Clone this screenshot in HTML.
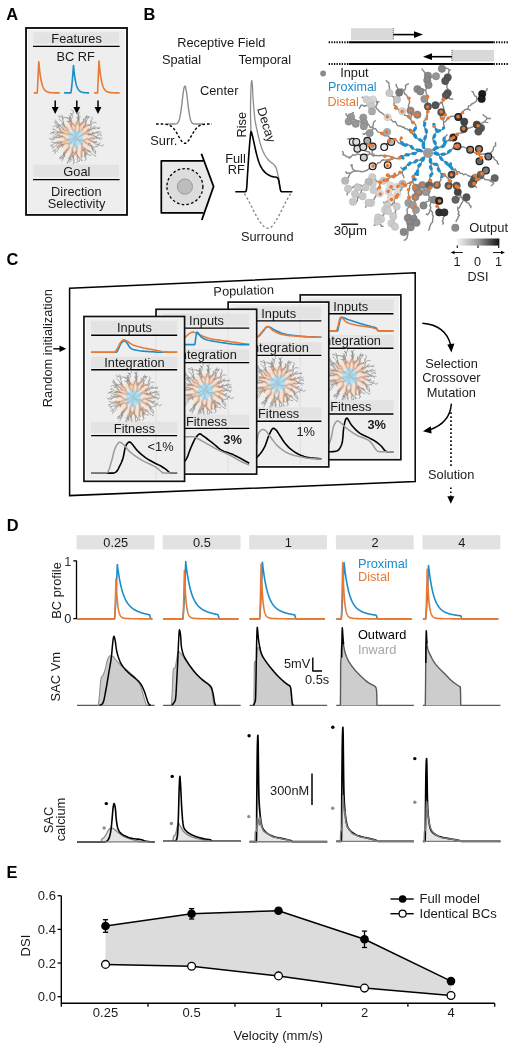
<!DOCTYPE html>
<html><head><meta charset="utf-8"><title>Figure</title>
<style>
html,body{margin:0;padding:0;background:#fff;width:516px;height:1050px;overflow:hidden;}
svg{display:block;will-change:transform;}
text{font-family:"Liberation Sans",sans-serif;}
</style></head><body>
<svg width="516" height="1050" viewBox="0 0 516 1050">
<defs><linearGradient id="dsig" x1="0" x2="1" y1="0" y2="0"><stop offset="0" stop-color="#f4f4f4"/><stop offset="0.5" stop-color="#9a9a9a"/><stop offset="1" stop-color="#111"/></linearGradient><g id="sac"><circle cx="0" cy="0" r="16.5" fill="#f5dccb" fill-opacity="0.55"/><circle cx="0" cy="0" r="7.4" fill="#b0dff1"/><path d="M6.95,2.2L8.05,2.24M8.05,2.24L9.1,1.93M9.1,1.93L9.96,1.24M9.96,1.24L10.93,0.72M10.93,0.72L12.03,0.61M12.03,0.61L13.1,0.87M13.1,0.87L14.19,0.71M14.19,0.71L15.22,0.33M15.22,0.33L16.11,-0.32M16.11,-0.32L17.18,-0.09M17.18,-0.09L18.23,0.25M12.03,0.61L12.94,1.23M12.94,1.23L13.9,1.77M13.9,1.77L14.84,2.33M14.84,2.33L15.89,2.67M15.89,2.67L16.93,3.02M16.93,3.02L17.83,3.65M16.93,3.02L17.8,3.69M6.95,2.19L7.98,2.56M7.98,2.56L8.58,3.49M8.58,3.49L9.4,4.23M9.4,4.23L10.47,4.45M10.47,4.45L11.45,4.96M11.45,4.96L12.12,5.83M12.12,5.83L13,6.48M13,6.48L14,6.95M14,6.95L15.02,7.36M15.02,7.36L16.03,7.79M10.47,4.45L11.39,5.05M11.39,5.05L12.35,5.59M12.35,5.59L13.41,5.89M13.41,5.89L14.5,6.01M14.5,6.01L15.28,6.8M15.28,6.8L15.72,7.8M15.72,7.8L16.17,8.81M5.86,4.37L6.33,5.37M6.33,5.37L6.33,6.47M6.33,6.47L6.36,7.57M6.36,7.57L6.77,8.59M6.77,8.59L7.03,9.66M7.03,9.66L7.67,10.55M7.67,10.55L8.35,11.42M8.35,11.42L9.44,11.6M9.44,11.6L10.54,11.54M10.54,11.54L11.51,12.05M11.51,12.05L12.42,12.67M6.77,8.59L7.67,9.22M7.67,9.22L8.39,10.05M8.39,10.05L8.93,11.01M8.93,11.01L9.14,12.09M9.14,12.09L9.48,13.14M9.48,13.14L10.22,13.95M10.22,13.95L11.04,14.69M6.09,5.45L5.99,6.55M5.99,6.55L6.3,7.6M6.3,7.6L6.4,8.7M6.4,8.7L6.55,9.79M6.55,9.79L7.04,10.77M7.04,10.77L7.76,11.61M7.76,11.61L8.57,12.35M8.57,12.35L9.26,13.21M9.26,13.21L9.52,14.28M9.52,14.28L9.59,15.38M9.52,14.28L9.38,15.37M6.4,8.7L6.48,9.79M6.48,9.79L6.64,10.88M6.64,10.88L6.22,11.9M6.22,11.9L6.14,13M6.14,13L6.07,14.09M6.07,14.09L5.99,15.19M5.99,15.19L5.88,16.29M5.88,16.29L5.88,17.39M0.29,7.64L1.18,8.29M1.18,8.29L1.41,9.36M1.41,9.36L1.2,10.44M1.2,10.44L1.1,11.54M1.1,11.54L0.88,12.62M0.88,12.62L0.72,13.71M0.72,13.71L0.84,14.8M0.84,14.8L1.06,15.88M1.06,15.88L1.46,16.9M1.46,16.9L2.3,17.61M1.46,16.9L1.87,17.92M0.88,12.62L0.39,13.6M0.39,13.6L-0.36,14.41M-0.36,14.41L-1.12,15.2M-1.12,15.2L-1.7,16.14M-1.7,16.14L-2.25,17.09M-2.25,17.09L-2.62,18.13M-2.25,17.09L-2.35,18.19M-1.69,7.9L-2.48,8.66M-2.48,8.66L-3.08,9.58M-3.08,9.58L-3.16,10.68M-3.16,10.68L-3.44,11.74M-3.44,11.74L-3.31,12.83M-3.31,12.83L-3.1,13.91M-3.1,13.91L-3.21,15.01M-3.21,15.01L-3.57,16.05M-3.57,16.05L-3.61,17.14M-3.16,10.68L-3.11,11.78M-3.11,11.78L-3.25,12.87M-3.25,12.87L-3.41,13.96M-3.41,13.96L-3.51,15.05M-3.51,15.05L-4.33,15.78M-4.33,15.78L-4.7,16.82M-4.7,16.82L-5.42,17.65M-5.7,4.5L-6.5,5.26M-6.5,5.26L-6.66,6.35M-6.66,6.35L-6.58,7.45M-6.58,7.45L-6.64,8.55M-6.64,8.55L-6.53,9.64M-6.53,9.64L-7,10.64M-7,10.64L-7.8,11.4M-7.8,11.4L-8.77,11.9M-8.77,11.9L-9.79,12.32M-9.79,12.32L-10.14,13.37M-10.14,13.37L-10.55,14.38M-6.64,8.55L-7.08,9.56M-7.08,9.56L-7.87,10.32M-7.87,10.32L-8.45,11.25M-8.45,11.25L-8.98,12.22M-8.98,12.22L-9.27,13.28M-9.27,13.28L-10,14.1M-10,14.1L-10.9,14.73M-9.27,13.28L-9.97,14.13M-9.97,14.13L-10.5,15.09M-5.45,4.84L-6.5,5.16M-6.5,5.16L-7.6,5.21M-7.6,5.21L-8.68,5.01M-8.68,5.01L-9.78,5M-9.78,5L-10.69,5.61M-10.69,5.61L-11.72,6M-11.72,6L-12.61,6.65M-12.61,6.65L-13.62,7.09M-13.62,7.09L-14.69,7.34M-14.69,7.34L-15.51,8.07M-10.69,5.61L-11.78,5.79M-11.78,5.79L-12.68,6.43M-12.68,6.43L-13.77,6.52M-13.77,6.52L-14.84,6.78M-14.84,6.78L-15.93,6.93M-15.93,6.93L-16.89,7.48M-6.96,2L-8.05,1.88M-8.05,1.88L-9.15,1.89M-9.15,1.89L-10.12,2.4M-10.12,2.4L-11.01,3.05M-11.01,3.05L-11.97,3.58M-11.97,3.58L-13.06,3.77M-13.06,3.77L-14.16,3.78M-14.16,3.78L-15.26,3.83M-15.26,3.83L-16.23,4.33M-16.23,4.33L-17.18,4.9M-11.97,3.58L-12.93,4.12M-12.93,4.12L-13.91,4.62M-13.91,4.62L-15.01,4.52M-15.01,4.52L-15.98,4.01M-15.98,4.01L-17.01,3.63M-17.01,3.63L-18.09,3.83M-7.03,1.45L-8.11,1.27M-8.11,1.27L-9.21,1.2M-9.21,1.2L-10.16,0.64M-10.16,0.64L-10.92,-0.15M-10.92,-0.15L-11.46,-1.11M-11.46,-1.11L-12.47,-1.55M-12.47,-1.55L-13.4,-2.14M-13.4,-2.14L-14.48,-1.93M-14.48,-1.93L-15.49,-1.5M-15.49,-1.5L-16.58,-1.33M-16.58,-1.33L-17.55,-0.81M-12.47,-1.55L-13.51,-1.9M-13.51,-1.9L-14.61,-1.89M-14.61,-1.89L-15.55,-2.47M-15.55,-2.47L-16.43,-3.12M-16.43,-3.12L-17.53,-3.15M-6.89,-3.92L-7.97,-4.16M-7.97,-4.16L-9.07,-4.2M-9.07,-4.2L-10.11,-4.55M-10.11,-4.55L-11.06,-5.09M-11.06,-5.09L-12.07,-5.54M-12.07,-5.54L-13.17,-5.56M-13.17,-5.56L-14.16,-6.04M-14.16,-6.04L-15.23,-6.3M-15.23,-6.3L-16.3,-6.04M-16.3,-6.04L-17.34,-5.68M-15.23,-6.3L-16.33,-6.27M-11.06,-5.09L-12.13,-5.37M-12.13,-5.37L-13.2,-5.61M-13.2,-5.61L-14.11,-6.23M-14.11,-6.23L-14.64,-7.2M-14.64,-7.2L-15.22,-8.13M-15.22,-8.13L-15.73,-9.11M-5.73,-4.42L-6.46,-5.24M-6.46,-5.24L-6.98,-6.21M-6.98,-6.21L-7.63,-7.1M-7.63,-7.1L-8.64,-7.53M-8.64,-7.53L-9.68,-7.9M-9.68,-7.9L-10.77,-8.05M-10.77,-8.05L-11.82,-8.38M-11.82,-8.38L-12.5,-9.24M-12.5,-9.24L-12.9,-10.27M-12.9,-10.27L-13.7,-11.02M-7.63,-7.1L-7.75,-8.19M-7.75,-8.19L-8.09,-9.24M-8.09,-9.24L-8.79,-10.08M-8.79,-10.08L-9.77,-10.59M-9.77,-10.59L-10.75,-11.08M-10.75,-11.08L-11.21,-12.08M-11.21,-12.08L-11.96,-12.89M-11.21,-12.08L-11.61,-13.11M-1.86,-7.88L-2.76,-8.52M-2.76,-8.52L-3.28,-9.49M-3.28,-9.49L-3.7,-10.5M-3.7,-10.5L-3.99,-11.56M-3.99,-11.56L-4.12,-12.66M-4.12,-12.66L-4.16,-13.76M-4.16,-13.76L-4.25,-14.85M-4.25,-14.85L-4.23,-15.95M-4.23,-15.95L-4.68,-16.95M-3.7,-10.5L-4.15,-11.51M-4.15,-11.51L-4.63,-12.5M-4.63,-12.5L-4.77,-13.59M-4.77,-13.59L-5.34,-14.52M-5.34,-14.52L-5.92,-15.46M-5.92,-15.46L-6.12,-16.54M-0.46,-7.14L-0.5,-8.24M-0.5,-8.24L-0.39,-9.34M-0.39,-9.34L-0.01,-10.37M-0.01,-10.37L-0.09,-11.47M-0.09,-11.47L-0.8,-12.3M-0.8,-12.3L-1.51,-13.14M-1.51,-13.14L-2.33,-13.88M-2.33,-13.88L-3.02,-14.74M-3.02,-14.74L-3.7,-15.6M-3.7,-15.6L-4.5,-16.36M-4.5,-16.36L-4.58,-17.45M-0.09,-11.47L-0.14,-12.56M-0.14,-12.56L0.29,-13.57M0.29,-13.57L1.06,-14.36M1.06,-14.36L1.09,-15.46M1.09,-15.46L1.57,-16.45M1.57,-16.45L2.22,-17.34M2.22,-17.34L2.98,-18.14M3,-6.56L3.43,-7.57M3.43,-7.57L3.59,-8.66M3.59,-8.66L3.86,-9.73M3.86,-9.73L3.97,-10.82M3.97,-10.82L4.05,-11.92M4.05,-11.92L3.73,-12.97M3.73,-12.97L3.34,-14M3.34,-14L3.45,-15.1M3.45,-15.1L3.3,-16.19M3.3,-16.19L2.85,-17.19M4.05,-11.92L4.67,-12.83M4.67,-12.83L5.39,-13.66M5.39,-13.66L5.98,-14.59M5.98,-14.59L6.74,-15.38M6.74,-15.38L7.38,-16.28M6.74,-15.38L7.74,-15.85M4.09,-7.01L5.08,-7.48M5.08,-7.48L6.07,-7.97M6.07,-7.97L6.63,-8.92M6.63,-8.92L7.52,-9.56M7.52,-9.56L7.95,-10.57M7.95,-10.57L8.39,-11.58M8.39,-11.58L9.01,-12.49M9.01,-12.49L9.55,-13.44M9.55,-13.44L10.1,-14.4M6.63,-8.92L7.15,-9.88M7.15,-9.88L7.74,-10.81M7.74,-10.81L8.22,-11.8M8.22,-11.8L9.06,-12.51M9.06,-12.51L10.15,-12.65M10.15,-12.65L11.25,-12.63M11.25,-12.63L12.3,-12.97M6.98,-4.11L7.79,-4.85M7.79,-4.85L8.77,-5.35M8.77,-5.35L9.8,-5.73M9.8,-5.73L10.49,-6.59M10.49,-6.59L11.43,-7.16M11.43,-7.16L12.26,-7.89M12.26,-7.89L13.25,-8.35M13.25,-8.35L14.2,-8.91M14.2,-8.91L14.75,-9.87M10.49,-6.59L11.57,-6.8M11.57,-6.8L12.57,-7.25M12.57,-7.25L13.64,-7.5M13.64,-7.5L14.55,-8.13M14.55,-8.13L15.51,-8.67M6.36,-3.2L7.33,-3.72M7.33,-3.72L8.21,-4.38M8.21,-4.38L9.22,-4.82M9.22,-4.82L10.32,-4.81M10.32,-4.81L11.38,-4.53M11.38,-4.53L12.36,-4.03M12.36,-4.03L13.34,-3.53M13.34,-3.53L14.44,-3.52M14.44,-3.52L15.54,-3.59M15.54,-3.59L16.38,-4.3M16.38,-4.3L17.42,-4.65M10.32,-4.81L11.42,-4.86M11.42,-4.86L12.51,-4.77M12.51,-4.77L13.38,-4.1M13.38,-4.1L14.48,-3.99M14.48,-3.99L15.57,-4.07M15.57,-4.07L16.65,-3.85M16.65,-3.85L17.56,-3.23M17.56,-3.23L18.32,-2.43" fill="none" stroke="#f3c4a6" stroke-width="2.5" stroke-linecap="round"/><path d="M0.76,0.24L1.73,0.75M1.73,0.75L2.68,1.31M2.68,1.31L3.7,1.72M3.7,1.72L4.8,1.75M4.8,1.75L5.86,2.05M5.86,2.05L6.95,2.2M4.8,1.75L5.9,1.88M5.9,1.88L6.95,2.19M0.43,0.67L1.37,1.25M1.37,1.25L2.32,1.8M2.32,1.8L3.24,2.4M3.24,2.4L4.03,3.17M4.03,3.17L4.9,3.84M4.9,3.84L5.86,4.37M5.86,4.37L6.09,5.45M-0.1,0.79L0.24,1.84M0.24,1.84L0,2.92M0,2.92L-0.69,3.77M-0.69,3.77L-1.02,4.82M-1.02,4.82L-1.04,5.92M-1.04,5.92L-0.5,6.88M-0.5,6.88L0.29,7.64M-1.04,5.92L-1.03,7.02M-1.03,7.02L-1.69,7.9M-0.59,0.54L-1.24,1.43M-1.24,1.43L-1.93,2.29M-1.93,2.29L-2.94,2.72M-2.94,2.72L-3.8,3.41M-3.8,3.41L-4.73,3.99M-4.73,3.99L-5.7,4.5M-3.8,3.41L-4.72,4.01M-4.72,4.01L-5.45,4.84M-0.8,0.04L-1.9,0M-1.9,0L-2.87,0.51M-2.87,0.51L-3.97,0.64M-3.97,0.64L-5,1.01M-5,1.01L-5.94,1.59M-5.94,1.59L-6.96,2M-5.94,1.59L-7.03,1.45M-0.64,-0.48L-1.32,-1.35M-1.32,-1.35L-1.99,-2.22M-1.99,-2.22L-2.81,-2.95M-2.81,-2.95L-3.69,-3.62M-3.69,-3.62L-4.73,-3.97M-4.73,-3.97L-5.81,-3.75M-5.81,-3.75L-6.89,-3.92M-4.73,-3.97L-5.73,-4.42M-0.18,-0.78L0.12,-1.84M0.12,-1.84L-0.03,-2.93M-0.03,-2.93L-0.4,-3.97M-0.4,-3.97L-0.24,-5.05M-0.24,-5.05L-0.68,-6.06M-0.68,-6.06L-1.11,-7.08M-1.11,-7.08L-1.86,-7.88M-0.68,-6.06L-0.46,-7.14M0.37,-0.71L0.49,-1.8M0.49,-1.8L0.95,-2.81M0.95,-2.81L1.58,-3.71M1.58,-3.71L1.73,-4.8M1.73,-4.8L2.5,-5.58M2.5,-5.58L3,-6.56M2.5,-5.58L3.11,-6.5M3.11,-6.5L4.09,-7.01M0.74,-0.31L1.84,-0.25M1.84,-0.25L2.84,-0.7M2.84,-0.7L3.63,-1.47M3.63,-1.47L4.4,-2.25M4.4,-2.25L5.45,-2.58M5.45,-2.58L6.36,-3.2M6.36,-3.2L6.98,-4.11" fill="none" stroke="#a8dcf0" stroke-width="2.6" stroke-linecap="round"/><path d="M0.76,0.24 L1.73,0.75 L2.68,1.31 L3.7,1.72 L4.8,1.75M4.8,1.75 L5.86,2.05 L6.95,2.2 L8.05,2.24 L9.1,1.93 L9.96,1.24 L10.93,0.72 L12.03,0.61M12.03,0.61 L13.1,0.87M12.03,0.61 L12.94,1.23M4.8,1.75 L5.9,1.88 L6.95,2.19 L7.98,2.56 L8.58,3.49 L9.4,4.23 L10.47,4.45M10.47,4.45 L11.45,4.96 L12.12,5.83M10.47,4.45 L11.39,5.05M0.43,0.67 L1.37,1.25 L2.32,1.8 L3.24,2.4 L4.03,3.17 L4.9,3.84 L5.86,4.37M5.86,4.37 L6.33,5.37 L6.33,6.47 L6.36,7.57 L6.77,8.59M6.77,8.59 L7.03,9.66 L7.67,10.55M6.77,8.59 L7.67,9.22 L8.39,10.05M5.86,4.37 L6.09,5.45 L5.99,6.55 L6.3,7.6 L6.4,8.7M6.4,8.7 L6.55,9.79 L7.04,10.77M6.4,8.7 L6.48,9.79 L6.64,10.88 L6.22,11.9M-0.1,0.79 L0.24,1.84 L0,2.92 L-0.69,3.77 L-1.02,4.82 L-1.04,5.92M-1.04,5.92 L-0.5,6.88 L0.29,7.64 L1.18,8.29 L1.41,9.36 L1.2,10.44 L1.1,11.54 L0.88,12.62M-1.04,5.92 L-1.03,7.02 L-1.69,7.9 L-2.48,8.66 L-3.08,9.58 L-3.16,10.68M-3.16,10.68 L-3.44,11.74 L-3.31,12.83M-3.16,10.68 L-3.11,11.78 L-3.25,12.87M-0.59,0.54 L-1.24,1.43 L-1.93,2.29 L-2.94,2.72 L-3.8,3.41M-3.8,3.41 L-4.73,3.99 L-5.7,4.5 L-6.5,5.26 L-6.66,6.35 L-6.58,7.45 L-6.64,8.55M-6.64,8.55 L-6.53,9.64 L-7,10.64M-6.64,8.55 L-7.08,9.56 L-7.87,10.32M-3.8,3.41 L-4.72,4.01 L-5.45,4.84 L-6.5,5.16 L-7.6,5.21 L-8.68,5.01 L-9.78,5 L-10.69,5.61M-10.69,5.61 L-11.72,6M-10.69,5.61 L-11.78,5.79M-0.8,0.04 L-1.9,0 L-2.87,0.51 L-3.97,0.64 L-5,1.01 L-5.94,1.59M-5.94,1.59 L-6.96,2 L-8.05,1.88 L-9.15,1.89 L-10.12,2.4 L-11.01,3.05 L-11.97,3.58M-5.94,1.59 L-7.03,1.45 L-8.11,1.27 L-9.21,1.2 L-10.16,0.64 L-10.92,-0.15 L-11.46,-1.11 L-12.47,-1.55M-0.64,-0.48 L-1.32,-1.35 L-1.99,-2.22 L-2.81,-2.95 L-3.69,-3.62 L-4.73,-3.97M-4.73,-3.97 L-5.81,-3.75 L-6.89,-3.92 L-7.97,-4.16 L-9.07,-4.2 L-10.11,-4.55 L-11.06,-5.09M-11.06,-5.09 L-12.07,-5.54M-11.06,-5.09 L-12.13,-5.37M-4.73,-3.97 L-5.73,-4.42 L-6.46,-5.24 L-6.98,-6.21 L-7.63,-7.1M-7.63,-7.1 L-8.64,-7.53 L-9.68,-7.9 L-10.77,-8.05M-7.63,-7.1 L-7.75,-8.19 L-8.09,-9.24 L-8.79,-10.08M-0.18,-0.78 L0.12,-1.84 L-0.03,-2.93 L-0.4,-3.97 L-0.24,-5.05 L-0.68,-6.06M-0.68,-6.06 L-1.11,-7.08 L-1.86,-7.88 L-2.76,-8.52 L-3.28,-9.49 L-3.7,-10.5M-3.7,-10.5 L-3.99,-11.56 L-4.12,-12.66M-3.7,-10.5 L-4.15,-11.51 L-4.63,-12.5M-0.68,-6.06 L-0.46,-7.14 L-0.5,-8.24 L-0.39,-9.34 L-0.01,-10.37 L-0.09,-11.47M-0.09,-11.47 L-0.8,-12.3 L-1.51,-13.14M-0.09,-11.47 L-0.14,-12.56M0.37,-0.71 L0.49,-1.8 L0.95,-2.81 L1.58,-3.71 L1.73,-4.8 L2.5,-5.58M2.5,-5.58 L3,-6.56 L3.43,-7.57 L3.59,-8.66 L3.86,-9.73 L3.97,-10.82 L4.05,-11.92M4.05,-11.92 L3.73,-12.97M2.5,-5.58 L3.11,-6.5 L4.09,-7.01 L5.08,-7.48 L6.07,-7.97 L6.63,-8.92M6.63,-8.92 L7.52,-9.56 L7.95,-10.57M6.63,-8.92 L7.15,-9.88 L7.74,-10.81M0.74,-0.31 L1.84,-0.25 L2.84,-0.7 L3.63,-1.47 L4.4,-2.25 L5.45,-2.58 L6.36,-3.2M6.36,-3.2 L6.98,-4.11 L7.79,-4.85 L8.77,-5.35 L9.8,-5.73 L10.49,-6.59M10.49,-6.59 L11.43,-7.16M10.49,-6.59 L11.57,-6.8M6.36,-3.2 L7.33,-3.72 L8.21,-4.38 L9.22,-4.82 L10.32,-4.81M10.32,-4.81 L11.38,-4.53 L12.36,-4.03M10.32,-4.81 L11.42,-4.86 L12.51,-4.77" fill="none" stroke="#a09a98" stroke-width="0.45"/><path d="M13.1,0.87 L14.19,0.71 L15.22,0.33 L16.11,-0.32 L17.18,-0.09M17.18,-0.09 L18.23,0.25 L19.3,0 L20.37,-0.25 L21.47,-0.3 L22.52,-0.64 L23.53,-0.21 L24.61,0.02 L25.7,-0.13 L26.74,0.24M23.53,-0.21L24.79,2.03M12.94,1.23 L13.9,1.77 L14.84,2.33 L15.89,2.67 L16.93,3.02M16.93,3.02 L17.83,3.65 L18.92,3.79 L19.94,4.2 L21.04,4.13 L22.03,4.62M18.92,3.79L21.39,2.63M16.93,3.02 L17.8,3.69 L18.54,4.5 L19.38,5.22 L20.18,5.97 L21.27,6.1 L22.37,6.22 L23.35,6.72 L24.45,6.76 L25.4,7.31 L26.21,8.06M18.54,4.5L20.84,3.81M22.37,6.22L24.8,4.67M26.21,8.06L28.41,6.22M12.12,5.83 L13,6.48 L14,6.95 L15.02,7.36M15.02,7.36 L16.03,7.79 L17.06,8.18 L18.07,8.62 L19.17,8.61 L20.24,8.35 L21.33,8.18 L22.28,8.74M21.33,8.18L23.42,6.48M12.35,5.59 L13.41,5.89 L14.5,6.01 L15.28,6.8 L15.72,7.8M12.35,5.59L14.47,4.94M15.72,7.8 L16.17,8.81 L16.44,9.87 L16.6,10.96 L17.31,11.8 L17.81,12.78 L18.26,13.78 L19.04,14.56 L19.77,15.38 L20.76,15.87M16.44,9.87L18.66,9.92M15.72,7.8 L16.44,8.64 L16.73,9.7 L17.5,10.49 L18.51,10.91 L19.19,11.78 L19.63,12.79 L20.26,13.69M16.73,9.7L17.08,12.54M19.63,12.79L19.65,15.32M7.67,10.55 L8.35,11.42 L9.44,11.6 L10.54,11.54 L11.51,12.05M7.67,10.55L7.53,13.13M11.51,12.05L14.25,11.96M11.51,12.05 L12.42,12.67 L13.39,13.19 L14.29,13.82 L14.92,14.72 L15.82,15.35 L16.71,16 L17.72,16.43 L18.5,17.21 L19.57,17.48 L20.45,18.14M13.39,13.19L15.67,13.29M8.39,10.05 L8.93,11.01 L9.14,12.09 L9.48,13.14 L10.22,13.95 L11.04,14.69 L11.4,15.73M8.39,10.05L10.4,9.85M10.22,13.95L10.49,16.89M11.4,15.73 L12.27,16.4 L13.32,16.74 L14.41,16.86 L15.4,17.34M7.04,10.77 L7.76,11.61 L8.57,12.35 L9.26,13.21 L9.52,14.28M9.52,14.28L9.44,16.01M9.52,14.28 L9.59,15.38 L9.41,16.46 L9.25,17.55 L9.14,18.65 L9.9,19.44 L10.69,20.21M9.41,16.46L8.5,17.95M10.69,20.21L9.05,22.6M9.52,14.28 L9.38,15.37 L9.69,16.43 L9.69,17.53 L10.05,18.57 L10.14,19.66 L10.53,20.7M9.69,16.43L11.14,17.01M6.64,10.88 L6.22,11.9 L6.14,13 L6.07,14.09 L5.99,15.19M5.99,15.19 L5.88,16.29 L5.88,17.39 L5.74,18.48 L5.3,19.49 L5.46,20.58 L5.57,21.67 L5.85,22.73M5.88,17.39L7.55,18.58M5.57,21.67L7.19,22.17M0.88,12.62 L0.72,13.71 L0.84,14.8 L1.06,15.88 L1.46,16.9M0.84,14.8L-0.59,16.07M1.46,16.9 L2.3,17.61 L3.03,18.43 L3.81,19.21 L4.15,20.26 L4.05,21.35 L3.81,22.43 L3.81,23.53M3.03,18.43L1.81,20.88M3.81,22.43L2.64,23.44M1.46,16.9 L1.87,17.92 L2.16,18.98 L2.19,20.08 L1.73,21.08 L1.96,22.16 L2.17,23.24M2.17,23.24L0.49,24.91M0.88,12.62 L0.39,13.6 L-0.36,14.41 L-1.12,15.2 L-1.7,16.14 L-2.25,17.09M-0.36,14.41L-1.91,16.14M-2.25,17.09 L-2.62,18.13 L-2.83,19.21 L-2.45,20.24 L-2.48,21.34 L-2.17,22.4 L-1.92,23.47 L-1.95,24.57 L-2.3,25.61 L-2.83,26.57M-1.92,23.47L-0.56,24.55M-2.25,17.09 L-2.35,18.19 L-2.17,19.27 L-1.92,20.34 L-1.42,21.32 L-1.23,22.4M-3.31,12.83 L-3.1,13.91 L-3.21,15.01 L-3.57,16.05 L-3.61,17.14 L-4.2,18.07M-3.31,12.83L-1.77,14.5M-3.61,17.14L-2.56,19.75M-4.2,18.07 L-4.88,18.94 L-4.88,20.04 L-5.03,21.13 L-4.74,22.19 L-4.67,23.29M-4.88,20.04L-4.12,21.54M-4.2,18.07 L-4.59,19.1 L-5.37,19.87 L-5.93,20.82 L-6.28,21.87 L-6.68,22.89M-5.37,19.87L-7.12,21.11M-3.25,12.87 L-3.41,13.96 L-3.51,15.05 L-4.33,15.78 L-4.7,16.82M-3.25,12.87L-2.48,14.66M-4.7,16.82 L-5.42,17.65 L-5.66,18.72 L-6.12,19.72 L-6.22,20.82 L-6.72,21.8 L-7.5,22.57 L-8.02,23.54 L-8.09,24.64 L-8.5,25.66M-5.66,18.72L-7.84,20.14M-7.5,22.57L-5.56,24.58M-7,10.64 L-7.8,11.4 L-8.77,11.9 L-9.79,12.32 L-10.14,13.37 L-10.55,14.38M-10.14,13.37L-12.51,14.07M-10.55,14.38 L-11.11,15.33 L-11.76,16.22 L-11.89,17.31 L-11.57,18.36 L-11.86,19.42 L-12.31,20.43 L-12.87,21.37 L-13.35,22.36 L-14.09,23.18M-11.76,16.22L-11.09,18.35M-10.55,14.38 L-10.78,15.46 L-11.01,16.54 L-11.22,17.62 L-11.8,18.55 L-12.74,19.12 L-13.23,20.1M-11.01,16.54L-10.79,18.25M-13.23,20.1L-16.19,20.57M-7.87,10.32 L-8.45,11.25 L-8.98,12.22 L-9.27,13.28M-9.27,13.28 L-10,14.1 L-10.9,14.73 L-11.52,15.64 L-11.87,16.68 L-12.81,17.26 L-13.75,17.83 L-14.58,18.55 L-15.53,19.11M-10.9,14.73L-12.82,15.51M-13.75,17.83L-13.33,20.49M-9.27,13.28 L-9.97,14.13 L-10.5,15.09 L-11.51,15.53 L-12.38,16.2 L-12.99,17.12 L-13.71,17.95 L-14.62,18.57 L-15.66,18.95 L-16.5,19.65M-10.5,15.09L-12.03,15.25M-11.72,6 L-12.61,6.65 L-13.62,7.09 L-14.69,7.34 L-15.51,8.07 L-16.49,8.58M-12.61,6.65L-15.19,5.9M-16.49,8.58 L-16.82,9.62 L-17.05,10.7 L-17.53,11.69 L-18.18,12.58 L-19.04,13.26 L-19.94,13.89 L-20.47,14.86 L-21.42,15.42M-11.78,5.79 L-12.68,6.43 L-13.77,6.52 L-14.84,6.78 L-15.93,6.93M-12.68,6.43L-13.2,9.26M-15.93,6.93 L-16.89,7.48 L-17.46,8.41 L-18.1,9.31 L-18.59,10.29 L-19.37,11.07 L-20.42,11.38 L-21.41,11.88 L-22.18,12.66 L-22.69,13.63M-17.46,8.41L-19.25,8.15M-20.42,11.38L-20.66,13.89M-13.06,3.77 L-14.16,3.78 L-15.26,3.83 L-16.23,4.33 L-17.18,4.9M-14.16,3.78L-15.84,5.67M-17.18,4.9 L-17.93,5.69 L-18.8,6.37 L-19.7,7.01 L-20.29,7.94 L-21.31,8.35 L-22.37,8.63 L-23.47,8.59M-22.37,8.63L-22.63,10.96M-17.18,4.9 L-18.26,5.1 L-19.31,4.8 L-20.41,4.91 L-21.45,5.26 L-22.18,6.08 L-23.17,6.56 L-24.23,6.86 L-25.31,7.06M-23.17,6.56L-24.56,8.56M-12.93,4.12 L-13.91,4.62 L-15.01,4.52 L-15.98,4.01 L-17.01,3.63 L-18.09,3.83 L-19.17,4.04M-19.17,4.04 L-20.27,4.15 L-21.36,4.28 L-22.45,4.17 L-23.53,3.96 L-24.58,3.62M-12.47,-1.55 L-13.4,-2.14 L-14.48,-1.93 L-15.49,-1.5 L-16.58,-1.33 L-17.55,-0.81 L-18.65,-0.86M-14.48,-1.93L-16.59,-0.44M-18.65,-0.86L-19.88,-2.81M-18.65,-0.86 L-19.71,-0.58 L-20.68,-0.06 L-21.59,0.57 L-22.63,0.93 L-23.72,0.84 L-24.8,1.04 L-25.89,0.88M-20.68,-0.06L-22.84,1.98M-24.8,1.04L-26.26,-0.59M-18.65,-0.86 L-19.71,-1.14 L-20.8,-1.24 L-21.89,-1.05 L-22.91,-0.64 L-23.85,-0.08M-20.8,-1.24L-22.53,-2.98M-12.47,-1.55 L-13.51,-1.9 L-14.61,-1.89 L-15.55,-2.47 L-16.43,-3.12 L-17.53,-3.15M-17.53,-3.15 L-18.62,-3.25 L-19.7,-3.47 L-20.52,-4.2 L-21.53,-4.65 L-22.51,-5.14 L-23.48,-5.65 L-24.56,-5.86M-23.48,-5.65L-25.73,-4.27M-12.07,-5.54 L-13.17,-5.56 L-14.16,-6.04 L-15.23,-6.3M-15.23,-6.3 L-16.3,-6.04 L-17.34,-5.68 L-18.36,-5.28 L-19.45,-5.43 L-20.31,-6.11 L-21.35,-6.49 L-22.45,-6.54M-21.35,-6.49L-24.05,-5.32M-15.23,-6.3 L-16.33,-6.27 L-17.42,-6.44 L-18.3,-7.09 L-19.34,-7.47 L-20.19,-8.16 L-21.03,-8.87 L-22.1,-9.13 L-23.19,-9.27M-17.42,-6.44L-19.05,-5.25M-21.03,-8.87L-22.59,-8.58M-12.13,-5.37 L-13.2,-5.61 L-14.11,-6.23 L-14.64,-7.2 L-15.22,-8.13 L-15.73,-9.11M-13.2,-5.61L-16.03,-5.11M-15.73,-9.11 L-16.59,-9.79 L-17.18,-10.72 L-18.09,-11.34 L-18.87,-12.12 L-19.96,-12.25 L-21.04,-12.48M-17.18,-10.72L-19.52,-10.49M-21.04,-12.48L-22.78,-11.42M-15.73,-9.11 L-16.04,-10.16 L-16.49,-11.17 L-17.38,-11.82 L-17.91,-12.78 L-18.91,-13.24 L-19.54,-14.14 L-20.09,-15.09 L-20.67,-16.03 L-21.45,-16.8M-16.49,-11.17L-16.49,-13.63M-10.77,-8.05 L-11.82,-8.38 L-12.5,-9.24 L-12.9,-10.27 L-13.7,-11.02 L-14.59,-11.67M-14.59,-11.67 L-15.48,-12.31 L-16.48,-12.76 L-17.47,-13.25 L-18.07,-14.17 L-18.8,-14.99 L-19.38,-15.93 L-19.95,-16.87M-16.48,-12.76L-18.66,-12.32M-19.38,-15.93L-19.96,-18.63M-14.59,-11.67 L-15.27,-12.53 L-16,-13.35 L-16.87,-14.02 L-17.6,-14.85 L-18.4,-15.6 L-19.21,-16.34M-16,-13.35L-18.12,-13.22M-8.79,-10.08 L-9.77,-10.59 L-10.75,-11.08 L-11.21,-12.08M-11.21,-12.08L-11.53,-14.49M-11.21,-12.08 L-11.96,-12.89 L-12.51,-13.84 L-13.13,-14.75 L-13.52,-15.78 L-14.01,-16.76 L-14.72,-17.61 L-15.6,-18.26 L-16.35,-19.07 L-16.76,-20.09M-12.51,-13.84L-15.15,-13.34M-11.21,-12.08 L-11.61,-13.11 L-12.13,-14.08 L-12.15,-15.18 L-11.96,-16.26 L-12.45,-17.24 L-12.81,-18.28 L-13.01,-19.37 L-13.25,-20.44 L-13.25,-21.54 L-13.24,-22.64M-12.13,-14.08L-11.98,-16.66M-12.81,-18.28L-12.32,-20.12M-13.24,-22.64L-14.56,-23.36M-4.12,-12.66 L-4.16,-13.76 L-4.25,-14.85 L-4.23,-15.95 L-4.68,-16.95 L-5.2,-17.93M-4.68,-16.95L-7.24,-17.62M-5.2,-17.93 L-5.85,-18.82 L-6.73,-19.48 L-7.56,-20.19 L-8.57,-20.62 L-9.67,-20.7 L-10.75,-20.91 L-11.85,-20.99 L-12.95,-20.91 L-14.05,-20.93 L-15.01,-21.46 L-15.47,-22.46M-6.73,-19.48L-5.6,-21.62M-15.01,-21.46L-17.82,-22.27M-5.2,-17.93 L-5.77,-18.87 L-6.74,-19.38 L-7.66,-19.99 L-8.63,-20.49 L-9.54,-21.12M-4.63,-12.5 L-4.77,-13.59 L-5.34,-14.52 L-5.92,-15.46 L-6.12,-16.54 L-5.94,-17.63M-4.63,-12.5L-2.73,-14.77M-6.12,-16.54L-8.99,-16.89M-5.94,-17.63 L-5.81,-18.72 L-6.09,-19.78 L-6.2,-20.88 L-6.06,-21.97 L-6.58,-22.94M-6.09,-19.78L-4.96,-21.17M-1.51,-13.14 L-2.33,-13.88 L-3.02,-14.74 L-3.7,-15.6 L-4.5,-16.36 L-4.58,-17.45M-4.5,-16.36L-6.12,-16.88M-4.58,-17.45 L-4.53,-18.55 L-4.11,-19.57 L-3.53,-20.5 L-3.14,-21.53 L-3.4,-22.6 L-3.42,-23.7 L-3.99,-24.63M-3.42,-23.7L-5.74,-25.25M-4.58,-17.45 L-4.66,-18.55 L-4.79,-19.64 L-5,-20.72 L-5.04,-21.82 L-4.57,-22.82 L-3.82,-23.62 L-3.04,-24.39 L-2.31,-25.21 L-2.15,-26.3 L-2.32,-27.39M-4.79,-19.64L-6.35,-20.27M-3.82,-23.62L-5.45,-24.84M-2.32,-27.39L-4.48,-28.38M-0.14,-12.56 L0.29,-13.57 L1.06,-14.36 L1.09,-15.46 L1.57,-16.45 L2.22,-17.34M2.22,-17.34 L2.74,-18.31 L2.5,-19.38 L2.28,-20.46 L2.48,-21.54 L2.8,-22.59 L3.22,-23.61 L2.78,-24.62 L2.51,-25.68M2.5,-19.38L1.18,-21.34M3.22,-23.61L1.4,-25.84M2.22,-17.34 L2.98,-18.14 L3.02,-19.23 L3.02,-20.33 L2.53,-21.32 L2.54,-22.42 L2.76,-23.5 L2.35,-24.52M3.02,-19.23L2.08,-20.89M2.76,-23.5L0.81,-25.38M4.05,-11.92 L3.73,-12.97 L3.34,-14 L3.45,-15.1 L3.3,-16.19 L2.85,-17.19 L3.19,-18.24M3.34,-14L5.68,-15.09M3.19,-18.24L1.59,-20.19M3.19,-18.24 L3.26,-19.34 L3.12,-20.43 L2.98,-21.52 L3.07,-22.61 L2.84,-23.69 L2.92,-24.79M2.92,-24.79L4.36,-26.57M3.19,-18.24 L3.18,-19.34 L3.11,-20.44 L3.07,-21.53 L3.18,-22.63M3.11,-20.44L5.26,-22.34M4.05,-11.92 L4.67,-12.83 L5.39,-13.66 L5.98,-14.59 L6.74,-15.38M5.39,-13.66L6.84,-14.37M6.74,-15.38 L7.38,-16.28 L8.04,-17.16 L8.49,-18.16 L9.02,-19.13 L9.47,-20.13 L10.14,-21 L10.27,-22.09M8.04,-17.16L7.63,-20.1M10.14,-21L12.99,-21.66M6.74,-15.38 L7.74,-15.85 L8.56,-16.58 L9.5,-17.16 L9.79,-18.22 L10.27,-19.2 L10.39,-20.3 L10.83,-21.31 L11.12,-22.37 L11.46,-23.41M10.39,-20.3L12.4,-21.04M7.95,-10.57 L8.39,-11.58 L9.01,-12.49 L9.55,-13.44 L10.1,-14.4M10.1,-14.4L9.58,-16.64M10.1,-14.4 L10.32,-15.48 L10.58,-16.55 L10.88,-17.6 L11.49,-18.52 L12.25,-19.31 L12.72,-20.31 L13.41,-21.16 L14,-22.09M10.58,-16.55L9.91,-18.69M12.72,-20.31L12.78,-21.92M7.74,-10.81 L8.22,-11.8 L9.06,-12.51 L10.15,-12.65M7.74,-10.81L10.59,-11.43M10.15,-12.65 L11.25,-12.63 L12.3,-12.97 L13.28,-13.47 L14.34,-13.78 L14.88,-14.74 L15.29,-15.76 L15.65,-16.8 L15.99,-17.84 L16.44,-18.85 L16.6,-19.93M12.3,-12.97L14.95,-12.53M15.29,-15.76L15.29,-18.19M16.6,-19.93L15.96,-21.46M11.43,-7.16 L12.26,-7.89 L13.25,-8.35 L14.2,-8.91 L14.75,-9.87 L15.26,-10.84M15.26,-10.84 L15.4,-11.93 L15.52,-13.03 L15.71,-14.11 L16.4,-14.97 L17.35,-15.52 L18.31,-16.05M15.52,-13.03L15.54,-14.6M18.31,-16.05L20.91,-15.44M11.57,-6.8 L12.57,-7.25 L13.64,-7.5 L14.55,-8.13 L15.51,-8.67M12.57,-7.25L12.57,-9.85M15.51,-8.67 L16.34,-9.39 L16.9,-10.33 L17.57,-11.21 L18.51,-11.78 L19.51,-12.23M15.51,-8.67 L16.51,-9.11 L17.32,-9.86 L18.38,-10.16 L19.41,-10.53 L20.51,-10.57 L21.55,-10.2 L22.65,-10.15 L23.65,-10.61 L24.54,-11.25M17.32,-9.86L20.18,-9.51M21.55,-10.2L24.33,-9.56M12.36,-4.03 L13.34,-3.53 L14.44,-3.52 L15.54,-3.59 L16.38,-4.3 L17.42,-4.65 L18.5,-4.85M16.38,-4.3L17.36,-6.57M18.5,-4.85 L19.4,-5.49 L20.43,-5.86 L21.38,-6.43 L22.43,-6.75 L23.53,-6.75M18.5,-4.85 L19.53,-5.24 L20.51,-5.75 L21.6,-5.68 L22.65,-5.34 L23.7,-5.66 L24.68,-6.17 L25.76,-6.34M20.51,-5.75L22.52,-3.75M12.51,-4.77 L13.38,-4.1 L14.48,-3.99 L15.57,-4.07 L16.65,-3.85 L17.56,-3.23 L18.32,-2.43M12.51,-4.77L15.08,-3.86M16.65,-3.85L17.45,-6.35M18.32,-2.43 L19.07,-1.63 L20.16,-1.5 L21.16,-1.97 L21.99,-2.69 L23.03,-3.03 L23.87,-3.75 L24.83,-4.28 L25.93,-4.23M20.16,-1.5L22.17,0.36M23.87,-3.75L26.2,-2.4M18.32,-2.43 L19.2,-1.77 L20.22,-1.37 L21.12,-0.74 L22.19,-0.47 L23.29,-0.49M20.22,-1.37L21.39,0.08" fill="none" stroke="#929292" stroke-width="0.75"/></g></defs>
<rect width="516" height="1050" fill="#fff"/>
<text x="6.3" y="19.9" font-size="16.4" font-weight="bold" fill="#000">A</text>
<text x="143.4" y="19.9" font-size="16.4" font-weight="bold" fill="#000">B</text>
<text x="6.4" y="265.3" font-size="16.4" font-weight="bold" fill="#000">C</text>
<text x="6.8" y="531.2" font-size="16.4" font-weight="bold" fill="#000">D</text>
<text x="6.6" y="877.9" font-size="16.4" font-weight="bold" fill="#000">E</text>
<rect x="26.05" y="28" width="100.95" height="186.9" fill="#fff" stroke="#111" stroke-width="1.9"/>
<rect x="28" y="30" width="97" height="183" fill="#eeeeee" stroke="none" stroke-width="1"/>
<rect x="33.4" y="32.3" width="85.6" height="11.3" fill="#e3e3e3" stroke="none" stroke-width="1"/>
<text x="76.6" y="43.3" font-size="12.8" text-anchor="middle" fill="#1a1a1a">Features</text>
<line x1="33" y1="46.4" x2="119.6" y2="46.4" stroke="#000" stroke-width="1.4"/>
<text x="75.7" y="61.2" font-size="12.8" text-anchor="middle" fill="#1a1a1a">BC RF</text>
<polyline points="33.8,92.9 33.93,92.9 34.06,92.9 34.19,92.9 34.32,92.9 34.45,92.9 34.58,92.9 34.71,92.9 34.84,92.9 34.97,92.9 35.09,92.9 35.22,92.9 35.35,92.9 35.48,92.9 35.61,92.9 35.74,92.9 35.87,92.9 36,92.9 36.13,92.9 36.26,92.9 36.39,92.9 36.52,92.9 36.65,92.9 36.78,92.9 36.91,92.9 37.04,92.9 37.17,92.9 37.3,92.9 37.43,90.24 37.56,87.5 37.68,84.76 37.81,82.03 37.94,79.29 38.07,76.55 38.2,73.82 38.33,71.08 38.46,68.34 38.59,65.61 38.72,62.87 38.85,61.83 38.98,63.4 39.11,64.89 39.24,66.31 39.37,67.65 39.5,68.92 39.63,70.13 39.76,71.28 39.89,72.37 40.02,73.41 40.15,74.39 40.27,75.33 40.4,76.21 40.53,77.06 40.66,77.86 40.79,78.62 40.92,79.34 41.05,80.02 41.18,80.67 41.31,81.29 41.44,81.88 41.57,82.43 41.7,82.96 41.83,83.46 41.96,83.94 42.09,84.39 42.22,84.82 42.35,85.23 42.48,85.62 42.61,85.98 42.74,86.33 42.87,86.66 42.99,86.98 43.12,87.28 43.25,87.56 43.38,87.83 43.51,88.09 43.64,88.33 43.77,88.56 43.9,88.78 44.03,88.99 44.16,89.19 44.29,89.37 44.42,89.55 44.55,89.72 44.68,89.88 44.81,90.03 44.94,90.18 45.07,90.32 45.2,90.45 45.33,90.57 45.45,90.69 45.58,90.8 45.71,90.9 45.84,91.01 45.97,91.1 46.1,91.19 46.23,91.28 46.36,91.36 46.49,91.44 46.62,91.51 46.75,91.58 46.88,91.65 47.01,91.71 47.14,91.77 47.27,91.83 47.4,91.88 47.53,91.93 47.66,91.98 47.79,92.03 47.92,92.07 48.05,92.11 48.17,92.15 48.3,92.19 48.43,92.23 48.56,92.26 48.69,92.29 48.82,92.32 48.95,92.35 49.08,92.38 49.21,92.41 49.34,92.43 49.47,92.46 49.6,92.48 49.73,92.5 49.86,92.52 49.99,92.54 50.12,92.56 50.25,92.57 50.38,92.59 50.51,92.61 50.64,92.62 50.76,92.64 50.89,92.65 51.02,92.66 51.15,92.67 51.28,92.68 51.41,92.7 51.54,92.71 51.67,92.72 51.8,92.73 51.93,92.73 52.06,92.74 52.19,92.75 52.32,92.76 52.45,92.77 52.58,92.77 52.71,92.78 52.84,92.78 52.97,92.79 53.1,92.8 53.23,92.8 53.35,92.81 53.48,92.81 53.61,92.82 53.74,92.82 53.87,92.82 54,92.83 54.13,92.83 54.26,92.83 54.39,92.84 54.52,92.84 54.65,92.84 54.78,92.85 54.91,92.85 55.04,92.85 55.17,92.85 55.3,92.86 55.43,92.86 55.56,92.86 55.69,92.86 55.81,92.86 55.94,92.87 56.07,92.87 56.2,92.87 56.33,92.87 56.46,92.87 56.59,92.87 56.72,92.88 56.85,92.88 56.98,92.88 57.11,92.88 57.24,92.88 57.37,92.88 57.5,92.88 57.63,92.88 57.76,92.88 57.89,92.88 58.02,92.89 58.15,92.89 58.28,92.89 58.41,92.89 58.53,92.89 58.66,92.89 58.79,92.89 58.92,92.89 59.05,92.89 59.18,92.89 59.31,92.89 59.44,92.89 59.57,92.89 59.7,92.89" fill="none" stroke="#e67a35" stroke-width="1.6" stroke-linejoin="round"/>
<polyline points="64.1,92.9 64.22,92.9 64.35,92.9 64.47,92.9 64.6,92.9 64.72,92.9 64.85,92.9 64.97,92.9 65.1,92.9 65.22,92.9 65.35,92.9 65.47,92.9 65.6,92.9 65.72,92.9 65.85,92.9 65.97,92.9 66.1,92.9 66.22,92.9 66.35,92.9 66.47,92.9 66.6,92.9 66.72,92.9 66.85,92.9 66.97,92.9 67.1,92.9 67.22,92.9 67.35,92.9 67.47,92.9 67.6,92.9 67.72,92.9 67.85,92.9 67.97,92.9 68.1,92.9 68.22,92.9 68.35,92.9 68.47,92.9 68.6,92.9 68.72,92.9 68.85,92.9 68.97,92.9 69.1,92.9 69.22,92.9 69.35,92.9 69.47,92.9 69.6,92.9 69.72,92.9 69.85,92.9 69.97,92.9 70.1,92.9 70.22,92.9 70.35,92.9 70.47,92.9 70.6,92.9 70.72,92.9 70.85,92.8 70.97,92.3 71.1,91.62 71.22,90.81 71.35,89.9 71.47,88.91 71.6,87.84 71.72,86.7 71.85,85.49 71.97,84.23 72.1,82.91 72.22,81.54 72.35,80.12 72.47,78.65 72.6,77.14 72.72,75.59 72.85,73.99 72.97,72.36 73.1,70.69 73.22,68.98 73.35,67.24 73.47,65.46 73.6,66.28 73.72,67.69 73.85,69.02 73.97,70.29 74.1,71.48 74.22,72.62 74.35,73.69 74.47,74.71 74.6,75.67 74.72,76.58 74.85,77.44 74.97,78.26 75.1,79.03 75.22,79.77 75.35,80.46 75.47,81.12 75.6,81.74 75.72,82.33 75.85,82.89 75.97,83.42 76.1,83.92 76.22,84.4 76.35,84.85 76.47,85.27 76.6,85.68 76.72,86.06 76.85,86.42 76.97,86.76 77.1,87.09 77.22,87.4 77.35,87.69 77.47,87.96 77.6,88.22 77.72,88.47 77.85,88.71 77.97,88.93 78.1,89.14 78.22,89.34 78.35,89.53 78.47,89.7 78.6,89.87 78.72,90.03 78.85,90.18 78.97,90.33 79.1,90.46 79.22,90.59 79.35,90.72 79.47,90.83 79.6,90.94 79.72,91.04 79.85,91.14 79.97,91.24 80.1,91.32 80.22,91.41 80.35,91.49 80.47,91.56 80.6,91.63 80.72,91.7 80.85,91.76 80.97,91.82 81.1,91.88 81.22,91.93 81.35,91.98 81.47,92.03 81.6,92.08 81.72,92.12 81.85,92.16 81.97,92.2 82.1,92.24 82.22,92.27 82.35,92.31 82.47,92.34 82.6,92.37 82.72,92.4 82.85,92.42 82.97,92.45 83.1,92.47 83.22,92.49 83.35,92.52 83.47,92.54 83.6,92.56 83.72,92.57 83.85,92.59 83.97,92.61 84.1,92.62 84.22,92.64 84.35,92.65 84.47,92.66 84.6,92.68 84.72,92.69 84.85,92.7 84.97,92.71 85.1,92.72 85.22,92.73 85.35,92.74 85.47,92.75 85.6,92.76 85.72,92.76 85.85,92.77 85.97,92.78 86.1,92.78 86.22,92.79 86.35,92.8 86.47,92.8 86.6,92.81 86.72,92.81 86.85,92.82 86.97,92.82 87.1,92.82 87.22,92.83 87.35,92.83 87.47,92.84 87.6,92.84 87.72,92.84 87.85,92.85 87.97,92.85 88.1,92.85 88.22,92.85 88.35,92.86 88.47,92.86 88.6,92.86 88.72,92.86 88.85,92.86 88.97,92.87 89.1,92.87" fill="none" stroke="#1b8dcc" stroke-width="1.6" stroke-linejoin="round"/>
<polyline points="94.2,92.9 94.33,92.9 94.45,92.9 94.58,92.9 94.71,92.9 94.84,92.9 94.96,92.9 95.09,92.9 95.22,92.9 95.34,92.9 95.47,92.9 95.6,92.9 95.72,92.9 95.85,92.9 95.98,92.9 96.11,92.9 96.23,92.9 96.36,92.9 96.49,92.9 96.61,92.9 96.74,92.9 96.87,92.9 96.99,92.9 97.12,92.9 97.25,92.9 97.38,92.9 97.5,92.9 97.63,92.23 97.76,89.3 97.88,86.37 98.01,83.44 98.14,80.51 98.26,77.58 98.39,74.65 98.52,71.72 98.64,68.79 98.77,65.86 98.9,62.93 99.03,60.93 99.15,62.52 99.28,64.02 99.41,65.45 99.53,66.81 99.66,68.1 99.79,69.33 99.92,70.5 100.04,71.61 100.17,72.66 100.3,73.67 100.42,74.62 100.55,75.52 100.68,76.39 100.8,77.2 100.93,77.98 101.06,78.72 101.19,79.42 101.31,80.09 101.44,80.72 101.57,81.33 101.69,81.9 101.82,82.45 101.95,82.96 102.07,83.46 102.2,83.92 102.33,84.37 102.45,84.79 102.58,85.19 102.71,85.57 102.84,85.94 102.96,86.28 103.09,86.61 103.22,86.92 103.34,87.22 103.47,87.5 103.6,87.77 103.72,88.02 103.85,88.26 103.98,88.49 104.11,88.71 104.23,88.92 104.36,89.11 104.49,89.3 104.61,89.48 104.74,89.65 104.87,89.81 105,89.96 105.12,90.11 105.25,90.25 105.38,90.38 105.5,90.5 105.63,90.62 105.76,90.74 105.88,90.84 106.01,90.94 106.14,91.04 106.27,91.13 106.39,91.22 106.52,91.3 106.65,91.38 106.77,91.46 106.9,91.53 107.03,91.6 107.15,91.66 107.28,91.72 107.41,91.78 107.53,91.84 107.66,91.89 107.79,91.94 107.92,91.99 108.04,92.03 108.17,92.08 108.3,92.12 108.42,92.16 108.55,92.19 108.68,92.23 108.8,92.26 108.93,92.29 109.06,92.32 109.19,92.35 109.31,92.38 109.44,92.4 109.57,92.43 109.69,92.45 109.82,92.47 109.95,92.5 110.08,92.52 110.2,92.53 110.33,92.55 110.46,92.57 110.58,92.59 110.71,92.6 110.84,92.62 110.96,92.63 111.09,92.64 111.22,92.66 111.34,92.67 111.47,92.68 111.6,92.69 111.73,92.7 111.85,92.71 111.98,92.72 112.11,92.73 112.23,92.74 112.36,92.75 112.49,92.75 112.61,92.76 112.74,92.77 112.87,92.77 113,92.78 113.12,92.79 113.25,92.79 113.38,92.8 113.5,92.8 113.63,92.81 113.76,92.81 113.88,92.82 114.01,92.82 114.14,92.82 114.27,92.83 114.39,92.83 114.52,92.83 114.65,92.84 114.77,92.84 114.9,92.84 115.03,92.85 115.16,92.85 115.28,92.85 115.41,92.85 115.54,92.86 115.66,92.86 115.79,92.86 115.92,92.86 116.04,92.86 116.17,92.87 116.3,92.87 116.42,92.87 116.55,92.87 116.68,92.87 116.81,92.87 116.93,92.88 117.06,92.88 117.19,92.88 117.31,92.88 117.44,92.88 117.57,92.88 117.69,92.88 117.82,92.88 117.95,92.88 118.08,92.88 118.2,92.89 118.33,92.89 118.46,92.89 118.58,92.89 118.71,92.89 118.84,92.89 118.96,92.89 119.09,92.89 119.22,92.89 119.35,92.89 119.47,92.89 119.6,92.89" fill="none" stroke="#e67a35" stroke-width="1.6" stroke-linejoin="round"/>
<line x1="55.2" y1="100.5" x2="55.2" y2="108" stroke="#000" stroke-width="1.5"/>
<polygon points="51.8,107 58.6,107 55.2,114" fill="#000" stroke="none" stroke-width="1"/>
<line x1="76.8" y1="100.5" x2="76.8" y2="108" stroke="#000" stroke-width="1.5"/>
<polygon points="73.4,107 80.2,107 76.8,114" fill="#000" stroke="none" stroke-width="1"/>
<line x1="98" y1="100.5" x2="98" y2="108" stroke="#000" stroke-width="1.5"/>
<polygon points="94.6,107 101.4,107 98,114" fill="#000" stroke="none" stroke-width="1"/>
<use href="#sac" x="75.6" y="138.3"/>
<rect x="33.4" y="164.6" width="85.6" height="12.3" fill="#e3e3e3" stroke="none" stroke-width="1"/>
<text x="76.85" y="176.2" font-size="12.8" text-anchor="middle" fill="#1a1a1a">Goal</text>
<line x1="33" y1="179.6" x2="119.6" y2="179.6" stroke="#000" stroke-width="1.4"/>
<text x="76.3" y="195.8" font-size="12.8" text-anchor="middle" fill="#1a1a1a">Direction</text>
<text x="76.6" y="208" font-size="12.8" text-anchor="middle" fill="#1a1a1a">Selectivity</text>
<text x="177.2" y="46.8" font-size="12.8" fill="#1a1a1a">Receptive Field</text>
<text x="161.9" y="64" font-size="12.8" fill="#1a1a1a">Spatial</text>
<text x="238.4" y="64.2" font-size="12.8" fill="#1a1a1a">Temporal</text>
<text x="200" y="95" font-size="12.8" fill="#1a1a1a">Center</text>
<text x="150.3" y="144.6" font-size="12.8" fill="#1a1a1a">Surr.</text>
<text x="225.2" y="162.7" font-size="12.8" fill="#1a1a1a">Full</text>
<text x="227.8" y="174" font-size="12.8" fill="#1a1a1a">RF</text>
<text x="240.9" y="241" font-size="12.8" fill="#1a1a1a">Surround</text>
<text x="0" y="0" font-size="12.8" fill="#1a1a1a" transform="translate(245.6,137.6) rotate(-90)">Rise</text>
<text x="0" y="0" font-size="12.8" fill="#1a1a1a" transform="translate(257.0,108.8) rotate(73)">Decay</text>
<polyline points="167,124 167.45,124 167.9,124 168.35,124 168.8,124 169.25,124 169.7,124 170.15,124 170.6,124 171.05,124 171.5,124 171.95,124 172.4,124 172.85,124 173.3,124 173.75,123.99 174.2,123.99 174.65,123.97 175.1,123.95 175.55,123.91 176,123.83 176.45,123.72 176.9,123.53 177.35,123.24 177.8,122.8 178.25,122.17 178.7,121.28 179.15,120.06 179.6,118.47 180.05,116.43 180.5,113.93 180.95,110.97 181.4,107.6 181.85,103.92 182.3,100.1 182.75,96.32 183.2,92.83 183.65,89.86 184.1,87.63 184.55,86.32 185,86.03 185.45,86.78 185.9,88.52 186.35,91.1 186.8,94.33 187.25,97.98 187.7,101.81 188.15,105.59 188.6,109.14 189.05,112.34 189.5,115.1 189.95,117.39 190.4,119.23 190.85,120.65 191.3,121.71 191.75,122.48 192.2,123.02 192.65,123.38 193.1,123.62 193.55,123.78 194,123.87 194.45,123.93 194.9,123.96 195.35,123.98 195.8,123.99 196.25,123.99 196.7,124 197.15,124 197.6,124 198.05,124 198.5,124 198.95,124 199.4,124 199.85,124 200.3,124 200.75,124 201.2,124 201.65,124 202.1,124 202.55,124 203,124" fill="none" stroke="#8c8c8c" stroke-width="1.4" stroke-linejoin="round"/>
<polyline points="156.1,124 156.56,124 157.03,124 157.5,124 157.96,124 158.42,124.01 158.89,124.01 159.35,124.01 159.82,124.01 160.28,124.02 160.75,124.02 161.22,124.03 161.68,124.04 162.14,124.05 162.61,124.06 163.07,124.08 163.54,124.1 164,124.13 164.47,124.16 164.94,124.2 165.4,124.25 165.87,124.3 166.33,124.37 166.79,124.45 167.26,124.54 167.72,124.65 168.19,124.78 168.66,124.93 169.12,125.11 169.59,125.31 170.05,125.54 170.51,125.79 170.98,126.09 171.44,126.42 171.91,126.78 172.38,127.19 172.84,127.64 173.31,128.12 173.77,128.66 174.23,129.23 174.7,129.85 175.16,130.5 175.63,131.2 176.09,131.93 176.56,132.69 177.03,133.47 177.49,134.28 177.95,135.09 178.42,135.92 178.88,136.74 179.35,137.55 179.81,138.34 180.28,139.11 180.75,139.83 181.21,140.51 181.68,141.13 182.14,141.68 182.6,142.17 183.07,142.57 183.53,142.89 184,143.12 184.47,143.26 184.93,143.3 185.4,143.25 185.86,143.1 186.32,142.86 186.79,142.52 187.25,142.11 187.72,141.62 188.19,141.05 188.65,140.42 189.12,139.74 189.58,139.01 190.05,138.24 190.51,137.45 190.97,136.64 191.44,135.81 191.91,134.99 192.37,134.17 192.84,133.37 193.3,132.59 193.76,131.83 194.23,131.11 194.69,130.42 195.16,129.76 195.62,129.15 196.09,128.59 196.56,128.06 197.02,127.58 197.49,127.13 197.95,126.73 198.42,126.37 198.88,126.05 199.34,125.76 199.81,125.5 200.28,125.28 200.74,125.08 201.21,124.91 201.67,124.76 202.13,124.64 202.6,124.53 203.06,124.44 203.53,124.36 204,124.29 204.46,124.24 204.93,124.19 205.39,124.16 205.86,124.12 206.32,124.1 206.79,124.08 207.25,124.06 207.72,124.05 208.18,124.04 208.65,124.03 209.11,124.02 209.57,124.02 210.04,124.01 210.5,124.01 210.97,124.01 211.44,124.01 211.9,124" fill="none" stroke="#000" stroke-width="1.4" stroke-linejoin="round" stroke-dasharray="2.6,2"/>
<polygon points="161.3,160.8 204,160.8 213.6,186.5 204.3,212.8 161.3,212.8" fill="#e9e9e9" stroke="none" stroke-width="1"/>
<polyline points="203.5,160.8 161.3,160.8 161.3,212.8 203.5,212.8" fill="none" stroke="#000" stroke-width="1.7" stroke-linejoin="round"/>
<polyline points="201.4,153.8 213.6,186.5 201.8,220" fill="none" stroke="#000" stroke-width="1.8" stroke-linejoin="round" stroke-linejoin="miter"/>
<circle cx="184.9" cy="186.6" r="18" fill="#dcdcdc" stroke="#000" stroke-width="1.3" stroke-dasharray="2.6,2.2"/>
<circle cx="184.9" cy="186.6" r="7.6" fill="#bdbdbd" stroke="#9a9a9a" stroke-width="1"/>
<polyline points="250.9,132 250.78,126.5 250.65,121 250.54,115.5 250.5,110 250.54,104.21 250.66,98.23 250.82,92.63 251,88 251.13,85.53 251.31,83.09 251.5,81.24 251.7,80.5 251.88,81.06 252.07,82.46 252.25,84.25 252.4,86 252.54,88.28 252.65,90.8 252.76,93.47 252.9,96.2 253.12,99.58 253.4,103.17 253.7,106.74 254,110.1 254.23,112.72 254.46,115.23 254.71,117.65 255,120 255.32,122.01 255.69,123.93 256.09,125.84 256.5,127.8 256.94,129.94 257.4,132.13 257.89,134.32 258.4,136.5 258.94,138.68 259.52,140.86 260.13,143.04 260.8,145.2 261.54,147.42 262.34,149.66 263.22,151.85 264.2,153.9 265.27,155.76 266.48,157.55 267.78,159.22 269.1,160.7 270.32,161.77 271.62,162.71 272.86,163.62 273.9,164.6 274.62,165.49 275.26,166.4 275.83,167.36 276.3,168.4 276.75,169.79 277.13,171.33 277.47,172.88 277.8,174.3 278.07,175.28 278.34,176.17 278.58,177.08 278.8,178.1 279.04,179.87 279.24,181.89 279.44,183.97 279.7,185.9 280.01,187.41 280.39,188.86 280.8,190.27 281.2,191.7" fill="none" stroke="#8c8c8c" stroke-width="1.3" stroke-linejoin="round"/>
<polyline points="235.3,191.7 238.18,191.7 241.27,191.7 243.93,191.7 245.5,191.7 245.77,191.59 245.98,191.32 246.16,190.93 246.3,190.5 246.68,188.05 246.97,184.1 247.23,179.47 247.5,175 247.83,170.13 248.14,165.02 248.47,159.9 248.8,155 249.11,150.73 249.43,146.49 249.76,142.51 250.1,139 250.33,136.62 250.56,134.21 250.81,132.35 251.1,131.6 251.42,132.1 251.8,133.35 252.21,134.95 252.6,136.5 253.08,138.49 253.55,140.68 254.02,142.96 254.5,145.2 254.98,147.37 255.46,149.53 255.96,151.7 256.5,153.9 257.13,156.35 257.82,158.86 258.57,161.32 259.4,163.6 260.23,165.46 261.17,167.25 262.2,168.91 263.3,170.4 264.39,171.65 265.58,172.82 266.83,173.85 268.1,174.7 269.28,175.34 270.51,175.91 271.74,176.38 272.9,176.7 273.82,176.85 274.72,176.94 275.56,177.04 276.3,177.2 276.89,177.48 277.44,177.92 277.92,178.48 278.3,179.1 278.74,180.44 279.08,182.22 279.39,184.14 279.7,185.9 279.97,187.36 280.22,188.85 280.49,190.15 280.8,191 280.96,191.25 281.13,191.48 281.34,191.64 281.6,191.7 283.31,191.7 286.12,191.7 289.37,191.7 292.4,191.7" fill="none" stroke="#000" stroke-width="1.6" stroke-linejoin="round"/>
<polyline points="244.4,193.5 245.29,195.04 246.18,196.57 247.07,198.11 247.96,199.65 248.84,201.21 249.7,202.8 250.58,204.52 251.44,206.29 252.3,208.08 253.15,209.86 254.02,211.61 254.9,213.3 255.74,214.84 256.58,216.37 257.42,217.88 258.29,219.33 259.18,220.72 260.1,222 260.95,223.12 261.85,224.27 262.77,225.37 263.68,226.35 264.57,227.12 265.4,227.6 265.86,227.78 266.3,227.94 266.73,228.09 267.15,228.2 267.57,228.27 268,228.3 268.43,228.27 268.86,228.17 269.28,228.02 269.71,227.84 270.15,227.63 270.6,227.4 271.43,226.83 272.3,225.95 273.19,224.85 274.09,223.62 274.97,222.34 275.8,221.1 276.71,219.66 277.59,218.12 278.45,216.5 279.3,214.84 280.15,213.16 281,211.5 281.89,209.77 282.76,208 283.64,206.21 284.51,204.43 285.4,202.69 286.3,201 287.15,199.49 288.01,198.03 288.88,196.59 289.76,195.16 290.63,193.74 291.5,192.3" fill="none" stroke="#8c8c8c" stroke-width="1.4" stroke-linejoin="round" stroke-dasharray="2.4,2.2"/>
<rect x="351" y="28.2" width="42.3" height="12" fill="#d9d9d9" stroke="none" stroke-width="1"/>
<rect x="451.9" y="49.9" width="42.2" height="11.6" fill="#d9d9d9" stroke="none" stroke-width="1"/>
<line x1="393.3" y1="28.2" x2="393.3" y2="40.2" stroke="#444" stroke-width="0.9" stroke-dasharray="1,1"/>
<line x1="451.9" y1="49.9" x2="451.9" y2="61.5" stroke="#444" stroke-width="0.9" stroke-dasharray="1,1"/>
<line x1="348.7" y1="42.2" x2="493.5" y2="42.2" stroke="#000" stroke-width="1.9"/>
<line x1="328.7" y1="42.2" x2="348.7" y2="42.2" stroke="#000" stroke-width="1.9" stroke-dasharray="1.3,1.3"/>
<line x1="493.5" y1="42.2" x2="508.6" y2="42.2" stroke="#000" stroke-width="1.9" stroke-dasharray="1.3,1.3"/>
<line x1="348.7" y1="64" x2="493.5" y2="64" stroke="#000" stroke-width="1.9"/>
<line x1="328.7" y1="64" x2="348.7" y2="64" stroke="#000" stroke-width="1.9" stroke-dasharray="1.3,1.3"/>
<line x1="493.5" y1="64" x2="508.6" y2="64" stroke="#000" stroke-width="1.9" stroke-dasharray="1.3,1.3"/>
<line x1="393.3" y1="34.6" x2="415" y2="34.6" stroke="#000" stroke-width="1.6"/>
<polygon points="414,31.2 423,34.6 414,38" fill="#000" stroke="none" stroke-width="1"/>
<line x1="451.9" y1="56.7" x2="431" y2="56.7" stroke="#000" stroke-width="1.6"/>
<polygon points="432,53.3 423,56.7 432,60.1" fill="#000" stroke="none" stroke-width="1"/>
<circle cx="323.1" cy="73.5" r="2.9" fill="#8a8a8a" stroke="none" stroke-width="1"/>
<text x="340.2" y="76.8" font-size="12.8" fill="#1a1a1a">Input</text>
<text x="328" y="91.4" font-size="12.5" fill="#1b8dcc">Proximal</text>
<text x="327.4" y="105.8" font-size="12.6" fill="#e67a35">Distal</text>
<line x1="341.3" y1="224.2" x2="358.1" y2="224.2" stroke="#000" stroke-width="1.3"/>
<text x="333.7" y="235" font-size="13.2" fill="#1a1a1a">30μm</text>
<circle cx="455.3" cy="227.8" r="4" fill="#8a8a8a" stroke="none" stroke-width="1"/>
<text x="469.3" y="232.1" font-size="12.9" fill="#1a1a1a">Output</text>
<rect x="456.9" y="238.5" width="42.5" height="7.1" fill="url(#dsig)" stroke="none" stroke-width="1"/>
<line x1="457.3" y1="245.4" x2="457.3" y2="248" stroke="#000" stroke-width="1.1"/>
<line x1="478" y1="245.4" x2="478" y2="248" stroke="#000" stroke-width="1.1"/>
<line x1="498.7" y1="245.4" x2="498.7" y2="248" stroke="#000" stroke-width="1.1"/>
<line x1="462.8" y1="252.5" x2="453" y2="252.5" stroke="#000" stroke-width="0.9"/>
<polygon points="454.5,250.8 450.6,252.5 454.5,254.2" fill="#000" stroke="none" stroke-width="1"/>
<line x1="493" y1="252.5" x2="502.5" y2="252.5" stroke="#000" stroke-width="0.9"/>
<polygon points="501,250.8 504.9,252.5 501,254.2" fill="#000" stroke="none" stroke-width="1"/>
<text x="457" y="266" font-size="12.6" text-anchor="middle" fill="#1a1a1a">1</text>
<text x="477.6" y="266" font-size="12.6" text-anchor="middle" fill="#1a1a1a">0</text>
<text x="498.6" y="266" font-size="12.6" text-anchor="middle" fill="#1a1a1a">1</text>
<text x="478" y="280.7" font-size="12.6" text-anchor="middle" fill="#1a1a1a">DSI</text>
<polyline points="453.12,138.81 455.11,138.66" fill="none" stroke="#878787" stroke-width="1.4" stroke-linejoin="round"/>
<polyline points="463.65,128.44 461.73,127.88" fill="none" stroke="#878787" stroke-width="1.4" stroke-linejoin="round"/>
<polyline points="465.06,129.87 463.65,128.44 464.55,126.66 466.07,125.36 466.66,123.45 466.28,121.49" fill="none" stroke="#878787" stroke-width="1.4" stroke-linejoin="round"/>
<polyline points="477.92,127.83 479.21,129.35" fill="none" stroke="#878787" stroke-width="1.4" stroke-linejoin="round"/>
<polyline points="476.1,125.44 478.06,125.83 477.92,127.83 479.9,128.09" fill="none" stroke="#878787" stroke-width="1.4" stroke-linejoin="round"/>
<polyline points="484.53,121.57 486.34,122.41 488.33,122.64" fill="none" stroke="#878787" stroke-width="1.4" stroke-linejoin="round"/>
<polyline points="487.01,118.45 485.75,116.89 484.11,115.75 482.71,114.32" fill="none" stroke="#878787" stroke-width="1.4" stroke-linejoin="round"/>
<polyline points="444.49,143.96 445.27,142.34 446.47,141 448.21,140.52 449.9,139.92 451.32,138.8 453.12,138.81 454.26,137.16 455.88,136 457.09,134.4 458.67,133.18 460.67,133.15 462.63,132.76 464.35,131.74 465.06,129.87 466.95,129.21 468.59,128.06 470.55,127.71 472.34,126.81 474.21,126.09 476.1,125.44 477.66,124.19 479.62,124.6 480.91,123.08 482.88,122.7 484.53,121.57 485.9,120.11 487.01,118.45 489.01,118.46 491,118.49" fill="none" stroke="#878787" stroke-width="1.4" stroke-linejoin="round"/>
<polyline points="435.32,148.19 437.04,147.68 438.84,147.68 440.51,147.01 442.25,146.55 443.8,145.62 444.49,143.96 444.48,142.16 444,140.43 444.08,138.63 445.04,137.11 446.25,135.78 447.44,134.43" fill="none" stroke="#878787" stroke-width="1.4" stroke-linejoin="round"/>
<polyline points="437.56,131.23 436.25,129.72 435.49,127.87 434.12,126.41 433.88,124.43" fill="none" stroke="#878787" stroke-width="1.4" stroke-linejoin="round"/>
<polyline points="466.91,109.34 468.91,109.34 470.42,110.65" fill="none" stroke="#878787" stroke-width="1.4" stroke-linejoin="round"/>
<polyline points="476.9,98.81 476.54,96.84 474.83,95.8 473.87,94.05 473.21,92.16 471.47,91.19" fill="none" stroke="#878787" stroke-width="1.4" stroke-linejoin="round"/>
<polyline points="482.48,97.61 484.18,98.66" fill="none" stroke="#878787" stroke-width="1.4" stroke-linejoin="round"/>
<polyline points="443.82,122.18 445.64,121.34 446.9,119.79 448.08,118.18 449.81,117.16 451.55,116.18 453.54,116.37 455.49,115.95 457.48,115.72 459.39,115.12 460.78,113.68 462.53,112.72 463.53,110.99 464.92,109.55 466.91,109.34 468.27,107.88 468.45,105.89 470.43,105.61 471.62,104 473.47,103.23 475.19,102.21 476.58,100.78 476.9,98.81 478.9,98.84 480.48,97.62 482.48,97.61 482.4,95.61 482.27,93.61 483.65,92.17 485.52,91.47 486.93,90.05 486.98,88.05" fill="none" stroke="#878787" stroke-width="1.4" stroke-linejoin="round"/>
<polyline points="444.05,118.43 442.06,118.26 440.22,117.47 440.85,115.58 439.82,113.86" fill="none" stroke="#878787" stroke-width="1.4" stroke-linejoin="round"/>
<polyline points="442.18,103.4 440.66,102.1 439.64,103.82 438.04,105.01 436.1,104.53" fill="none" stroke="#878787" stroke-width="1.4" stroke-linejoin="round"/>
<polyline points="445.79,96.62 447.07,98.16 448.55,96.81 449.61,98.51 451.46,99.26 453.43,98.91" fill="none" stroke="#878787" stroke-width="1.4" stroke-linejoin="round"/>
<polyline points="449.24,70.68 448.35,68.89 446.49,68.15 444.49,68.11 443.05,66.72" fill="none" stroke="#878787" stroke-width="1.4" stroke-linejoin="round"/>
<polyline points="428.1,153 430.68,150.21 432.42,149.74 434.21,149.61 435.32,148.19 436.24,146.65 435.83,144.9 435.24,143.2 434.38,141.62 433.2,140.26 432.83,138.5 433.92,137.06 434.71,135.45 434.91,133.66 436.17,132.38 437.56,131.23 439.29,130.74 440.99,130.13 442.63,129.39 443.59,127.87 444.28,126 443.5,124.15 443.82,122.18 443.25,120.26 444.05,118.43 444.83,116.59 445.47,114.69 444.77,112.82 443.69,111.13 443.72,109.13 443.58,107.14 442.78,105.3 442.18,103.4 442.55,101.43 443.34,99.59 444.98,98.45 445.79,96.62 446.6,94.79 446.32,92.81 447.34,91.09 448.07,89.23 446.81,87.68 447,85.69 446.88,83.69 447,81.69 447.51,79.76 448.97,78.39 448.39,76.47 448.87,74.53 448.55,72.56 449.24,70.68 450.59,69.2" fill="none" stroke="#878787" stroke-width="1.4" stroke-linejoin="round"/>
<polyline points="427.23,117.04 426.06,115.42" fill="none" stroke="#878787" stroke-width="1.4" stroke-linejoin="round"/>
<polyline points="426.74,100.63 426.18,98.71" fill="none" stroke="#878787" stroke-width="1.4" stroke-linejoin="round"/>
<polyline points="425.76,90.99 424.27,89.66 422.33,89.16 420.33,89.16 418.59,88.16 419.2,86.26" fill="none" stroke="#878787" stroke-width="1.4" stroke-linejoin="round"/>
<polyline points="428.02,78.33 429.78,77.37 431.77,77.22 433.74,76.87" fill="none" stroke="#878787" stroke-width="1.4" stroke-linejoin="round"/>
<polyline points="423.32,145.54 423.37,143.74 423.91,142.02 424.93,140.54 424.74,138.76 425.36,137.06 426.19,135.47 426.74,133.76 426.39,131.99 426.19,130.2 425.1,128.76 424.44,127.09 424.43,125.29 424.8,123.33 423.58,121.74 424.93,120.27 426.3,118.8 427.23,117.04 427.56,115.06 426.74,113.24 427.86,111.58 427.32,109.66 428.54,108.07 428.19,106.1 427.17,104.38 427.61,102.43 426.74,100.63 427.35,98.72 427.49,96.72 426.84,94.83 426.21,92.94 425.76,90.99 426.12,89.02 427.13,87.29 425.99,85.65 426.97,83.9 427.33,81.94 428.46,80.28 428.02,78.33 426.9,76.68 425.36,75.39 425.15,73.4 424.14,71.68 422.85,70.16 421.72,68.5" fill="none" stroke="#878787" stroke-width="1.4" stroke-linejoin="round"/>
<polyline points="411.4,115.34 412.38,113.6 414.11,114.61 415.51,113.18" fill="none" stroke="#878787" stroke-width="1.4" stroke-linejoin="round"/>
<polyline points="403.39,90.53 405.12,89.54 405.66,87.61 405.42,85.62 407,84.39 408.9,83.77" fill="none" stroke="#878787" stroke-width="1.4" stroke-linejoin="round"/>
<polyline points="400.15,89.52 398.64,90.82" fill="none" stroke="#878787" stroke-width="1.4" stroke-linejoin="round"/>
<polyline points="410.81,119.29 410.97,117.29 411.4,115.34 410.72,113.45 410.51,111.47 410.15,109.5 408.88,107.96 408.36,106.03 408.95,104.12 409.67,102.25 409.31,100.28 408.95,98.31 407.38,97.07 406.65,95.21 404.92,94.2 404.34,92.29 403.39,90.53 402.09,89.01 400.15,89.52 398.16,89.37 397.31,87.56 396.27,85.85 396.07,83.86" fill="none" stroke="#878787" stroke-width="1.4" stroke-linejoin="round"/>
<polyline points="394.18,99.19 395.46,97.65" fill="none" stroke="#878787" stroke-width="1.4" stroke-linejoin="round"/>
<polyline points="415.67,136.87 414.69,135.36 414.2,133.63 414.09,131.83 414.29,130.04 415.3,128.55 416.11,126.94 415.81,125.16 414.64,123.54 412.98,122.43 411.41,121.19 410.81,119.29 409.13,118.2 408.51,116.29 406.64,115.58 404.67,115.25 403.46,113.66 402.51,111.89 400.82,110.83 398.91,110.24 397.79,108.58 395.93,107.84 395.87,105.84 393.98,105.18 394.14,103.18 394.23,101.19 394.18,99.19 393.78,97.23 392.14,96.08 390.28,95.36 388.54,94.37 389.36,92.54 389.12,90.56 389.55,88.61 389.31,86.62 388.95,84.65 388.78,82.66 386.99,81.78 386.18,79.95" fill="none" stroke="#878787" stroke-width="1.4" stroke-linejoin="round"/>
<polyline points="377.31,103.72 377.5,101.73 379.5,101.88" fill="none" stroke="#878787" stroke-width="1.4" stroke-linejoin="round"/>
<polyline points="375.81,107.39 376.31,105.45 377.31,103.72 376.74,101.8 375.85,100.01 374.37,98.67" fill="none" stroke="#878787" stroke-width="1.4" stroke-linejoin="round"/>
<polyline points="373.91,106.77 373.2,108.64 371.41,109.53" fill="none" stroke="#878787" stroke-width="1.4" stroke-linejoin="round"/>
<polyline points="370.2,105.64 368.28,105.1 366.32,105.5 364.51,106.35 362.86,105.22 360.86,105.3 360.15,107.16 358.84,108.68" fill="none" stroke="#878787" stroke-width="1.4" stroke-linejoin="round"/>
<polyline points="428.1,153 426.26,149.75 424.83,148.66 423.63,147.31 423.32,145.54 423.25,143.74 422.9,141.98 421.53,140.81 420.04,139.8 418.32,139.25 416.83,138.24 415.67,136.87 414.87,135.26 413.17,134.65 411.94,133.34 411.34,131.64 410.07,130.1 408.07,130.16 406.84,128.58 404.85,128.83 404.17,126.95 402.2,127.28 400.67,125.99 398.67,126.01 396.94,125 396.31,123.1 395.13,121.49 393.17,121.88 391.82,120.4 390.49,118.91 388.49,119.06 386.51,118.76 385.67,116.95 384.56,115.29 383.07,113.96 381.54,112.66 379.69,111.9 378.57,110.24 377.03,108.98 375.81,107.39 373.91,106.77 372.2,105.73 370.2,105.64 369.82,103.68 369.2,101.77 367.21,101.59 366.65,99.67 364.66,99.48 363.38,97.94 361.63,96.98" fill="none" stroke="#878787" stroke-width="1.4" stroke-linejoin="round"/>
<polyline points="403.31,144.33 401.97,142.85 400.58,141.41 400.05,139.48 401.32,137.94" fill="none" stroke="#878787" stroke-width="1.4" stroke-linejoin="round"/>
<polyline points="391.14,139.8 389.38,140.74 389.99,142.64 388.24,143.62 386.25,143.73 384.78,145.08" fill="none" stroke="#878787" stroke-width="1.4" stroke-linejoin="round"/>
<polyline points="386.96,135.68 385.65,134.17 385.47,132.17" fill="none" stroke="#878787" stroke-width="1.4" stroke-linejoin="round"/>
<polyline points="370.74,130.75 368.81,131.28" fill="none" stroke="#878787" stroke-width="1.4" stroke-linejoin="round"/>
<polyline points="373.92,128.33 372.39,129.62 370.74,130.75 368.75,130.5 367.38,131.95 365.74,133.1 364.22,134.4 362.35,133.69" fill="none" stroke="#878787" stroke-width="1.4" stroke-linejoin="round"/>
<polyline points="372.26,127.21 373.27,125.48 373.23,123.48 374.08,121.67 375.7,120.49" fill="none" stroke="#878787" stroke-width="1.4" stroke-linejoin="round"/>
<polyline points="360.91,121.99 361.79,120.19 360.57,118.6 362.38,117.75" fill="none" stroke="#878787" stroke-width="1.4" stroke-linejoin="round"/>
<polyline points="357.17,120.73 355.6,121.97" fill="none" stroke="#878787" stroke-width="1.4" stroke-linejoin="round"/>
<polyline points="353.67,118.83 353.72,116.83 352.55,115.2 352.29,113.22 354.05,112.27" fill="none" stroke="#878787" stroke-width="1.4" stroke-linejoin="round"/>
<polyline points="349.99,119.33 348.14,120.09" fill="none" stroke="#878787" stroke-width="1.4" stroke-linejoin="round"/>
<polyline points="419.31,150.37 417.56,149.98 415.79,149.63 414.07,149.1 412.52,148.19 411.49,146.71 410.1,145.56 408.44,144.88 406.64,144.88 404.87,145.23 403.31,144.33 401.34,144.01 399.42,143.45 397.91,142.13 396.62,140.61 394.98,139.46 393.01,139.09 391.14,139.8 390.11,138.09 388.7,136.67 386.96,135.68 384.97,135.93 383.21,134.98 381.97,133.42 380.19,132.51 378.22,132.11 376.79,130.72 375.81,128.97 373.92,128.33 372.26,127.21 370.28,127.47 369.41,125.66 368.13,124.13 366.15,123.9 364.16,124.1 362.81,122.62 360.91,121.99 359.15,121.05 357.17,120.73 355.35,119.92 353.67,118.83 351.73,118.35 349.99,119.33 348.16,118.51 347.68,116.57 346.33,115.09 345.94,113.13" fill="none" stroke="#878787" stroke-width="1.4" stroke-linejoin="round"/>
<polyline points="401.38,156.75 402.99,157.95" fill="none" stroke="#878787" stroke-width="1.4" stroke-linejoin="round"/>
<polyline points="388.89,160.22 388.61,162.2 386.94,163.31" fill="none" stroke="#878787" stroke-width="1.4" stroke-linejoin="round"/>
<polyline points="355.66,170.94 353.85,170.09 352.44,168.67 352.01,166.71 350.93,165.03 352.92,165.23" fill="none" stroke="#878787" stroke-width="1.4" stroke-linejoin="round"/>
<polyline points="350.3,173.36 348.36,172.85 346.4,173.22 345.68,171.35" fill="none" stroke="#878787" stroke-width="1.4" stroke-linejoin="round"/>
<polyline points="392.17,158.04 390.73,159.42 388.89,160.22 386.9,160.01 384.91,160.09 382.93,159.8 381.28,160.94 380.15,162.59 378.16,162.82 376.89,164.36 375.62,165.9 374.6,167.62 372.65,168.06 370.73,168.62 368.74,168.85 367.31,170.24 365.36,170.7 363.53,171.51 361.55,171.78 359.66,171.14 357.66,171.03 355.66,170.94 353.69,171.29 351.88,172.14 350.3,173.36 349.32,175.1 348.52,176.94 347.25,178.47 345.31,178.99 343.32,178.83 341.71,180.02" fill="none" stroke="#878787" stroke-width="1.4" stroke-linejoin="round"/>
<polyline points="375.1,155.52 373.39,154.48 372.16,152.9 372.11,150.9 372.87,149.05 372.37,147.12 370.37,147.14 368.41,146.75 368.84,144.8 367.71,143.15" fill="none" stroke="#878787" stroke-width="1.4" stroke-linejoin="round"/>
<polyline points="364.34,154.67 362.58,155.62" fill="none" stroke="#878787" stroke-width="1.4" stroke-linejoin="round"/>
<polyline points="350.28,157.38 348.88,158.81" fill="none" stroke="#878787" stroke-width="1.4" stroke-linejoin="round"/>
<polyline points="370.03,153.64 368.33,154.7 366.34,154.55 364.34,154.67 362.35,154.83 360.35,154.82 358.49,154.06 356.5,154.21 354.96,155.49 353.16,154.61 351.73,156 350.28,157.38 348.31,157.05 346.4,156.47 344.9,155.14 342.95,154.72 343.28,152.75 342.42,150.95" fill="none" stroke="#878787" stroke-width="1.4" stroke-linejoin="round"/>
<polyline points="363.49,149.88 363.43,147.88" fill="none" stroke="#878787" stroke-width="1.4" stroke-linejoin="round"/>
<polyline points="361.38,146.48 359.83,147.75 358.01,148.59" fill="none" stroke="#878787" stroke-width="1.4" stroke-linejoin="round"/>
<polyline points="353.08,139.59 353.18,137.59" fill="none" stroke="#878787" stroke-width="1.4" stroke-linejoin="round"/>
<polyline points="428.1,153 424.42,152.09 422.71,151.53 421.06,150.8 419.31,150.37 417.67,151.11 416.64,152.58 415.03,153.38 413.23,153.49 411.43,153.57 409.76,154.24 408.12,154.98 406.34,154.67 404.73,155.47 403,155.97 401.38,156.75 399.65,157.76 397.88,158.68 395.89,158.53 394.12,157.59 392.17,158.04 390.57,156.83 388.82,155.88 386.83,155.65 384.89,156.14 383.05,155.36 381.06,155.55 379.07,155.8 377.1,155.47 375.1,155.52 373.18,156.09 371.67,154.77 370.03,153.64 369.09,151.87 367.11,151.56 365.24,150.85 363.49,149.88 362.44,148.18 361.38,146.48 360.42,144.73 358.87,143.47 356.87,143.4 354.88,143.16 353.99,141.37 353.08,139.59 351.76,138.09 350.65,139.76 349.09,138.5 347.32,139.42" fill="none" stroke="#878787" stroke-width="1.4" stroke-linejoin="round"/>
<polyline points="403.64,168.98 401.69,168.56 400.58,166.89" fill="none" stroke="#878787" stroke-width="1.4" stroke-linejoin="round"/>
<polyline points="401.98,172.61 402.78,174.45 403.58,176.28 403.88,178.26" fill="none" stroke="#878787" stroke-width="1.4" stroke-linejoin="round"/>
<polyline points="395.54,175.98 394.8,174.12" fill="none" stroke="#878787" stroke-width="1.4" stroke-linejoin="round"/>
<polyline points="393.62,176.55 391.8,177.38" fill="none" stroke="#878787" stroke-width="1.4" stroke-linejoin="round"/>
<polyline points="391.7,176.02 389.7,176.13 387.86,175.35" fill="none" stroke="#878787" stroke-width="1.4" stroke-linejoin="round"/>
<polyline points="376.54,192.35 374.59,191.91" fill="none" stroke="#878787" stroke-width="1.4" stroke-linejoin="round"/>
<polyline points="376.47,194.35 378.46,194.53" fill="none" stroke="#878787" stroke-width="1.4" stroke-linejoin="round"/>
<polyline points="382.01,182.82 380.24,183.75 379.62,185.65 379.45,187.64 377.68,188.57 377.43,190.56 376.54,192.35 376.47,194.35 375.7,196.19 374.7,197.93 373.76,199.69 372.34,201.09 370.64,202.15 369.21,203.55 367.37,204.35 366.17,205.95 365.37,207.78" fill="none" stroke="#878787" stroke-width="1.4" stroke-linejoin="round"/>
<polyline points="376.29,181.05 375.34,179.29 373.44,178.66" fill="none" stroke="#878787" stroke-width="1.4" stroke-linejoin="round"/>
<polyline points="364.01,186.16 362.03,185.89 360.23,185.03 358.23,185.07 356.43,184.2 354.91,185.5 353.3,186.69 351.74,187.94 349.79,188.41 348.71,190.09 348.87,192.09 347.29,193.32 346.9,195.28" fill="none" stroke="#878787" stroke-width="1.4" stroke-linejoin="round"/>
<polyline points="360,195.26 362,195.41" fill="none" stroke="#878787" stroke-width="1.4" stroke-linejoin="round"/>
<polyline points="358.74,196.82 357.41,198.31 357.42,200.31 356.45,202.06 354.66,202.96" fill="none" stroke="#878787" stroke-width="1.4" stroke-linejoin="round"/>
<polyline points="357.12,195.65 355.21,196.25" fill="none" stroke="#878787" stroke-width="1.4" stroke-linejoin="round"/>
<polyline points="423.28,158.35 421.9,159.5 420.17,160.02 418.38,160.22 416.61,160.53 415.26,161.72 413.68,162.59 411.89,162.74 410.11,162.99 408.93,164.36 407.23,164.94 406.2,166.42 405.4,168.03 403.64,168.98 402.91,170.85 401.98,172.61 400,172.29 398.92,173.97 397.42,175.29 395.54,175.98 393.62,176.55 391.7,176.02 390.3,177.45 388.64,178.57 387.22,179.97 385.52,181.02 383.61,181.62 382.01,182.82 380.08,182.29 378.14,181.8 376.29,181.05 374.73,182.3 373.01,183.33 371.04,182.98 369.52,184.27 367.54,184.58 365.56,184.9 364.01,186.16 363.21,187.99 362.15,189.69 361.2,191.45 360.66,193.37 360,195.26 358.74,196.82 357.12,195.65 355.37,196.64 354.39,194.89 352.42,194.57" fill="none" stroke="#878787" stroke-width="1.4" stroke-linejoin="round"/>
<polyline points="415.62,173.96 417.57,174.41" fill="none" stroke="#878787" stroke-width="1.4" stroke-linejoin="round"/>
<polyline points="413.49,178.49 415.24,179.47" fill="none" stroke="#878787" stroke-width="1.4" stroke-linejoin="round"/>
<polyline points="415.05,189.64 416.83,190.55 417.88,192.25" fill="none" stroke="#878787" stroke-width="1.4" stroke-linejoin="round"/>
<polyline points="413.51,180.49 412.66,182.3 413.87,183.89 414.02,185.88 414.98,187.64 415.05,189.64 414.2,191.45 415.38,193.06 415.83,195.01 414.72,196.67 415.2,198.61 414.92,200.59 414.79,202.59 413.31,203.94 414.77,205.3 415.05,207.28 414.21,209.09 413.63,211.01 413.88,212.99 415.05,214.61 415.75,216.49 415.97,218.48 415.23,220.34 415.13,222.34" fill="none" stroke="#878787" stroke-width="1.4" stroke-linejoin="round"/>
<polyline points="403.29,186.32 402.88,184.36" fill="none" stroke="#878787" stroke-width="1.4" stroke-linejoin="round"/>
<polyline points="391.05,188.95 391.15,186.96" fill="none" stroke="#878787" stroke-width="1.4" stroke-linejoin="round"/>
<polyline points="402.01,187.86 400.02,187.7 398.06,187.31 396.12,187.81 394.78,189.3 392.85,189.82 391.05,188.95 389.15,189.57" fill="none" stroke="#878787" stroke-width="1.4" stroke-linejoin="round"/>
<polyline points="394.87,198.4 393.46,199.82 391.47,199.57 389.48,199.66 388.17,201.18 386.18,201.41 384.9,202.95 383.03,202.24" fill="none" stroke="#878787" stroke-width="1.4" stroke-linejoin="round"/>
<polyline points="394.23,202.27 395.36,203.92 395.6,205.9 395.91,207.88 395.83,209.88 395.28,211.8 395.62,213.77 394.26,215.24 394.61,217.21 393.45,218.84 393.79,220.81 392.67,222.46 393.12,224.41 394.15,226.13" fill="none" stroke="#878787" stroke-width="1.4" stroke-linejoin="round"/>
<polyline points="381.64,217.82 379.79,218.57" fill="none" stroke="#878787" stroke-width="1.4" stroke-linejoin="round"/>
<polyline points="379.13,223.2 377.36,224.14 375.45,224.73 373.69,225.67" fill="none" stroke="#878787" stroke-width="1.4" stroke-linejoin="round"/>
<polyline points="410.37,182.84 408.4,183.19 406.7,184.24 405.05,185.38 403.29,186.32 402.01,187.86 401.27,189.72 399.88,191.16 399.78,193.16 397.84,193.63 396.49,195.11 396.39,197.11 394.87,198.4 394.15,200.27 394.23,202.27 392.59,203.41 391.71,205.2 389.87,205.99 388.02,206.74 387.32,208.61 385.98,210.09 384.23,211.06 384.39,213.06 383.62,214.9 381.85,215.83 381.64,217.82 381.16,219.76 380.24,221.54 379.13,223.2 380.63,224.53 381.49,226.34 383.49,226.21" fill="none" stroke="#878787" stroke-width="1.4" stroke-linejoin="round"/>
<polyline points="408.57,215.14 410.37,214.27" fill="none" stroke="#878787" stroke-width="1.4" stroke-linejoin="round"/>
<polyline points="409.01,227.47 410.64,228.64 410.89,230.62" fill="none" stroke="#878787" stroke-width="1.4" stroke-linejoin="round"/>
<polyline points="407.87,232.48 405.88,232.28" fill="none" stroke="#878787" stroke-width="1.4" stroke-linejoin="round"/>
<polyline points="428.1,153 425.38,155.62 424.76,157.31 423.28,158.35 422.95,160.12 421.76,161.47 421.12,163.15 420.08,164.62 418.86,165.94 418.41,167.69 417.71,169.34 417.68,171.14 417.01,172.81 415.62,173.96 414.31,175.19 413.33,176.7 413.49,178.49 413.51,180.49 411.7,181.34 410.37,182.84 410.7,184.81 409.36,186.29 409.84,188.23 408.42,189.64 408.71,191.62 408.26,193.56 408.87,195.47 409,197.46 409.82,199.29 408.71,200.96 408.15,202.88 408.58,204.83 409.38,206.66 407.98,208.09 406.78,209.69 407.26,211.64 407.25,213.64 408.57,215.14 408.92,217.11 409.8,218.9 410.72,220.68 411.52,222.52 411.2,224.49 409.49,225.53 409.01,227.47 407.4,228.66 408.17,230.5 407.87,232.48 407.92,234.48 407.23,236.35 406.95,238.33 405.53,239.74 403.64,240.4" fill="none" stroke="#878787" stroke-width="1.4" stroke-linejoin="round"/>
<polyline points="429.28,186.08 427.66,187.25 425.86,186.38 424.48,187.83 423.16,186.33" fill="none" stroke="#878787" stroke-width="1.4" stroke-linejoin="round"/>
<polyline points="428.9,193.28 426.95,192.85" fill="none" stroke="#878787" stroke-width="1.4" stroke-linejoin="round"/>
<polyline points="435.21,201.35 437.07,200.61" fill="none" stroke="#878787" stroke-width="1.4" stroke-linejoin="round"/>
<polyline points="441.46,213.65 443.46,213.78" fill="none" stroke="#878787" stroke-width="1.4" stroke-linejoin="round"/>
<polyline points="429.41,196.93 431.3,197.59 433.27,197.92 434.55,199.47 435.21,201.35 435.64,203.31 437.42,204.22 437.01,206.18 438.77,207.13 438.26,209.06 438.77,211 440.58,211.86 441.46,213.65 442.72,215.21 444.56,216 443.33,217.58 443.15,219.57 442.26,221.36 443.5,222.92 442.38,224.58" fill="none" stroke="#878787" stroke-width="1.4" stroke-linejoin="round"/>
<polyline points="428.77,198.83 429.2,200.78 427.28,201.36 425.53,202.32 423.73,203.19" fill="none" stroke="#878787" stroke-width="1.4" stroke-linejoin="round"/>
<polyline points="430.21,209.43 429.78,211.38 428.79,213.12 427.64,214.76 425.82,213.94" fill="none" stroke="#878787" stroke-width="1.4" stroke-linejoin="round"/>
<polyline points="430.39,159.86 430.77,161.62 431.17,163.37 431.09,165.17 430.51,166.87 431.09,168.58 431.69,170.27 432.04,172.04 431.9,173.83 430.75,175.22 430.13,176.91 429.66,178.65 430.25,180.35 429.4,182.16 429.73,184.13 429.28,186.08 430.34,187.78 429.67,189.66 430.03,191.63 428.9,193.28 428.39,195.21 429.41,196.93 428.77,198.83 430.2,200.23 431.03,202.05 430.48,203.97 429.81,205.85 430.87,207.54 430.21,209.43 431.39,211.05 432.68,212.58 432.27,214.53 433.36,216.21 432.85,218.15 432.59,220.13 432.62,222.13 431.1,223.44 430.43,225.32 429.58,227.13 429.51,229.13 428.2,230.64" fill="none" stroke="#878787" stroke-width="1.4" stroke-linejoin="round"/>
<polyline points="442.45,174.55 441.97,176.49 440.67,178.01 440.94,179.99 439.78,181.63 438.94,183.44 437.05,184.11" fill="none" stroke="#878787" stroke-width="1.4" stroke-linejoin="round"/>
<polyline points="451.05,181.92 451.66,180.01" fill="none" stroke="#878787" stroke-width="1.4" stroke-linejoin="round"/>
<polyline points="451.45,183.87 449.54,184.46" fill="none" stroke="#878787" stroke-width="1.4" stroke-linejoin="round"/>
<polyline points="456.14,187.61 458.09,187.16 458.63,185.24" fill="none" stroke="#878787" stroke-width="1.4" stroke-linejoin="round"/>
<polyline points="461.33,196.93 459.35,197.18 458.95,199.14 456.96,198.98" fill="none" stroke="#878787" stroke-width="1.4" stroke-linejoin="round"/>
<polyline points="464,199.81 465.95,200.28 467.28,198.79" fill="none" stroke="#878787" stroke-width="1.4" stroke-linejoin="round"/>
<polyline points="462.39,198.63 464,199.81 465.44,201.2 466.97,202.49 468.83,203.22 469.49,205.11 471.08,206.31 470.39,208.19" fill="none" stroke="#878787" stroke-width="1.4" stroke-linejoin="round"/>
<polyline points="458,208.62 457.55,206.67" fill="none" stroke="#878787" stroke-width="1.4" stroke-linejoin="round"/>
<polyline points="428.1,153 429.86,156.31 430.31,158.06 430.39,159.86 430.25,161.65 431.3,163.11 432.94,163.86 434.7,164.24 436.5,164.33 437.93,165.42 438.48,167.13 438.3,168.93 439.12,170.53 440.21,171.96 440.91,173.62 442.45,174.55 444.22,174.88 445.89,175.98 447.19,177.51 448.59,178.94 449.42,180.76 451.05,181.92 451.45,183.87 453.07,185.05 454.54,186.4 456.14,187.61 455.49,189.5 456.65,191.14 458.39,192.11 460.08,193.18 460.41,195.15 461.33,196.93 462.39,198.63 463.29,200.41 462.32,202.16 461.3,203.88 460.25,205.58 459.65,207.49 458,208.62 457.84,210.62 459.09,212.18 458.08,213.9 459.62,215.17 458.18,216.56 457.87,218.54 456.57,220.05 456.01,221.97" fill="none" stroke="#878787" stroke-width="1.4" stroke-linejoin="round"/>
<polyline points="449.68,166.12 450.47,164.28 451.22,162.42" fill="none" stroke="#878787" stroke-width="1.4" stroke-linejoin="round"/>
<polyline points="453.62,169.69 454.68,171.38 453.09,172.59 451.42,173.69" fill="none" stroke="#878787" stroke-width="1.4" stroke-linejoin="round"/>
<polyline points="455.58,170.08 454.94,168.19" fill="none" stroke="#878787" stroke-width="1.4" stroke-linejoin="round"/>
<polyline points="457.08,171.4 456.75,173.37" fill="none" stroke="#878787" stroke-width="1.4" stroke-linejoin="round"/>
<polyline points="471.92,178.14 473.57,177 474.95,175.55 476.81,174.83 478.81,174.67 480.12,173.16 482.05,173.71 483.95,173.11 485.94,172.86" fill="none" stroke="#878787" stroke-width="1.4" stroke-linejoin="round"/>
<polyline points="472.87,179.9 473.41,181.83 474.03,183.73 473.6,185.68 475.51,186.27 476.75,187.84" fill="none" stroke="#878787" stroke-width="1.4" stroke-linejoin="round"/>
<polyline points="490.4,181.16 491.3,179.38 493.3,179.48 494.29,177.75" fill="none" stroke="#878787" stroke-width="1.4" stroke-linejoin="round"/>
<polyline points="435.43,153.13 436.91,154.15 438.65,154.62 439.51,156.2 440.56,157.66 441.6,159.13 442.91,160.37 444.28,161.53 445.81,162.48 447.15,163.68 448.15,165.18 449.68,166.12 451.11,167.22 452.1,168.72 453.62,169.69 455.58,170.08 457.08,171.4 459.06,171.67 460.32,173.23 462.31,173.42 463.69,174.87 465.49,173.99 467.22,174.99 468.91,176.06 470.87,176.44 471.92,178.14 472.87,179.9 474.79,179.35 476.77,179.07 478.36,180.29 480.04,179.2 481.9,178.45 483.84,177.97 484.89,179.67 486.89,179.68 488.88,179.86 490.4,181.16 492.2,182.03 493.74,183.31 492.42,184.81 490.85,186.06" fill="none" stroke="#878787" stroke-width="1.4" stroke-linejoin="round"/>
<polyline points="470.64,149.41 470.86,147.43" fill="none" stroke="#878787" stroke-width="1.4" stroke-linejoin="round"/>
<polyline points="477.24,153.38 479.14,152.78 478.96,150.79" fill="none" stroke="#878787" stroke-width="1.4" stroke-linejoin="round"/>
<polyline points="478.69,154.76 480.05,156.23 481.4,157.7 479.92,159.05" fill="none" stroke="#878787" stroke-width="1.4" stroke-linejoin="round"/>
<polyline points="490.02,155.51 490.29,157.49" fill="none" stroke="#878787" stroke-width="1.4" stroke-linejoin="round"/>
<polyline points="488.42,154.3 490.02,155.51 491.63,156.69 493.61,156.99 494.12,158.92 495.64,160.22 497.24,161.42 497.45,163.41 499.11,164.53" fill="none" stroke="#878787" stroke-width="1.4" stroke-linejoin="round"/>
<polyline points="428.1,153 431.84,153.06 433.63,153.22 435.43,153.13 437.21,153.36 438.75,154.29 440.55,154.23 442.35,154.38 444.11,154 445.89,154.25 447.54,153.53 448.55,152.04 449.9,150.85 451.38,149.82 452.71,148.62 454.26,147.7 455.76,146.37 457.76,146.35 459.7,145.89 461.32,147.06 463.31,146.91 465.18,147.64 467.08,148.27 468.65,149.51 470.64,149.41 472.42,150.34 473.58,151.97 475.26,153.05 477.24,153.38 478.69,154.76 480.59,154.14 482.59,154.2 484.52,153.7 486.42,154.32 488.42,154.3 490.21,153.41 491.55,151.92 492.95,150.49 493.3,148.52 493.88,146.61 495.77,145.96 495.36,144 495.75,142.04" fill="none" stroke="#878787" stroke-width="1.4" stroke-linejoin="round"/>
<polyline points="444.49,143.96 445.27,142.34 446.47,141 448.21,140.52 449.9,139.92 451.32,138.8 453.12,138.81" fill="none" stroke="#1b8fcd" stroke-width="3.2" stroke-linejoin="round" stroke-dasharray="2.2,5.0" stroke-linecap="round"/>
<polyline points="435.32,148.19 437.04,147.68 438.84,147.68 440.51,147.01 442.25,146.55 443.8,145.62 444.49,143.96 444.48,142.16 444,140.43 444.08,138.63 445.04,137.11 446.25,135.78 447.44,134.43" fill="none" stroke="#1b8fcd" stroke-width="3.2" stroke-linejoin="round" stroke-dasharray="2.2,5.0" stroke-linecap="round"/>
<polyline points="437.56,131.23 436.25,129.72 435.49,127.87 434.12,126.41 433.88,124.43" fill="none" stroke="#1b8fcd" stroke-width="3.2" stroke-linejoin="round" stroke-dasharray="2.2,5.0" stroke-linecap="round"/>
<polyline points="428.1,153 430.68,150.21 432.42,149.74 434.21,149.61 435.32,148.19 436.24,146.65 435.83,144.9 435.24,143.2 434.38,141.62 433.2,140.26 432.83,138.5 433.92,137.06 434.71,135.45 434.91,133.66 436.17,132.38 437.56,131.23 439.29,130.74 440.99,130.13 442.63,129.39 443.59,127.87" fill="none" stroke="#1b8fcd" stroke-width="3.2" stroke-linejoin="round" stroke-dasharray="2.2,5.0" stroke-linecap="round"/>
<polyline points="423.32,145.54 423.37,143.74 423.91,142.02 424.93,140.54 424.74,138.76 425.36,137.06 426.19,135.47 426.74,133.76 426.39,131.99 426.19,130.2 425.1,128.76 424.44,127.09 424.43,125.29 424.8,123.33" fill="none" stroke="#1b8fcd" stroke-width="3.2" stroke-linejoin="round" stroke-dasharray="2.2,5.0" stroke-linecap="round"/>
<polyline points="415.67,136.87 414.69,135.36 414.2,133.63 414.09,131.83 414.29,130.04 415.3,128.55 416.11,126.94" fill="none" stroke="#1b8fcd" stroke-width="3.2" stroke-linejoin="round" stroke-dasharray="2.2,5.0" stroke-linecap="round"/>
<polyline points="428.1,153 426.26,149.75 424.83,148.66 423.63,147.31 423.32,145.54 423.25,143.74 422.9,141.98 421.53,140.81 420.04,139.8 418.32,139.25 416.83,138.24 415.67,136.87 414.87,135.26 413.17,134.65 411.94,133.34 411.34,131.64 410.07,130.1" fill="none" stroke="#1b8fcd" stroke-width="3.2" stroke-linejoin="round" stroke-dasharray="2.2,5.0" stroke-linecap="round"/>
<polyline points="403.31,144.33 401.97,142.85 400.58,141.41" fill="none" stroke="#1b8fcd" stroke-width="3.2" stroke-linejoin="round" stroke-dasharray="2.2,5.0" stroke-linecap="round"/>
<polyline points="419.31,150.37 417.56,149.98 415.79,149.63 414.07,149.1 412.52,148.19 411.49,146.71 410.1,145.56 408.44,144.88 406.64,144.88 404.87,145.23 403.31,144.33 401.34,144.01" fill="none" stroke="#1b8fcd" stroke-width="3.2" stroke-linejoin="round" stroke-dasharray="2.2,5.0" stroke-linecap="round"/>
<polyline points="401.38,156.75 402.99,157.95" fill="none" stroke="#1b8fcd" stroke-width="3.2" stroke-linejoin="round" stroke-dasharray="2.2,5.0" stroke-linecap="round"/>
<polyline points="428.1,153 424.42,152.09 422.71,151.53 421.06,150.8 419.31,150.37 417.67,151.11 416.64,152.58 415.03,153.38 413.23,153.49 411.43,153.57 409.76,154.24 408.12,154.98 406.34,154.67 404.73,155.47 403,155.97 401.38,156.75 399.65,157.76" fill="none" stroke="#1b8fcd" stroke-width="3.2" stroke-linejoin="round" stroke-dasharray="2.2,5.0" stroke-linecap="round"/>
<polyline points="423.28,158.35 421.9,159.5 420.17,160.02 418.38,160.22 416.61,160.53 415.26,161.72 413.68,162.59 411.89,162.74 410.11,162.99 408.93,164.36 407.23,164.94 406.2,166.42 405.4,168.03 403.64,168.98" fill="none" stroke="#1b8fcd" stroke-width="3.2" stroke-linejoin="round" stroke-dasharray="2.2,5.0" stroke-linecap="round"/>
<polyline points="415.62,173.96 417.57,174.41" fill="none" stroke="#1b8fcd" stroke-width="3.2" stroke-linejoin="round" stroke-dasharray="2.2,5.0" stroke-linecap="round"/>
<polyline points="413.49,178.49 415.24,179.47" fill="none" stroke="#1b8fcd" stroke-width="3.2" stroke-linejoin="round" stroke-dasharray="2.2,5.0" stroke-linecap="round"/>
<polyline points="428.1,153 425.38,155.62 424.76,157.31 423.28,158.35 422.95,160.12 421.76,161.47 421.12,163.15 420.08,164.62 418.86,165.94 418.41,167.69 417.71,169.34 417.68,171.14 417.01,172.81 415.62,173.96 414.31,175.19 413.33,176.7 413.49,178.49" fill="none" stroke="#1b8fcd" stroke-width="3.2" stroke-linejoin="round" stroke-dasharray="2.2,5.0" stroke-linecap="round"/>
<polyline points="430.39,159.86 430.77,161.62 431.17,163.37 431.09,165.17 430.51,166.87 431.09,168.58 431.69,170.27 432.04,172.04 431.9,173.83 430.75,175.22 430.13,176.91 429.66,178.65 430.25,180.35 429.4,182.16" fill="none" stroke="#1b8fcd" stroke-width="3.2" stroke-linejoin="round" stroke-dasharray="2.2,5.0" stroke-linecap="round"/>
<polyline points="442.45,174.55 441.97,176.49 440.67,178.01 440.94,179.99" fill="none" stroke="#1b8fcd" stroke-width="3.2" stroke-linejoin="round" stroke-dasharray="2.2,5.0" stroke-linecap="round"/>
<polyline points="428.1,153 429.86,156.31 430.31,158.06 430.39,159.86 430.25,161.65 431.3,163.11 432.94,163.86 434.7,164.24 436.5,164.33 437.93,165.42 438.48,167.13 438.3,168.93 439.12,170.53 440.21,171.96 440.91,173.62 442.45,174.55 444.22,174.88 445.89,175.98" fill="none" stroke="#1b8fcd" stroke-width="3.2" stroke-linejoin="round" stroke-dasharray="2.2,5.0" stroke-linecap="round"/>
<polyline points="449.68,166.12 450.47,164.28 451.22,162.42" fill="none" stroke="#1b8fcd" stroke-width="3.2" stroke-linejoin="round" stroke-dasharray="2.2,5.0" stroke-linecap="round"/>
<polyline points="435.43,153.13 436.91,154.15 438.65,154.62 439.51,156.2 440.56,157.66 441.6,159.13 442.91,160.37 444.28,161.53 445.81,162.48 447.15,163.68 448.15,165.18 449.68,166.12 451.11,167.22 452.1,168.72" fill="none" stroke="#1b8fcd" stroke-width="3.2" stroke-linejoin="round" stroke-dasharray="2.2,5.0" stroke-linecap="round"/>
<polyline points="428.1,153 431.84,153.06 433.63,153.22 435.43,153.13 437.21,153.36 438.75,154.29 440.55,154.23 442.35,154.38 444.11,154 445.89,154.25 447.54,153.53 448.55,152.04 449.9,150.85 451.38,149.82 452.71,148.62 454.26,147.7 455.76,146.37" fill="none" stroke="#1b8fcd" stroke-width="3.2" stroke-linejoin="round" stroke-dasharray="2.2,5.0" stroke-linecap="round"/>
<circle cx="366.5" cy="99.5" r="3.7" fill="#d0d0d0" stroke="#bcbcbc" stroke-width="0.5"/>
<circle cx="372.8" cy="99.5" r="3.7" fill="#d7d7d7" stroke="#c3c3c3" stroke-width="0.5"/>
<circle cx="369.7" cy="102.4" r="3.7" fill="#d2d2d2" stroke="#bebebe" stroke-width="0.5"/>
<circle cx="371.4" cy="106" r="3.7" fill="#c8c8c8" stroke="#b4b4b4" stroke-width="0.5"/>
<circle cx="372" cy="111.4" r="3.7" fill="#aaaaaa" stroke="#969696" stroke-width="0.5"/>
<circle cx="389.4" cy="93.1" r="3.7" fill="#c8c8c8" stroke="#b4b4b4" stroke-width="0.5"/>
<circle cx="397" cy="99.5" r="3.7" fill="#c3c3c3" stroke="#afafaf" stroke-width="0.5"/>
<circle cx="399.3" cy="92.6" r="3.7" fill="#787878" stroke="#646464" stroke-width="0.5"/>
<circle cx="351" cy="117" r="3.7" fill="#969696" stroke="#828282" stroke-width="0.5"/>
<circle cx="363.3" cy="117.6" r="3.7" fill="#969696" stroke="#828282" stroke-width="0.5"/>
<circle cx="387.7" cy="117.2" r="3.7" fill="#d7d7d7" stroke="#c3c3c3" stroke-width="0.5"/>
<circle cx="348.7" cy="121.5" r="3.7" fill="#969696" stroke="#828282" stroke-width="0.5"/>
<circle cx="355.7" cy="123.8" r="3.7" fill="#969696" stroke="#828282" stroke-width="0.5"/>
<circle cx="364.4" cy="123.3" r="3.7" fill="#969696" stroke="#828282" stroke-width="0.5"/>
<circle cx="369.7" cy="133.1" r="3.7" fill="#969696" stroke="#828282" stroke-width="0.5"/>
<circle cx="387.1" cy="132" r="3.7" fill="#aaaaaa" stroke="#969696" stroke-width="0.5"/>
<circle cx="441.9" cy="68.7" r="3.7" fill="#878787" stroke="#737373" stroke-width="0.5"/>
<circle cx="427.9" cy="75.7" r="3.7" fill="#878787" stroke="#737373" stroke-width="0.5"/>
<circle cx="436" cy="76.3" r="3.7" fill="#969696" stroke="#828282" stroke-width="0.5"/>
<circle cx="427.3" cy="80.3" r="3.7" fill="#878787" stroke="#737373" stroke-width="0.5"/>
<circle cx="428.5" cy="85" r="3.7" fill="#878787" stroke="#737373" stroke-width="0.5"/>
<circle cx="447.7" cy="77.4" r="3.7" fill="#555555" stroke="#414141" stroke-width="0.5"/>
<circle cx="445.3" cy="81" r="3.7" fill="#555555" stroke="#414141" stroke-width="0.5"/>
<circle cx="447.7" cy="93.1" r="3.7" fill="#555555" stroke="#414141" stroke-width="0.5"/>
<circle cx="445.9" cy="95.5" r="3.7" fill="#555555" stroke="#414141" stroke-width="0.5"/>
<circle cx="417.4" cy="89.1" r="3.7" fill="#878787" stroke="#737373" stroke-width="0.5"/>
<circle cx="420.3" cy="91.4" r="3.7" fill="#878787" stroke="#737373" stroke-width="0.5"/>
<circle cx="424.4" cy="99" r="3.7" fill="#969696" stroke="#828282" stroke-width="0.5"/>
<circle cx="427.9" cy="106.5" r="3.7" fill="#555555" stroke="#414141" stroke-width="0.5"/>
<circle cx="435.5" cy="105.3" r="3.7" fill="#555555" stroke="#414141" stroke-width="0.5"/>
<circle cx="410.5" cy="110.6" r="3.7" fill="#878787" stroke="#737373" stroke-width="0.5"/>
<circle cx="441.3" cy="112.3" r="3.7" fill="#555555" stroke="#414141" stroke-width="0.5"/>
<circle cx="417.4" cy="114.7" r="3.7" fill="#878787" stroke="#737373" stroke-width="0.5"/>
<circle cx="402.3" cy="111.2" r="3.7" fill="#d2d2d2" stroke="#bebebe" stroke-width="0.5"/>
<circle cx="458.3" cy="117" r="3.4" fill="#3c3c3c" stroke="#1e1e1e" stroke-width="1.2"/>
<circle cx="482.2" cy="94" r="3.7" fill="#1c1c1c" stroke="#080808" stroke-width="0.5"/>
<circle cx="481.7" cy="98.9" r="3.7" fill="#1c1c1c" stroke="#080808" stroke-width="0.5"/>
<circle cx="464.2" cy="121.7" r="3.7" fill="#444444" stroke="#303030" stroke-width="0.5"/>
<circle cx="463.8" cy="129" r="3.7" fill="#444444" stroke="#303030" stroke-width="0.5"/>
<circle cx="476.8" cy="124.6" r="3.7" fill="#444444" stroke="#303030" stroke-width="0.5"/>
<circle cx="481" cy="128" r="3.7" fill="#555555" stroke="#414141" stroke-width="0.5"/>
<circle cx="478.4" cy="131.6" r="3.7" fill="#555555" stroke="#414141" stroke-width="0.5"/>
<circle cx="453.4" cy="137.4" r="3.4" fill="#323232" stroke="#1e1e1e" stroke-width="1.2"/>
<circle cx="457.4" cy="146.2" r="3.4" fill="#787878" stroke="#1e1e1e" stroke-width="1.2"/>
<circle cx="470.2" cy="149.7" r="3.4" fill="#787878" stroke="#1e1e1e" stroke-width="1.2"/>
<circle cx="479" cy="149.1" r="3.4" fill="#787878" stroke="#1e1e1e" stroke-width="1.2"/>
<circle cx="488.3" cy="156.6" r="3.4" fill="#787878" stroke="#1e1e1e" stroke-width="1.2"/>
<circle cx="479.5" cy="161.3" r="3.4" fill="#646464" stroke="#1e1e1e" stroke-width="1.2"/>
<circle cx="485.9" cy="170.6" r="3.4" fill="#787878" stroke="#1e1e1e" stroke-width="1.2"/>
<circle cx="480.7" cy="174.7" r="3.7" fill="#646464" stroke="#505050" stroke-width="0.5"/>
<circle cx="474.9" cy="178.1" r="3.7" fill="#555555" stroke="#414141" stroke-width="0.5"/>
<circle cx="494.7" cy="178.1" r="3.7" fill="#646464" stroke="#505050" stroke-width="0.5"/>
<circle cx="451.6" cy="174.7" r="3.7" fill="#444444" stroke="#303030" stroke-width="0.5"/>
<circle cx="422.3" cy="185.1" r="3.7" fill="#878787" stroke="#737373" stroke-width="0.5"/>
<circle cx="425.8" cy="192.1" r="3.7" fill="#969696" stroke="#828282" stroke-width="0.5"/>
<circle cx="429.3" cy="185.1" r="3.7" fill="#646464" stroke="#505050" stroke-width="0.5"/>
<circle cx="436.9" cy="185.1" r="3.7" fill="#646464" stroke="#505050" stroke-width="0.5"/>
<circle cx="448.5" cy="185.7" r="3.7" fill="#555555" stroke="#414141" stroke-width="0.5"/>
<circle cx="456.6" cy="185.7" r="3.7" fill="#555555" stroke="#414141" stroke-width="0.5"/>
<circle cx="457.8" cy="192.1" r="3.7" fill="#444444" stroke="#303030" stroke-width="0.5"/>
<circle cx="466.5" cy="197.3" r="3.7" fill="#555555" stroke="#414141" stroke-width="0.5"/>
<circle cx="455.5" cy="199.7" r="3.7" fill="#646464" stroke="#505050" stroke-width="0.5"/>
<circle cx="473.5" cy="181" r="3.7" fill="#555555" stroke="#414141" stroke-width="0.5"/>
<circle cx="471.7" cy="184" r="3.7" fill="#555555" stroke="#414141" stroke-width="0.5"/>
<circle cx="434" cy="199.7" r="3.7" fill="#878787" stroke="#737373" stroke-width="0.5"/>
<circle cx="439.2" cy="200.8" r="3.4" fill="#323232" stroke="#1e1e1e" stroke-width="1.2"/>
<circle cx="423.5" cy="205.5" r="3.7" fill="#878787" stroke="#737373" stroke-width="0.5"/>
<circle cx="439.2" cy="212.4" r="3.7" fill="#323232" stroke="#1e1e1e" stroke-width="0.5"/>
<circle cx="444.4" cy="212.4" r="3.7" fill="#323232" stroke="#1e1e1e" stroke-width="0.5"/>
<circle cx="372.3" cy="177.3" r="3.7" fill="#cccccc" stroke="#b8b8b8" stroke-width="0.5"/>
<circle cx="372.9" cy="183.1" r="3.7" fill="#cccccc" stroke="#b8b8b8" stroke-width="0.5"/>
<circle cx="373.5" cy="190.1" r="3.7" fill="#cccccc" stroke="#b8b8b8" stroke-width="0.5"/>
<circle cx="371.2" cy="202.9" r="3.7" fill="#cccccc" stroke="#b8b8b8" stroke-width="0.5"/>
<circle cx="383.4" cy="180.8" r="3.7" fill="#cccccc" stroke="#b8b8b8" stroke-width="0.5"/>
<circle cx="379.9" cy="193.6" r="3.7" fill="#dcdcdc" stroke="#c8c8c8" stroke-width="0.5"/>
<circle cx="390.3" cy="185.5" r="3.7" fill="#dcdcdc" stroke="#c8c8c8" stroke-width="0.5"/>
<circle cx="388.6" cy="191.3" r="3.7" fill="#dcdcdc" stroke="#c8c8c8" stroke-width="0.5"/>
<circle cx="397.3" cy="186.6" r="3.7" fill="#dcdcdc" stroke="#c8c8c8" stroke-width="0.5"/>
<circle cx="397.3" cy="194.2" r="3.7" fill="#dcdcdc" stroke="#c8c8c8" stroke-width="0.5"/>
<circle cx="390.9" cy="197.7" r="3.7" fill="#dcdcdc" stroke="#c8c8c8" stroke-width="0.5"/>
<circle cx="402.6" cy="183.7" r="3.7" fill="#b9b9b9" stroke="#a5a5a5" stroke-width="0.5"/>
<circle cx="387.4" cy="205.2" r="3.7" fill="#cccccc" stroke="#b8b8b8" stroke-width="0.5"/>
<circle cx="396.7" cy="206.4" r="3.7" fill="#cccccc" stroke="#b8b8b8" stroke-width="0.5"/>
<circle cx="385.1" cy="209.9" r="3.7" fill="#cccccc" stroke="#b8b8b8" stroke-width="0.5"/>
<circle cx="388" cy="211.1" r="3.7" fill="#cccccc" stroke="#b8b8b8" stroke-width="0.5"/>
<circle cx="393.3" cy="216.3" r="3.7" fill="#cccccc" stroke="#b8b8b8" stroke-width="0.5"/>
<circle cx="378.1" cy="217.4" r="3.7" fill="#cccccc" stroke="#b8b8b8" stroke-width="0.5"/>
<circle cx="381" cy="219.2" r="3.7" fill="#cccccc" stroke="#b8b8b8" stroke-width="0.5"/>
<circle cx="377.6" cy="221.5" r="3.7" fill="#cccccc" stroke="#b8b8b8" stroke-width="0.5"/>
<circle cx="391.5" cy="223.3" r="3.7" fill="#cccccc" stroke="#b8b8b8" stroke-width="0.5"/>
<circle cx="395" cy="226.7" r="3.7" fill="#cccccc" stroke="#b8b8b8" stroke-width="0.5"/>
<circle cx="408.4" cy="202.9" r="3.7" fill="#9b9b9b" stroke="#878787" stroke-width="0.5"/>
<circle cx="413" cy="205.2" r="3.7" fill="#9b9b9b" stroke="#878787" stroke-width="0.5"/>
<circle cx="415.9" cy="209.9" r="3.7" fill="#9b9b9b" stroke="#878787" stroke-width="0.5"/>
<circle cx="407.8" cy="218" r="3.7" fill="#878787" stroke="#737373" stroke-width="0.5"/>
<circle cx="413.6" cy="218.6" r="3.7" fill="#878787" stroke="#737373" stroke-width="0.5"/>
<circle cx="410.1" cy="222.7" r="3.7" fill="#878787" stroke="#737373" stroke-width="0.5"/>
<circle cx="416.5" cy="222.7" r="3.7" fill="#878787" stroke="#737373" stroke-width="0.5"/>
<circle cx="410.7" cy="227.3" r="3.7" fill="#878787" stroke="#737373" stroke-width="0.5"/>
<circle cx="403.7" cy="232" r="3.7" fill="#878787" stroke="#737373" stroke-width="0.5"/>
<circle cx="415.9" cy="187.8" r="3.7" fill="#878787" stroke="#737373" stroke-width="0.5"/>
<circle cx="418.8" cy="192.4" r="3.7" fill="#878787" stroke="#737373" stroke-width="0.5"/>
<circle cx="415.3" cy="197.1" r="3.7" fill="#878787" stroke="#737373" stroke-width="0.5"/>
<circle cx="352.8" cy="141.9" r="3.4" fill="#eeeeee" stroke="#1e1e1e" stroke-width="1.2"/>
<circle cx="356.3" cy="141.9" r="3.4" fill="#dcdcdc" stroke="#1e1e1e" stroke-width="1.2"/>
<circle cx="357.4" cy="148.8" r="3.4" fill="#dcdcdc" stroke="#1e1e1e" stroke-width="1.2"/>
<circle cx="363.3" cy="147.1" r="3.4" fill="#dcdcdc" stroke="#1e1e1e" stroke-width="1.2"/>
<circle cx="367.3" cy="140.7" r="3.4" fill="#aaaaaa" stroke="#1e1e1e" stroke-width="1.2"/>
<circle cx="372.6" cy="146.5" r="3.4" fill="#b9b9b9" stroke="#1e1e1e" stroke-width="1.2"/>
<circle cx="384.2" cy="147.1" r="3.4" fill="#eeeeee" stroke="#1e1e1e" stroke-width="1.2"/>
<circle cx="391.2" cy="141.9" r="3.4" fill="#b9b9b9" stroke="#1e1e1e" stroke-width="1.2"/>
<circle cx="363.8" cy="157.6" r="3.4" fill="#cccccc" stroke="#1e1e1e" stroke-width="1.2"/>
<circle cx="372.6" cy="166.3" r="3.4" fill="#dcdcdc" stroke="#1e1e1e" stroke-width="1.2"/>
<circle cx="387.7" cy="165.1" r="3.4" fill="#dcdcdc" stroke="#1e1e1e" stroke-width="1.2"/>
<circle cx="363.8" cy="126.2" r="3.7" fill="#969696" stroke="#828282" stroke-width="0.5"/>
<circle cx="345.2" cy="180.8" r="3.7" fill="#b9b9b9" stroke="#a5a5a5" stroke-width="0.5"/>
<circle cx="368.5" cy="182" r="3.7" fill="#b9b9b9" stroke="#a5a5a5" stroke-width="0.5"/>
<circle cx="348.1" cy="188.7" r="3.7" fill="#c8c8c8" stroke="#b4b4b4" stroke-width="0.5"/>
<circle cx="357.7" cy="187.4" r="3.7" fill="#c8c8c8" stroke="#b4b4b4" stroke-width="0.5"/>
<circle cx="355.1" cy="194" r="3.7" fill="#c8c8c8" stroke="#b4b4b4" stroke-width="0.5"/>
<circle cx="362.5" cy="196.2" r="3.7" fill="#c8c8c8" stroke="#b4b4b4" stroke-width="0.5"/>
<circle cx="352.9" cy="201.8" r="3.7" fill="#c8c8c8" stroke="#b4b4b4" stroke-width="0.5"/>
<circle cx="365.5" cy="187.4" r="3.7" fill="#c8c8c8" stroke="#b4b4b4" stroke-width="0.5"/>
<circle cx="368.6" cy="202.7" r="3.7" fill="#c8c8c8" stroke="#b4b4b4" stroke-width="0.5"/>
<circle cx="387.32" cy="116.72" r="1.8" fill="#e67a35" stroke="none" stroke-width="1"/>
<circle cx="386.71" cy="132" r="1.8" fill="#e67a35" stroke="none" stroke-width="1"/>
<circle cx="427.61" cy="106.96" r="1.8" fill="#e67a35" stroke="none" stroke-width="1"/>
<circle cx="410.58" cy="110.41" r="1.8" fill="#e67a35" stroke="none" stroke-width="1"/>
<circle cx="441.22" cy="111.75" r="1.8" fill="#e67a35" stroke="none" stroke-width="1"/>
<circle cx="417.68" cy="115" r="1.8" fill="#e67a35" stroke="none" stroke-width="1"/>
<circle cx="402.14" cy="111.47" r="1.8" fill="#e67a35" stroke="none" stroke-width="1"/>
<circle cx="458.03" cy="116.66" r="1.8" fill="#e67a35" stroke="none" stroke-width="1"/>
<circle cx="463.47" cy="128.64" r="1.8" fill="#e67a35" stroke="none" stroke-width="1"/>
<circle cx="453.53" cy="137.57" r="1.8" fill="#e67a35" stroke="none" stroke-width="1"/>
<circle cx="457.67" cy="145.72" r="1.8" fill="#e67a35" stroke="none" stroke-width="1"/>
<circle cx="479.32" cy="149.07" r="1.8" fill="#e67a35" stroke="none" stroke-width="1"/>
<circle cx="451.45" cy="174.7" r="1.8" fill="#e67a35" stroke="none" stroke-width="1"/>
<circle cx="422.22" cy="184.74" r="1.8" fill="#e67a35" stroke="none" stroke-width="1"/>
<circle cx="436.77" cy="185.28" r="1.8" fill="#e67a35" stroke="none" stroke-width="1"/>
<circle cx="448.76" cy="186.2" r="1.8" fill="#e67a35" stroke="none" stroke-width="1"/>
<circle cx="456.23" cy="186.17" r="1.8" fill="#e67a35" stroke="none" stroke-width="1"/>
<circle cx="439.56" cy="201.06" r="1.8" fill="#e67a35" stroke="none" stroke-width="1"/>
<circle cx="383.98" cy="180.37" r="1.8" fill="#e67a35" stroke="none" stroke-width="1"/>
<circle cx="380.23" cy="194.08" r="1.8" fill="#e67a35" stroke="none" stroke-width="1"/>
<circle cx="388.15" cy="191.41" r="1.8" fill="#e67a35" stroke="none" stroke-width="1"/>
<circle cx="397.84" cy="186.35" r="1.8" fill="#e67a35" stroke="none" stroke-width="1"/>
<circle cx="397.73" cy="194.69" r="1.8" fill="#e67a35" stroke="none" stroke-width="1"/>
<circle cx="402.52" cy="183.27" r="1.8" fill="#e67a35" stroke="none" stroke-width="1"/>
<circle cx="415.56" cy="188.2" r="1.8" fill="#e67a35" stroke="none" stroke-width="1"/>
<circle cx="418.71" cy="192.18" r="1.8" fill="#e67a35" stroke="none" stroke-width="1"/>
<circle cx="415.23" cy="197.61" r="1.8" fill="#e67a35" stroke="none" stroke-width="1"/>
<circle cx="372.3" cy="145.92" r="1.8" fill="#e67a35" stroke="none" stroke-width="1"/>
<circle cx="373.14" cy="166.08" r="1.8" fill="#e67a35" stroke="none" stroke-width="1"/>
<circle cx="387.56" cy="165.67" r="1.8" fill="#e67a35" stroke="none" stroke-width="1"/>
<circle cx="463.65" cy="128.44" r="1.71" fill="#e67a35" stroke="none" stroke-width="1"/>
<circle cx="478.06" cy="125.83" r="1.75" fill="#e67a35" stroke="none" stroke-width="1"/>
<circle cx="451.32" cy="138.8" r="1.85" fill="#e67a35" stroke="none" stroke-width="1"/>
<circle cx="457.09" cy="134.4" r="2.02" fill="#e67a35" stroke="none" stroke-width="1"/>
<circle cx="434.12" cy="126.41" r="1.68" fill="#e67a35" stroke="none" stroke-width="1"/>
<circle cx="448.08" cy="118.18" r="1.63" fill="#e67a35" stroke="none" stroke-width="1"/>
<circle cx="462.53" cy="112.72" r="1.74" fill="#e67a35" stroke="none" stroke-width="1"/>
<circle cx="442.06" cy="118.26" r="2.06" fill="#e67a35" stroke="none" stroke-width="1"/>
<circle cx="445.47" cy="114.69" r="1.66" fill="#e67a35" stroke="none" stroke-width="1"/>
<circle cx="443.34" cy="99.59" r="2.04" fill="#e67a35" stroke="none" stroke-width="1"/>
<circle cx="426.3" cy="118.8" r="1.77" fill="#e67a35" stroke="none" stroke-width="1"/>
<circle cx="427.86" cy="111.58" r="1.84" fill="#e67a35" stroke="none" stroke-width="1"/>
<circle cx="427.49" cy="96.72" r="1.98" fill="#e67a35" stroke="none" stroke-width="1"/>
<circle cx="414.11" cy="114.61" r="1.69" fill="#e67a35" stroke="none" stroke-width="1"/>
<circle cx="408.95" cy="98.31" r="1.78" fill="#e67a35" stroke="none" stroke-width="1"/>
<circle cx="412.98" cy="122.43" r="1.85" fill="#e67a35" stroke="none" stroke-width="1"/>
<circle cx="408.51" cy="116.29" r="1.84" fill="#e67a35" stroke="none" stroke-width="1"/>
<circle cx="395.93" cy="107.84" r="2.09" fill="#e67a35" stroke="none" stroke-width="1"/>
<circle cx="411.34" cy="131.64" r="1.87" fill="#e67a35" stroke="none" stroke-width="1"/>
<circle cx="401.32" cy="137.94" r="1.65" fill="#e67a35" stroke="none" stroke-width="1"/>
<circle cx="389.38" cy="140.74" r="1.97" fill="#e67a35" stroke="none" stroke-width="1"/>
<circle cx="394.98" cy="139.46" r="1.71" fill="#e67a35" stroke="none" stroke-width="1"/>
<circle cx="381.97" cy="133.42" r="1.86" fill="#e67a35" stroke="none" stroke-width="1"/>
<circle cx="388.89" cy="160.22" r="1.7" fill="#e67a35" stroke="none" stroke-width="1"/>
<circle cx="368.84" cy="144.8" r="2.02" fill="#e67a35" stroke="none" stroke-width="1"/>
<circle cx="399.65" cy="157.76" r="1.72" fill="#e67a35" stroke="none" stroke-width="1"/>
<circle cx="392.17" cy="158.04" r="2.05" fill="#e67a35" stroke="none" stroke-width="1"/>
<circle cx="384.89" cy="156.14" r="1.79" fill="#e67a35" stroke="none" stroke-width="1"/>
<circle cx="394.8" cy="174.12" r="1.64" fill="#e67a35" stroke="none" stroke-width="1"/>
<circle cx="387.86" cy="175.35" r="2.08" fill="#e67a35" stroke="none" stroke-width="1"/>
<circle cx="379.45" cy="187.64" r="1.9" fill="#e67a35" stroke="none" stroke-width="1"/>
<circle cx="400" cy="172.29" r="1.86" fill="#e67a35" stroke="none" stroke-width="1"/>
<circle cx="393.62" cy="176.55" r="2.02" fill="#e67a35" stroke="none" stroke-width="1"/>
<circle cx="387.22" cy="179.97" r="1.99" fill="#e67a35" stroke="none" stroke-width="1"/>
<circle cx="380.08" cy="182.29" r="2.02" fill="#e67a35" stroke="none" stroke-width="1"/>
<circle cx="414.02" cy="185.88" r="1.67" fill="#e67a35" stroke="none" stroke-width="1"/>
<circle cx="415.05" cy="207.28" r="1.69" fill="#e67a35" stroke="none" stroke-width="1"/>
<circle cx="391.15" cy="186.96" r="1.88" fill="#e67a35" stroke="none" stroke-width="1"/>
<circle cx="391.47" cy="199.57" r="1.82" fill="#e67a35" stroke="none" stroke-width="1"/>
<circle cx="405.05" cy="185.38" r="1.91" fill="#e67a35" stroke="none" stroke-width="1"/>
<circle cx="396.39" cy="197.11" r="2.03" fill="#e67a35" stroke="none" stroke-width="1"/>
<circle cx="413.33" cy="176.7" r="1.87" fill="#e67a35" stroke="none" stroke-width="1"/>
<circle cx="410.37" cy="182.84" r="1.6" fill="#e67a35" stroke="none" stroke-width="1"/>
<circle cx="408.42" cy="189.64" r="1.68" fill="#e67a35" stroke="none" stroke-width="1"/>
<circle cx="409" cy="197.46" r="2.03" fill="#e67a35" stroke="none" stroke-width="1"/>
<circle cx="437.01" cy="206.18" r="1.74" fill="#e67a35" stroke="none" stroke-width="1"/>
<circle cx="430.25" cy="180.35" r="1.95" fill="#e67a35" stroke="none" stroke-width="1"/>
<circle cx="430.34" cy="187.78" r="2.06" fill="#e67a35" stroke="none" stroke-width="1"/>
<circle cx="437.05" cy="184.11" r="1.75" fill="#e67a35" stroke="none" stroke-width="1"/>
<circle cx="458.09" cy="187.16" r="1.97" fill="#e67a35" stroke="none" stroke-width="1"/>
<circle cx="444.22" cy="174.88" r="1.78" fill="#e67a35" stroke="none" stroke-width="1"/>
<circle cx="449.42" cy="180.76" r="1.94" fill="#e67a35" stroke="none" stroke-width="1"/>
<circle cx="456.75" cy="173.37" r="1.78" fill="#e67a35" stroke="none" stroke-width="1"/>
<circle cx="474.95" cy="175.55" r="2.04" fill="#e67a35" stroke="none" stroke-width="1"/>
<circle cx="482.05" cy="173.71" r="1.92" fill="#e67a35" stroke="none" stroke-width="1"/>
<circle cx="474.03" cy="183.73" r="1.89" fill="#e67a35" stroke="none" stroke-width="1"/>
<circle cx="476.77" cy="179.07" r="2.01" fill="#e67a35" stroke="none" stroke-width="1"/>
<circle cx="479.14" cy="152.78" r="1.7" fill="#e67a35" stroke="none" stroke-width="1"/>
<circle cx="481.4" cy="157.7" r="1.98" fill="#e67a35" stroke="none" stroke-width="1"/>
<circle cx="455.76" cy="146.37" r="2.05" fill="#e67a35" stroke="none" stroke-width="1"/>
<circle cx="470.64" cy="149.41" r="1.88" fill="#e67a35" stroke="none" stroke-width="1"/>
<circle cx="477.24" cy="153.38" r="1.92" fill="#e67a35" stroke="none" stroke-width="1"/>
<circle cx="428.1" cy="153" r="5" fill="#9c9c9c" stroke="none" stroke-width="1"/>
<text x="0" y="0" font-size="12.8" fill="#1a1a1a" transform="translate(52.2,407.2) rotate(-90)">Random initialization</text>
<line x1="53.3" y1="348.8" x2="60.5" y2="348.8" stroke="#000" stroke-width="1.4"/>
<polygon points="59.5,345.6 66.2,348.8 59.5,352" fill="#000" stroke="none" stroke-width="1"/>
<polygon points="69.6,288.2 415.2,272.8 415.2,481.6 69.6,495.6" fill="#ffffff" stroke="#000" stroke-width="1.5" stroke-linejoin="miter"/>
<text x="0" y="0" font-size="12.8" fill="#1a1a1a" transform="translate(213.6,295.9) rotate(-1.8)">Population</text>
<rect x="300.25" y="294.9" width="100.6" height="164.8" fill="#fff" stroke="#111" stroke-width="1.7"/>
<rect x="302.05" y="296.7" width="97" height="161.2" fill="#eeeeee" stroke="none" stroke-width="1"/>
<rect x="307.25" y="299.2" width="86.3" height="12.3" fill="#e3e3e3" stroke="none" stroke-width="1"/>
<text x="350.75" y="310.5" font-size="12.8" text-anchor="middle" fill="#1a1a1a">Inputs</text>
<line x1="307.45" y1="313.7" x2="393.45" y2="313.7" stroke="#000" stroke-width="1.4"/>
<polyline points="307.45,330.9 314.21,330.9 321.76,330.9 328.91,330.9 334.5,330.9 337.35,330.9 337.73,330.56 338.01,329.68 338.23,328.47 338.46,327.14 338.75,325.9 339.2,324.05 339.68,321.8 340.22,319.61 340.87,317.96 341.65,317.3 342.72,317.5 344.2,318.01 345.92,318.7 347.75,319.44 349.55,320.1 351.72,320.81 354.02,321.55 356.4,322.29 358.76,323.01 361.05,323.7 363.15,324.32 365.26,324.95 367.33,325.54 369.28,326.1 371.05,326.6 372.24,326.9 373.42,327.15 374.5,327.39 375.44,327.66 376.15,328 376.5,328.31 376.79,328.71 377.05,329.13 377.29,329.55 377.55,329.9 377.74,330.16 377.91,330.42 378.09,330.66 378.29,330.83 378.55,330.9 380.24,330.9 383.05,330.9 386.52,330.9 390.15,330.9 393.45,330.9" fill="none" stroke="#1b8dcc" stroke-width="1.6" stroke-linejoin="round"/>
<polyline points="307.45,330.9 313.83,330.9 320.9,330.9 327.62,330.9 332.98,330.9 335.95,330.9 336.43,330.64 336.8,329.96 337.11,329.01 337.41,327.94 337.75,326.9 338.32,324.91 338.88,322.34 339.48,319.77 340.15,317.79 340.95,317 341.82,317.44 342.87,318.53 344.08,319.94 345.38,321.31 346.75,322.3 348.48,323.04 350.42,323.69 352.5,324.25 354.63,324.75 356.75,325.2 359.03,325.62 361.42,325.98 363.81,326.32 366.12,326.65 368.25,327 369.86,327.28 371.45,327.55 372.95,327.83 374.27,328.14 375.35,328.5 375.88,328.79 376.35,329.16 376.78,329.54 377.17,329.9 377.55,330.2 377.79,330.38 378,330.57 378.21,330.74 378.45,330.86 378.75,330.9 380.52,330.9 383.32,330.9 386.7,330.9 390.22,330.9 393.45,330.9" fill="none" stroke="#e67a35" stroke-width="1.6" stroke-linejoin="round"/>
<rect x="307.25" y="335" width="86.3" height="11.2" fill="#e3e3e3" stroke="none" stroke-width="1"/>
<text x="350.75" y="345" font-size="12.8" text-anchor="middle" fill="#1a1a1a">Integration</text>
<line x1="307.45" y1="348.2" x2="393.45" y2="348.2" stroke="#000" stroke-width="1.4"/>
<use href="#sac" x="349.75" y="376.4"/>
<rect x="307.25" y="400.2" width="86.3" height="11.4" fill="#e3e3e3" stroke="none" stroke-width="1"/>
<text x="350.75" y="411.1" font-size="12.8" text-anchor="middle" fill="#1a1a1a">Fitness</text>
<line x1="307.45" y1="414" x2="393.45" y2="414" stroke="#000" stroke-width="1.4"/>
<polyline points="307.45,451.7 312.52,451.7 317.96,451.7 323.21,451.7 327.72,451.7 330.95,451.7 331.76,451.69 332.43,451.66 333.03,451.62 333.62,451.56 334.25,451.5 335.02,451.39 335.83,451.2 336.64,450.94 337.39,450.64 338.05,450.3 338.69,449.78 339.28,449.05 339.83,448.19 340.32,447.28 340.75,446.4 341.14,445.55 341.49,444.69 341.82,443.79 342.1,442.81 342.35,441.7 342.69,439.26 342.96,436.24 343.2,432.96 343.48,429.74 343.85,426.9 344.26,424.69 344.77,422.32 345.37,420.17 346.04,418.6 346.75,418 347.45,418.45 348.23,419.62 349.1,421.19 350.04,422.89 351.05,424.4 352.49,426.17 354.12,428.04 355.9,429.9 357.76,431.63 359.65,433.1 361.56,434.26 363.6,435.28 365.69,436.22 367.74,437.14 369.65,438.1 371.21,438.96 372.73,439.82 374.2,440.67 375.58,441.53 376.85,442.4 377.8,443.1 378.68,443.79 379.52,444.49 380.33,445.22 381.15,446 382.05,447.02 382.95,448.2 383.83,449.38 384.67,450.37 385.45,451 385.82,451.21 386.15,451.4 386.48,451.55 386.83,451.66 387.25,451.7 388.22,451.7 389.43,451.7 390.77,451.7 392.14,451.7 393.45,451.7" fill="none" stroke="#000" stroke-width="1.6" stroke-linejoin="round"/>
<polyline points="307.45,451.7 311.11,451.7 315.06,451.7 318.86,451.7 322.07,451.7 324.25,451.7 325.03,451.38 325.65,450.54 326.19,449.38 326.7,448.1 327.25,446.9 328.02,445.47 328.82,443.94 329.59,442.31 330.32,440.59 330.95,438.8 331.57,436.33 332.08,433.54 332.56,430.69 333.09,428.06 333.75,425.9 334.33,424.58 335.02,423.24 335.78,422.06 336.57,421.22 337.35,420.9 337.91,420.99 338.49,421.24 339.08,421.59 339.67,422 340.25,422.4 340.94,422.94 341.59,423.58 342.26,424.31 342.99,425.09 343.85,425.9 345.84,427.58 348.35,429.56 351.14,431.62 354.02,433.57 356.75,435.2 359.16,436.34 361.69,437.32 364.17,438.23 366.41,439.17 368.25,440.2 369.29,441 370.21,441.84 371.05,442.71 371.82,443.6 372.55,444.5 373.16,445.36 373.72,446.26 374.24,447.17 374.77,448.03 375.35,448.8 375.9,449.47 376.48,450.16 377.07,450.78 377.67,451.26 378.25,451.5 378.63,451.57 378.99,451.62 379.35,451.66 379.76,451.69 380.25,451.7 382.09,451.7 384.63,451.7 387.57,451.7 390.61,451.7 393.45,451.7" fill="none" stroke="#9a9a9a" stroke-width="1.5" stroke-linejoin="round"/>
<text x="367.45" y="428.6" font-size="12.8" font-weight="bold" fill="#1a1a1a">3%</text>
<rect x="228.15" y="302.1" width="100.6" height="164.8" fill="#fff" stroke="#111" stroke-width="1.7"/>
<rect x="229.95" y="303.9" width="97" height="161.2" fill="#eeeeee" stroke="none" stroke-width="1"/>
<line x1="300.25" y1="304.1" x2="300.25" y2="464.9" stroke="#dadada" stroke-width="0.8"/>
<rect x="235.15" y="306.4" width="86.3" height="12.3" fill="#e3e3e3" stroke="none" stroke-width="1"/>
<text x="278.65" y="317.7" font-size="12.8" text-anchor="middle" fill="#1a1a1a">Inputs</text>
<line x1="235.35" y1="320.9" x2="321.35" y2="320.9" stroke="#000" stroke-width="1.4"/>
<polyline points="235.35,337.3 239.48,337.3 243.88,337.3 248.15,337.3 251.87,337.3 254.65,337.3 255.5,337.26 256.23,337.16 256.88,337.01 257.5,336.82 258.15,336.6 259.06,336.06 259.95,335.15 260.83,334.04 261.72,332.87 262.65,331.8 263.65,330.62 264.65,329.27 265.68,328.01 266.77,327.07 267.95,326.7 269.43,327.01 271.05,327.8 272.77,328.84 274.52,329.91 276.25,330.8 277.92,331.52 279.6,332.24 281.29,332.91 283.03,333.51 284.85,334 287.02,334.46 289.3,334.86 291.64,335.21 294.01,335.53 296.35,335.8 298.69,336.05 301.02,336.28 303.37,336.48 305.74,336.65 308.15,336.8 310.74,336.92 313.37,337.03 316.03,337.12 318.7,337.21 321.35,337.3" fill="none" stroke="#1b8dcc" stroke-width="1.6" stroke-linejoin="round"/>
<polyline points="235.35,337.3 239.37,337.3 243.66,337.3 247.82,337.3 251.44,337.3 254.15,337.3 254.98,337.26 255.68,337.16 256.3,337.01 256.91,336.82 257.55,336.6 258.47,336.06 259.37,335.15 260.28,334.04 261.2,332.87 262.15,331.8 263.21,330.58 264.29,329.18 265.39,327.86 266.52,326.88 267.65,326.5 268.74,326.83 269.83,327.66 270.94,328.76 272.11,329.89 273.35,330.8 274.9,331.65 276.57,332.48 278.32,333.25 280.13,333.91 281.95,334.4 283.87,334.77 285.82,335.09 287.83,335.35 289.9,335.58 292.05,335.8 294.74,336.04 297.57,336.27 300.48,336.47 303.43,336.65 306.35,336.8 309.33,336.92 312.32,337.02 315.33,337.12 318.34,337.21 321.35,337.3" fill="none" stroke="#e67a35" stroke-width="1.6" stroke-linejoin="round"/>
<rect x="235.15" y="342.2" width="86.3" height="11.2" fill="#e3e3e3" stroke="none" stroke-width="1"/>
<text x="278.65" y="352.2" font-size="12.8" text-anchor="middle" fill="#1a1a1a">Integration</text>
<line x1="235.35" y1="355.4" x2="321.35" y2="355.4" stroke="#000" stroke-width="1.4"/>
<use href="#sac" x="277.65" y="383.6"/>
<rect x="235.15" y="407.4" width="86.3" height="11.4" fill="#e3e3e3" stroke="none" stroke-width="1"/>
<text x="278.65" y="418.3" font-size="12.8" text-anchor="middle" fill="#1a1a1a">Fitness</text>
<line x1="235.35" y1="421.2" x2="321.35" y2="421.2" stroke="#000" stroke-width="1.4"/>
<polyline points="235.35,459.1 239.4,459.1 243.73,459.1 247.92,459.1 251.53,459.1 254.15,459.1 255,458.93 255.7,458.5 256.33,457.9 256.92,457.23 257.55,456.6 258.29,455.91 259.03,455.15 259.75,454.34 260.46,453.49 261.15,452.6 261.91,451.54 262.64,450.42 263.36,449.23 264.06,447.96 264.75,446.6 265.63,444.52 266.46,442.14 267.29,439.65 268.14,437.24 269.05,435.1 269.85,433.37 270.71,431.53 271.59,429.87 272.47,428.66 273.35,428.2 273.91,428.32 274.49,428.64 275.06,429.08 275.62,429.59 276.15,430.1 276.77,430.77 277.34,431.57 277.91,432.46 278.5,433.41 279.15,434.4 280.15,435.94 281.24,437.68 282.39,439.51 283.59,441.32 284.85,443 286.17,444.57 287.58,446.11 289.04,447.59 290.54,448.97 292.05,450.2 293.41,451.2 294.8,452.13 296.21,453 297.65,453.79 299.15,454.5 300.76,455.2 302.4,455.86 304.1,456.47 305.88,456.99 307.75,457.4 310.24,457.78 312.94,458.09 315.74,458.36 318.57,458.62 321.35,458.9" fill="none" stroke="#000" stroke-width="1.6" stroke-linejoin="round"/>
<polyline points="235.35,459.1 239.04,459.1 243.05,459.1 246.91,459.1 250.1,459.1 252.15,459.1 252.83,458.77 253.4,457.92 253.87,456.73 254.28,455.39 254.65,454.1 255.12,452.21 255.53,450.03 255.9,447.7 256.26,445.34 256.65,443.1 257.01,440.96 257.35,438.74 257.7,436.59 258.12,434.66 258.65,433.1 259.22,432.1 260,431.1 260.89,430.24 261.8,429.63 262.65,429.4 263.26,429.48 263.88,429.68 264.48,429.98 265.08,430.33 265.65,430.7 266.34,431.3 266.98,432.09 267.61,433.02 268.29,434.04 269.05,435.1 270.47,437 272.1,439.24 273.87,441.61 275.74,443.9 277.65,445.9 279.51,447.58 281.47,449.19 283.5,450.69 285.6,452.01 287.75,453.1 289.92,453.98 292.18,454.76 294.5,455.45 296.83,456.06 299.15,456.6 301.44,457.11 303.75,457.59 306.06,458.02 308.37,458.37 310.65,458.6 312.81,458.74 314.95,458.84 317.08,458.93 319.21,459.01 321.35,459.1" fill="none" stroke="#9a9a9a" stroke-width="1.5" stroke-linejoin="round"/>
<text x="296.45" y="436.1" font-size="12.8" fill="#1a1a1a">1%</text>
<rect x="156.05" y="309.3" width="100.6" height="164.8" fill="#fff" stroke="#111" stroke-width="1.7"/>
<rect x="157.85" y="311.1" width="97" height="161.2" fill="#eeeeee" stroke="none" stroke-width="1"/>
<line x1="228.15" y1="311.3" x2="228.15" y2="472.1" stroke="#dadada" stroke-width="0.8"/>
<rect x="163.05" y="313.6" width="86.3" height="12.3" fill="#e3e3e3" stroke="none" stroke-width="1"/>
<text x="206.55" y="324.9" font-size="12.8" text-anchor="middle" fill="#1a1a1a">Inputs</text>
<line x1="163.25" y1="328.1" x2="249.25" y2="328.1" stroke="#000" stroke-width="1.4"/>
<polyline points="163.25,344.6 165.92,344.6 168.71,344.6 171.44,344.6 173.95,344.6 176.05,344.6 177.22,344.41 178.26,343.9 179.21,343.18 180.13,342.38 181.05,341.6 182.05,340.67 182.99,339.58 183.92,338.43 184.89,337.3 185.95,336.3 187.23,335.25 188.62,334.13 190.09,333.12 191.55,332.38 192.95,332.1 194.09,332.24 195.2,332.61 196.3,333.12 197.41,333.68 198.55,334.2 199.81,334.76 201.09,335.37 202.39,336 203.7,336.59 205.05,337.1 206.45,337.54 207.85,337.94 209.29,338.31 210.81,338.66 212.45,339 214.93,339.45 217.67,339.87 220.56,340.28 223.49,340.69 226.35,341.1 229.21,341.53 232.12,341.97 235.01,342.41 237.78,342.82 240.35,343.2 242.34,343.47 244.39,343.73 246.29,343.98 247.81,344.2 248.75,344.4 248.88,344.44 248.98,344.48 249.07,344.52 249.16,344.56 249.25,344.6" fill="none" stroke="#e67a35" stroke-width="1.6" stroke-linejoin="round"/>
<polyline points="163.25,344.6 170.41,344.6 178.46,344.6 186.06,344.6 191.9,344.6 194.65,344.6 194.93,344.17 195.13,343.07 195.29,341.59 195.45,340 195.65,338.6 195.89,337.11 196.14,335.39 196.42,333.77 196.75,332.57 197.15,332.1 197.71,332.5 198.46,333.48 199.35,334.76 200.31,336.03 201.25,337 202.12,337.63 203.05,338.22 204.01,338.74 205.01,339.2 206.05,339.6 207.21,339.96 208.41,340.27 209.66,340.55 211,340.82 212.45,341.1 214.94,341.54 217.84,341.99 220.87,342.43 223.79,342.84 226.35,343.2 227.89,343.44 229.29,343.67 230.63,343.88 231.96,344.06 233.35,344.2 234.86,344.32 236.39,344.42 237.93,344.51 239.49,344.58 241.05,344.6 242.67,344.6 244.31,344.6 245.96,344.6 247.61,344.6 249.25,344.6" fill="none" stroke="#1b8dcc" stroke-width="1.6" stroke-linejoin="round"/>
<rect x="163.05" y="349.4" width="86.3" height="11.2" fill="#e3e3e3" stroke="none" stroke-width="1"/>
<text x="206.55" y="359.4" font-size="12.8" text-anchor="middle" fill="#1a1a1a">Integration</text>
<line x1="163.25" y1="362.6" x2="249.25" y2="362.6" stroke="#000" stroke-width="1.4"/>
<use href="#sac" x="205.55" y="390.8"/>
<rect x="163.05" y="414.6" width="86.3" height="11.4" fill="#e3e3e3" stroke="none" stroke-width="1"/>
<text x="206.55" y="425.5" font-size="12.8" text-anchor="middle" fill="#1a1a1a">Fitness</text>
<line x1="163.25" y1="428.4" x2="249.25" y2="428.4" stroke="#000" stroke-width="1.4"/>
<polyline points="163.25,464.9 166.88,464.9 170.79,464.9 174.56,464.9 177.78,464.9 180.05,464.9 180.67,464.8 181.18,464.53 181.63,464.15 182.07,463.72 182.55,463.3 183.22,462.74 183.91,462.11 184.6,461.4 185.29,460.6 185.95,459.7 187,457.78 188.01,455.33 189.01,452.59 190.01,449.83 191.05,447.3 192.02,445.11 192.99,442.88 193.99,440.75 195,438.84 196.05,437.3 196.78,436.38 197.54,435.47 198.31,434.67 199.09,434.11 199.85,433.9 200.47,434.02 201.07,434.33 201.67,434.77 202.32,435.28 203.05,435.8 204.61,436.87 206.45,438.24 208.44,439.78 210.48,441.37 212.45,442.9 214.39,444.5 216.32,446.2 218.26,447.87 220.23,449.39 222.25,450.6 224.15,451.43 226.12,452.13 228.1,452.75 230.06,453.39 231.95,454.1 233.68,454.87 235.36,455.68 237.02,456.53 238.67,457.41 240.35,458.3 242.12,459.26 243.9,460.25 245.68,461.27 247.47,462.29 249.25,463.3" fill="none" stroke="#000" stroke-width="1.6" stroke-linejoin="round"/>
<polyline points="163.25,464.9 165.35,464.9 167.6,464.9 169.78,464.9 171.66,464.9 173.05,464.9 173.82,464.53 174.45,463.58 174.99,462.25 175.51,460.75 176.05,459.3 176.86,457.04 177.64,454.39 178.41,451.57 179.21,448.79 180.05,446.3 180.79,444.3 181.55,442.22 182.34,440.3 183.17,438.75 184.05,437.8 184.59,437.47 185.15,437.17 185.74,436.92 186.37,436.76 187.05,436.7 188.1,436.7 189.28,436.7 190.53,436.7 191.78,436.7 192.95,436.7 193.99,436.84 194.99,437.19 195.98,437.69 196.99,438.26 198.05,438.8 199.42,439.48 200.82,440.25 202.27,441.08 203.81,441.97 205.45,442.9 207.98,444.32 210.78,445.92 213.72,447.58 216.66,449.18 219.45,450.6 221.75,451.66 224.01,452.63 226.23,453.55 228.41,454.49 230.55,455.5 232.57,456.58 234.54,457.74 236.49,458.92 238.42,460.06 240.35,461.1 242.14,461.97 243.92,462.77 245.7,463.55 247.47,464.32 249.25,465.1" fill="none" stroke="#9a9a9a" stroke-width="1.5" stroke-linejoin="round"/>
<text x="223.35" y="443.7" font-size="12.8" font-weight="bold" fill="#1a1a1a">3%</text>
<rect x="83.95" y="316.5" width="100.6" height="164.8" fill="#fff" stroke="#111" stroke-width="1.7"/>
<rect x="85.75" y="318.3" width="97" height="161.2" fill="#eeeeee" stroke="none" stroke-width="1"/>
<line x1="156.05" y1="318.5" x2="156.05" y2="479.3" stroke="#dadada" stroke-width="0.8"/>
<rect x="90.95" y="320.8" width="86.3" height="12.3" fill="#e3e3e3" stroke="none" stroke-width="1"/>
<text x="134.45" y="332.1" font-size="12.8" text-anchor="middle" fill="#1a1a1a">Inputs</text>
<line x1="91.15" y1="335.3" x2="177.15" y2="335.3" stroke="#000" stroke-width="1.4"/>
<polyline points="91.15,352.3 96.62,352.3 102.59,352.3 108.32,352.3 113.02,352.3 115.95,352.3 116.61,352.06 117.13,351.45 117.57,350.61 118,349.68 118.45,348.8 119.04,347.64 119.6,346.3 120.17,344.93 120.78,343.71 121.45,342.8 122.03,342.27 122.68,341.75 123.36,341.32 124.03,341.01 124.65,340.9 125.24,341.1 125.8,341.6 126.35,342.31 126.89,343.08 127.45,343.8 128.11,344.7 128.75,345.73 129.4,346.77 130.12,347.71 130.95,348.4 132.1,348.97 133.47,349.46 134.98,349.87 136.53,350.22 138.05,350.5 139.59,350.74 141.17,350.94 142.76,351.11 144.36,351.27 145.95,351.4 147.56,351.52 149.2,351.62 150.83,351.72 152.42,351.81 153.95,351.9 155.16,351.99 156.28,352.1 157.39,352.2 158.59,352.27 159.95,352.3 162.79,352.3 166.15,352.3 169.82,352.3 173.56,352.3 177.15,352.3" fill="none" stroke="#1b8dcc" stroke-width="1.6" stroke-linejoin="round"/>
<polyline points="91.15,352.3 96.12,352.3 101.5,352.3 106.68,352.3 111.03,352.3 113.95,352.3 114.72,352.11 115.35,351.6 115.9,350.89 116.41,350.08 116.95,349.3 117.67,348.15 118.34,346.77 119.02,345.31 119.71,343.93 120.45,342.8 121.08,342.01 121.75,341.21 122.44,340.5 123.15,339.99 123.85,339.8 124.45,339.88 125.04,340.09 125.65,340.4 126.28,340.75 126.95,341.1 127.98,341.7 129.08,342.48 130.24,343.32 131.46,344.13 132.75,344.8 134.37,345.44 136.12,346.02 137.96,346.56 139.82,347.05 141.65,347.5 143.42,347.91 145.2,348.28 146.98,348.62 148.77,348.96 150.55,349.3 152.36,349.65 154.22,350 156.05,350.35 157.81,350.68 159.45,351 160.6,351.26 161.64,351.54 162.66,351.79 163.74,351.99 164.95,352.1 167.06,352.16 169.46,352.21 172.02,352.24 174.63,352.27 177.15,352.3" fill="none" stroke="#e67a35" stroke-width="1.6" stroke-linejoin="round"/>
<rect x="90.95" y="356.6" width="86.3" height="11.2" fill="#e3e3e3" stroke="none" stroke-width="1"/>
<text x="134.45" y="366.6" font-size="12.8" text-anchor="middle" fill="#1a1a1a">Integration</text>
<line x1="91.15" y1="369.8" x2="177.15" y2="369.8" stroke="#000" stroke-width="1.4"/>
<use href="#sac" x="133.45" y="398"/>
<rect x="90.95" y="421.8" width="86.3" height="11.4" fill="#e3e3e3" stroke="none" stroke-width="1"/>
<text x="134.45" y="432.7" font-size="12.8" text-anchor="middle" fill="#1a1a1a">Fitness</text>
<line x1="91.15" y1="435.6" x2="177.15" y2="435.6" stroke="#000" stroke-width="1.4"/>
<polyline points="91.15,473.1 95.86,473.1 100.93,473.1 105.82,473.1 110,473.1 112.95,473.1 113.7,473.04 114.33,472.87 114.89,472.63 115.41,472.33 115.95,472 116.81,471.21 117.65,469.99 118.47,468.52 119.24,466.96 119.95,465.5 120.62,464.14 121.25,462.77 121.85,461.37 122.41,459.89 122.95,458.3 123.57,455.84 124.11,452.99 124.64,450.09 125.23,447.48 125.95,445.5 126.54,444.51 127.25,443.54 128.03,442.7 128.81,442.12 129.55,441.9 130.14,442.07 130.72,442.52 131.29,443.14 131.87,443.83 132.45,444.5 133.17,445.34 133.87,446.28 134.59,447.29 135.37,448.34 136.25,449.4 137.72,450.96 139.44,452.63 141.31,454.33 143.25,455.95 145.15,457.4 146.92,458.6 148.74,459.71 150.58,460.76 152.4,461.75 154.15,462.7 155.64,463.47 157.1,464.18 158.54,464.87 159.93,465.57 161.25,466.3 162.39,467 163.51,467.72 164.58,468.45 165.6,469.18 166.55,469.9 167.3,470.55 168.02,471.27 168.71,471.94 169.35,472.49 169.95,472.8 170.26,472.89 170.54,472.97 170.81,473.04 171.1,473.08 171.45,473.1 172.34,473.1 173.44,473.1 174.68,473.1 175.95,473.1 177.15,473.1" fill="none" stroke="#000" stroke-width="1.6" stroke-linejoin="round"/>
<polyline points="91.15,473.1 94.37,473.1 97.85,473.1 101.2,473.1 104.03,473.1 105.95,473.1 106.41,473.04 106.78,472.87 107.11,472.62 107.43,472.32 107.75,472 108.5,470.82 109.23,468.94 109.94,466.63 110.64,464.16 111.35,461.8 112.15,458.97 112.9,455.85 113.67,452.71 114.51,449.84 115.45,447.5 116.2,446.09 117.05,444.66 117.97,443.42 118.91,442.54 119.85,442.2 120.65,442.38 121.46,442.85 122.29,443.51 123.12,444.26 123.95,445 124.95,446 125.91,447.18 126.88,448.48 127.94,449.8 129.15,451.1 131.18,452.9 133.58,454.77 136.21,456.63 138.95,458.43 141.65,460.1 144.52,461.64 147.6,463.09 150.67,464.48 153.5,465.84 155.85,467.2 157.14,468.14 158.32,469.11 159.39,470.05 160.36,470.9 161.25,471.6 161.72,472 162.11,472.4 162.49,472.75 162.92,473 163.45,473.1 165.32,473.1 167.95,473.1 171.02,473.1 174.19,473.1 177.15,473.1" fill="none" stroke="#9a9a9a" stroke-width="1.5" stroke-linejoin="round"/>
<text x="147.55" y="451.1" font-size="12.8" fill="#1a1a1a">&lt;1%</text>
<path d="M422.3,323.2 Q446,325 450.8,345.5" fill="none" stroke="#000" stroke-width="1.4"/>
<polygon points="447.3,344.4 451.4,352.4 454.4,343.4" fill="#000" stroke="none" stroke-width="1"/>
<text x="451.5" y="367.6" font-size="12.8" text-anchor="middle" fill="#1a1a1a">Selection</text>
<text x="451.4" y="382.3" font-size="12.8" text-anchor="middle" fill="#1a1a1a">Crossover</text>
<text x="451.4" y="396.6" font-size="12.8" text-anchor="middle" fill="#1a1a1a">Mutation</text>
<path d="M451.4,403.6 Q450,423 429.5,429.8" fill="none" stroke="#000" stroke-width="1.4"/>
<polygon points="430.8,426.2 422.9,431.3 431.6,433.4" fill="#000" stroke="none" stroke-width="1"/>
<line x1="451" y1="412.3" x2="451" y2="467.5" stroke="#000" stroke-width="1.6" stroke-dasharray="1.6,2.4"/>
<text x="451.2" y="479.1" font-size="12.8" text-anchor="middle" fill="#1a1a1a">Solution</text>
<line x1="450.8" y1="487.4" x2="450.8" y2="497" stroke="#000" stroke-width="1.6" stroke-dasharray="1.6,2.4"/>
<polygon points="447.3,496.2 454.3,496.2 450.8,503.7" fill="#000" stroke="none" stroke-width="1"/>
<rect x="76.6" y="535.2" width="77.8" height="14.2" fill="#e2e2e2" stroke="none" stroke-width="1"/>
<text x="115.8" y="546.7" font-size="12.8" text-anchor="middle" fill="#1a1a1a">0.25</text>
<rect x="162.7" y="535.2" width="77.8" height="14.2" fill="#e2e2e2" stroke="none" stroke-width="1"/>
<text x="201.9" y="546.7" font-size="12.8" text-anchor="middle" fill="#1a1a1a">0.5</text>
<rect x="249.2" y="535.2" width="77.8" height="14.2" fill="#e2e2e2" stroke="none" stroke-width="1"/>
<text x="288.4" y="546.7" font-size="12.8" text-anchor="middle" fill="#1a1a1a">1</text>
<rect x="335.9" y="535.2" width="77.8" height="14.2" fill="#e2e2e2" stroke="none" stroke-width="1"/>
<text x="375.1" y="546.7" font-size="12.8" text-anchor="middle" fill="#1a1a1a">2</text>
<rect x="422.5" y="535.2" width="77.8" height="14.2" fill="#e2e2e2" stroke="none" stroke-width="1"/>
<text x="461.7" y="546.7" font-size="12.8" text-anchor="middle" fill="#1a1a1a">4</text>
<text x="0" y="0" font-size="12.9" text-anchor="middle" fill="#1a1a1a" transform="translate(60.7,590.5) rotate(-90)">BC profile</text>
<text x="0" y="0" font-size="12.9" text-anchor="middle" fill="#1a1a1a" transform="translate(59.6,676.7) rotate(-90)">SAC Vm</text>
<text x="0" y="0" font-size="12.9" text-anchor="middle" fill="#1a1a1a" transform="translate(52.9,820) rotate(-90)">SAC</text>
<text x="0" y="0" font-size="12.9" text-anchor="middle" fill="#1a1a1a" transform="translate(64.9,819.5) rotate(-90)">calcium</text>
<polyline points="73.3,560.9 76.5,560.9 76.5,618.6 73.3,618.6" fill="none" stroke="#000" stroke-width="1.3" stroke-linejoin="round" stroke-linejoin="miter"/>
<text x="67.8" y="565.6" font-size="12.8" text-anchor="middle" fill="#1d3557">1</text>
<text x="67.9" y="622.9" font-size="12.8" text-anchor="middle" fill="#1a1a1a">0</text>
<polyline points="77,618.9 77.19,618.9 77.38,618.9 77.57,618.9 77.75,618.9 77.94,618.9 78.13,618.9 78.32,618.9 78.51,618.9 78.7,618.9 78.89,618.9 79.07,618.9 79.26,618.9 79.45,618.9 79.64,618.9 79.83,618.9 80.02,618.9 80.2,618.9 80.39,618.9 80.58,618.9 80.77,618.9 80.96,618.9 81.15,618.9 81.34,618.9 81.52,618.9 81.71,618.9 81.9,618.9 82.09,618.9 82.28,618.9 82.47,618.9 82.66,618.9 82.84,618.9 83.03,618.9 83.22,618.9 83.41,618.9 83.6,618.9 83.79,618.9 83.97,618.9 84.16,618.9 84.35,618.9 84.54,618.9 84.73,618.9 84.92,618.9 85.11,618.9 85.29,618.9 85.48,618.9 85.67,618.9 85.86,618.9 86.05,618.9 86.24,618.9 86.42,618.9 86.61,618.9 86.8,618.9 86.99,618.9 87.18,618.9 87.37,618.9 87.56,618.9 87.74,618.9 87.93,618.9 88.12,618.9 88.31,618.9 88.5,618.9 88.69,618.9 88.88,618.9 89.06,618.9 89.25,618.9 89.44,618.9 89.63,618.9 89.82,618.9 90.01,618.9 90.19,618.9 90.38,618.9 90.57,618.9 90.76,618.9 90.95,618.9 91.14,618.9 91.33,618.9 91.51,618.9 91.7,618.9 91.89,618.9 92.08,618.9 92.27,618.9 92.46,618.9 92.65,618.9 92.83,618.9 93.02,618.9 93.21,618.9 93.4,618.9 93.59,618.9 93.78,618.9 93.97,618.9 94.15,618.9 94.34,618.9 94.53,618.9 94.72,618.9 94.91,618.9 95.1,618.9 95.28,618.9 95.47,618.9 95.66,618.9 95.85,618.9 96.04,618.9 96.23,618.9 96.42,618.9 96.6,618.9 96.79,618.9 96.98,618.9 97.17,618.9 97.36,618.9 97.55,618.9 97.73,618.9 97.92,618.9 98.11,618.9 98.3,618.9 98.49,618.9 98.68,618.9 98.87,618.9 99.05,618.9 99.24,618.9 99.43,618.9 99.62,618.9 99.81,618.9 100,618.9 100.19,618.9 100.37,618.9 100.56,618.9 100.75,618.9 100.94,618.9 101.13,618.9 101.32,618.9 101.5,618.9 101.69,618.9 101.88,618.9 102.07,618.9 102.26,618.9 102.45,618.9 102.64,618.9 102.82,618.9 103.01,618.9 103.2,618.9 103.39,618.9 103.58,618.9 103.77,618.9 103.96,618.9 104.14,618.9 104.33,618.9 104.52,618.9 104.71,618.9 104.9,618.9 105.09,618.9 105.28,618.9 105.46,618.9 105.65,618.9 105.84,618.9 106.03,618.9 106.22,618.9 106.41,618.9 106.59,618.9 106.78,618.9 106.97,618.9 107.16,618.9 107.35,618.9 107.54,618.9 107.73,618.9 107.91,618.9 108.1,618.9 108.29,618.9 108.48,618.9 108.67,618.9 108.86,618.9 109.05,618.9 109.23,618.9 109.42,618.9 109.61,618.9 109.8,618.9 109.99,618.9 110.18,618.9 110.36,618.9 110.55,618.9 110.74,618.9 110.93,618.9 111.12,618.9 111.31,618.9 111.5,618.9 111.68,618.9 111.87,618.9 112.06,618.9 112.25,618.9 112.44,618.9 112.63,618.9 112.81,618.9 113,618.9 113.19,618.9 113.38,618.9 113.57,618.9 113.76,618.9 113.95,618.9 114.13,618.9 114.32,618.88 114.51,618.11 114.7,616.72 114.89,614.86 115.08,612.6 115.27,609.98 115.45,607.04 115.64,603.79 115.83,600.26 116.02,596.45 116.21,592.38 116.4,588.07 116.59,583.52 116.77,578.73 116.96,573.72 117.15,568.5 117.34,564.52 117.53,566.03 117.72,567.5 117.9,568.91 118.09,570.27 118.28,571.59 118.47,572.87 118.66,574.1 118.85,575.29 119.04,576.44 119.22,577.55 119.41,578.62 119.6,579.66 119.79,580.66 119.98,581.63 120.17,582.57 120.35,583.48 120.54,584.35 120.73,585.2 120.92,586.02 121.11,586.81 121.3,587.58 121.49,588.33 121.67,589.05 121.86,589.74 122.05,590.42 122.24,591.07 122.43,591.7 122.62,592.31 122.81,592.9 122.99,593.48 123.18,594.03 123.37,594.57 123.56,595.09 123.75,595.6 123.94,596.09 124.12,596.57 124.31,597.03 124.5,597.47 124.69,597.91 124.88,598.33 125.07,598.74 125.26,599.13 125.44,599.52 125.63,599.89 125.82,600.25 126.01,600.6 126.2,600.94 126.39,601.28 126.58,601.6 126.76,601.91 126.95,602.22 127.14,602.51 127.33,602.8 127.52,603.08 127.71,603.35 127.9,603.62 128.08,603.87 128.27,604.13 128.46,604.37 128.65,604.61 128.84,604.84 129.03,605.06 129.21,605.28 129.4,605.5 129.59,605.71 129.78,605.91 129.97,606.11 130.16,606.3 130.35,606.49 130.53,606.67 130.72,606.85 130.91,607.03 131.1,607.2 131.29,607.36 131.48,607.53 131.66,607.69 131.85,607.84 132.04,607.99 132.23,608.14 132.42,608.29 132.61,608.43 132.8,608.57 132.98,608.7 133.17,608.84 133.36,608.97 133.55,609.09 133.74,609.22 133.93,609.34 134.12,609.46 134.3,609.58 134.49,609.69 134.68,609.81 134.87,609.92 135.06,610.02 135.25,610.13 135.44,610.23 135.62,610.34 135.81,610.44 136,610.54 136.19,610.63 136.38,610.73 136.57,610.82 136.75,610.91 136.94,611 137.13,611.09 137.32,611.18 137.51,611.26 137.7,611.34 137.89,611.43 138.07,611.51 138.26,611.59 138.45,611.67 138.64,611.74 138.83,611.82 139.02,611.89 139.21,611.97 139.39,612.04 139.58,612.11 139.77,612.18 139.96,612.25 140.15,612.32 140.34,612.39 140.52,612.45 140.71,612.52 140.9,612.58 141.09,612.64 141.28,612.71 141.47,612.77 141.66,612.83 141.84,612.89 142.03,612.95 142.22,613.01 142.41,613.06 142.6,613.12 142.79,613.18 142.98,613.23 143.16,613.29 143.35,613.34 143.54,613.39 143.73,613.45 143.92,613.5 144.11,613.55 144.29,613.6 144.48,613.65 144.67,613.7 144.86,613.75 145.05,613.8 145.24,613.84 145.43,613.89 145.61,613.94 145.8,613.98 145.99,614.03 146.18,614.07 146.37,614.12 146.56,614.16 146.75,614.21 146.93,614.25 147.12,614.29 147.31,614.33 147.5,614.38 147.69,614.42 147.88,614.46 148.06,614.5 148.25,614.54 148.44,614.58 148.63,614.62 148.82,614.65 149.01,614.69 149.2,614.73 149.38,614.77 149.57,614.8 149.76,615.39 149.95,616.05 150.14,616.7 150.33,617.34 150.52,617.97 150.7,618.59 150.89,618.9 151.08,618.9 151.27,618.9 151.46,618.9 151.65,618.9 151.83,618.9 152.02,618.9 152.21,618.9 152.4,618.9" fill="none" stroke="#1b8dcc" stroke-width="1.6" stroke-linejoin="round"/>
<polyline points="77,618.9 77.19,618.9 77.38,618.9 77.57,618.9 77.75,618.9 77.94,618.9 78.13,618.9 78.32,618.9 78.51,618.9 78.7,618.9 78.89,618.9 79.07,618.9 79.26,618.9 79.45,618.9 79.64,618.9 79.83,618.9 80.02,618.9 80.2,618.9 80.39,618.9 80.58,618.9 80.77,618.9 80.96,618.9 81.15,618.9 81.34,618.9 81.52,618.9 81.71,618.9 81.9,618.9 82.09,618.9 82.28,618.9 82.47,618.9 82.66,618.9 82.84,618.9 83.03,618.9 83.22,618.9 83.41,618.9 83.6,618.9 83.79,618.9 83.97,618.9 84.16,618.9 84.35,618.9 84.54,618.9 84.73,618.9 84.92,618.9 85.11,618.9 85.29,618.9 85.48,618.9 85.67,618.9 85.86,618.9 86.05,618.9 86.24,618.9 86.42,618.9 86.61,618.9 86.8,618.9 86.99,618.9 87.18,618.9 87.37,618.9 87.56,618.9 87.74,618.9 87.93,618.9 88.12,618.9 88.31,618.9 88.5,618.9 88.69,618.9 88.88,618.9 89.06,618.9 89.25,618.9 89.44,618.9 89.63,618.9 89.82,618.9 90.01,618.9 90.19,618.9 90.38,618.9 90.57,618.9 90.76,618.9 90.95,618.9 91.14,618.9 91.33,618.9 91.51,618.9 91.7,618.9 91.89,618.9 92.08,618.9 92.27,618.9 92.46,618.9 92.65,618.9 92.83,618.9 93.02,618.9 93.21,618.9 93.4,618.9 93.59,618.9 93.78,618.9 93.97,618.9 94.15,618.9 94.34,618.9 94.53,618.9 94.72,618.9 94.91,618.9 95.1,618.9 95.28,618.9 95.47,618.9 95.66,618.9 95.85,618.9 96.04,618.9 96.23,618.9 96.42,618.9 96.6,618.9 96.79,618.9 96.98,618.9 97.17,618.9 97.36,618.9 97.55,618.9 97.73,618.9 97.92,618.9 98.11,618.9 98.3,618.9 98.49,618.9 98.68,618.9 98.87,618.9 99.05,618.9 99.24,618.9 99.43,618.9 99.62,618.9 99.81,618.9 100,618.9 100.19,618.9 100.37,618.9 100.56,618.9 100.75,618.9 100.94,618.9 101.13,618.9 101.32,618.9 101.5,618.9 101.69,618.9 101.88,618.9 102.07,618.9 102.26,618.9 102.45,618.9 102.64,618.9 102.82,618.9 103.01,618.9 103.2,618.9 103.39,618.9 103.58,618.9 103.77,618.9 103.96,618.9 104.14,618.9 104.33,618.9 104.52,618.9 104.71,618.9 104.9,618.9 105.09,618.9 105.28,618.9 105.46,618.9 105.65,618.9 105.84,618.9 106.03,618.9 106.22,618.9 106.41,618.9 106.59,618.9 106.78,618.9 106.97,618.9 107.16,618.9 107.35,618.9 107.54,618.9 107.73,618.9 107.91,618.9 108.1,618.9 108.29,618.9 108.48,618.9 108.67,618.9 108.86,618.9 109.05,618.9 109.23,618.9 109.42,618.9 109.61,618.9 109.8,618.9 109.99,618.9 110.18,618.9 110.36,618.9 110.55,618.9 110.74,618.9 110.93,618.9 111.12,618.9 111.31,618.9 111.5,618.9 111.68,618.9 111.87,618.9 112.06,618.9 112.25,618.9 112.44,618.9 112.63,618.9 112.81,618.9 113,618.9 113.19,618.9 113.38,618.9 113.57,618.9 113.76,618.9 113.95,618.9 114.13,618.9 114.32,618.9 114.51,618.9 114.7,618.9 114.89,614.89 115.08,609.69 115.27,603.91 115.45,597.73 115.64,591.23 115.83,584.46 116.02,578.68 116.21,583.04 116.4,586.92 116.59,590.38 116.77,593.45 116.96,596.18 117.15,598.61 117.34,600.77 117.53,602.69 117.72,604.41 117.9,605.93 118.09,607.29 118.28,608.5 118.47,609.57 118.66,610.53 118.85,611.38 119.04,612.14 119.22,612.82 119.41,613.42 119.6,613.96 119.79,614.44 119.98,614.87 120.17,615.25 120.35,615.6 120.54,615.9 120.73,616.17 120.92,616.42 121.11,616.63 121.3,616.83 121.49,617 121.67,617.16 121.86,617.3 122.05,617.43 122.24,617.54 122.43,617.64 122.62,617.73 122.81,617.82 122.99,617.89 123.18,617.96 123.37,618.02 123.56,618.08 123.75,618.13 123.94,618.17 124.12,618.21 124.31,618.25 124.5,618.28 124.69,618.32 124.88,618.34 125.07,618.37 125.26,618.39 125.44,618.42 125.63,618.44 125.82,618.46 126.01,618.47 126.2,618.49 126.39,618.51 126.58,618.52 126.76,618.53 126.95,618.55 127.14,618.56 127.33,618.57 127.52,618.58 127.71,618.59 127.9,618.6 128.08,618.61 128.27,618.62 128.46,618.63 128.65,618.63 128.84,618.64 129.03,618.65 129.21,618.66 129.4,618.66 129.59,618.67 129.78,618.67 129.97,618.68 130.16,618.69 130.35,618.69 130.53,618.7 130.72,618.7 130.91,618.71 131.1,618.71 131.29,618.72 131.48,618.72 131.66,618.73 131.85,618.73 132.04,618.73 132.23,618.74 132.42,618.74 132.61,618.75 132.8,618.75 132.98,618.75 133.17,618.76 133.36,618.76 133.55,618.76 133.74,618.77 133.93,618.77 134.12,618.77 134.3,618.78 134.49,618.78 134.68,618.78 134.87,618.78 135.06,618.79 135.25,618.79 135.44,618.79 135.62,618.79 135.81,618.8 136,618.8 136.19,618.8 136.38,618.8 136.57,618.81 136.75,618.81 136.94,618.81 137.13,618.81 137.32,618.81 137.51,618.82 137.7,618.82 137.89,618.82 138.07,618.82 138.26,618.82 138.45,618.83 138.64,618.83 138.83,618.83 139.02,618.83 139.21,618.83 139.39,618.83 139.58,618.84 139.77,618.84 139.96,618.84 140.15,618.84 140.34,618.84 140.52,618.84 140.71,618.84 140.9,618.85 141.09,618.85 141.28,618.85 141.47,618.85 141.66,618.85 141.84,618.85 142.03,618.85 142.22,618.85 142.41,618.86 142.6,618.86 142.79,618.86 142.98,618.86 143.16,618.86 143.35,618.86 143.54,618.86 143.73,618.86 143.92,618.86 144.11,618.86 144.29,618.86 144.48,618.87 144.67,618.87 144.86,618.87 145.05,618.87 145.24,618.87 145.43,618.87 145.61,618.87 145.8,618.87 145.99,618.87 146.18,618.87 146.37,618.87 146.56,618.87 146.75,618.87 146.93,618.87 147.12,618.88 147.31,618.88 147.5,618.88 147.69,618.88 147.88,618.88 148.06,618.88 148.25,618.88 148.44,618.88 148.63,618.88 148.82,618.88 149.01,618.88 149.2,618.88 149.38,618.88 149.57,618.88 149.76,618.88 149.95,618.88 150.14,618.88 150.33,618.88 150.52,618.88 150.7,618.88 150.89,618.88 151.08,618.88 151.27,618.89 151.46,618.89 151.65,618.89 151.83,618.89 152.02,618.89 152.21,618.89 152.4,618.89" fill="none" stroke="#e67a35" stroke-width="1.6" stroke-linejoin="round"/>
<polyline points="163.1,618.9 163.29,618.9 163.48,618.9 163.67,618.9 163.85,618.9 164.04,618.9 164.23,618.9 164.42,618.9 164.61,618.9 164.8,618.9 164.98,618.9 165.17,618.9 165.36,618.9 165.55,618.9 165.74,618.9 165.93,618.9 166.12,618.9 166.3,618.9 166.49,618.9 166.68,618.9 166.87,618.9 167.06,618.9 167.25,618.9 167.44,618.9 167.62,618.9 167.81,618.9 168,618.9 168.19,618.9 168.38,618.9 168.57,618.9 168.75,618.9 168.94,618.9 169.13,618.9 169.32,618.9 169.51,618.9 169.7,618.9 169.89,618.9 170.07,618.9 170.26,618.9 170.45,618.9 170.64,618.9 170.83,618.9 171.02,618.9 171.21,618.9 171.39,618.9 171.58,618.9 171.77,618.9 171.96,618.9 172.15,618.9 172.34,618.9 172.53,618.9 172.71,618.9 172.9,618.9 173.09,618.9 173.28,618.9 173.47,618.9 173.66,618.9 173.84,618.9 174.03,618.9 174.22,618.9 174.41,618.9 174.6,618.9 174.79,618.9 174.98,618.9 175.16,618.9 175.35,618.9 175.54,618.9 175.73,618.9 175.92,618.9 176.11,618.9 176.29,618.9 176.48,618.9 176.67,618.9 176.86,618.9 177.05,618.9 177.24,618.9 177.43,618.9 177.61,618.9 177.8,618.9 177.99,618.9 178.18,618.9 178.37,618.9 178.56,618.9 178.75,618.9 178.93,618.9 179.12,618.9 179.31,618.9 179.5,618.9 179.69,618.9 179.88,618.9 180.06,618.9 180.25,618.9 180.44,618.9 180.63,618.9 180.82,618.9 181.01,618.9 181.2,618.9 181.38,618.9 181.57,618.9 181.76,618.9 181.95,618.9 182.14,618.9 182.33,618.9 182.52,618.9 182.7,618.9 182.89,618.19 183.08,616.78 183.27,614.87 183.46,612.54 183.65,609.82 183.83,606.76 184.02,603.37 184.21,599.69 184.4,595.72 184.59,591.47 184.78,586.96 184.97,582.2 185.15,577.19 185.34,571.95 185.53,566.48 185.72,561.58 185.91,563.23 186.1,564.82 186.29,566.36 186.47,567.85 186.66,569.28 186.85,570.67 187.04,572 187.23,573.29 187.42,574.54 187.6,575.74 187.79,576.91 187.98,578.03 188.17,579.12 188.36,580.16 188.55,581.18 188.74,582.16 188.92,583.1 189.11,584.01 189.3,584.9 189.49,585.75 189.68,586.58 189.87,587.37 190.06,588.15 190.24,588.89 190.43,589.61 190.62,590.31 190.81,590.99 191,591.64 191.19,592.27 191.38,592.88 191.56,593.48 191.75,594.05 191.94,594.6 192.13,595.14 192.32,595.66 192.51,596.16 192.69,596.65 192.88,597.12 193.07,597.58 193.26,598.02 193.45,598.45 193.64,598.87 193.83,599.27 194.01,599.66 194.2,600.04 194.39,600.41 194.58,600.77 194.77,601.12 194.96,601.45 195.14,601.78 195.33,602.09 195.52,602.4 195.71,602.7 195.9,602.99 196.09,603.27 196.28,603.54 196.46,603.81 196.65,604.07 196.84,604.32 197.03,604.56 197.22,604.8 197.41,605.03 197.6,605.26 197.78,605.48 197.97,605.69 198.16,605.9 198.35,606.1 198.54,606.29 198.73,606.49 198.91,606.67 199.1,606.85 199.29,607.03 199.48,607.2 199.67,607.37 199.86,607.53 200.05,607.7 200.23,607.85 200.42,608 200.61,608.15 200.8,608.3 200.99,608.44 201.18,608.58 201.37,608.71 201.55,608.85 201.74,608.98 201.93,609.1 202.12,609.23 202.31,609.35 202.5,609.46 202.69,609.58 202.87,609.69 203.06,609.8 203.25,609.91 203.44,610.02 203.63,610.12 203.82,610.23 204,610.33 204.19,610.42 204.38,610.52 204.57,610.62 204.76,610.71 204.95,610.8 205.14,610.89 205.32,610.97 205.51,611.06 205.7,611.15 205.89,611.23 206.08,611.31 206.27,611.39 206.45,611.47 206.64,611.54 206.83,611.62 207.02,611.7 207.21,611.77 207.4,611.84 207.59,611.91 207.77,611.98 207.96,612.05 208.15,612.12 208.34,612.18 208.53,612.25 208.72,612.31 208.91,612.38 209.09,612.44 209.28,612.5 209.47,612.56 209.66,612.62 209.85,612.68 210.04,612.74 210.22,612.8 210.41,612.86 210.6,612.91 210.79,612.97 210.98,613.02 211.17,613.07 211.36,613.13 211.54,613.18 211.73,613.23 211.92,613.28 212.11,613.33 212.3,613.38 212.49,613.43 212.68,613.48 212.86,613.53 213.05,613.58 213.24,613.62 213.43,613.67 213.62,613.71 213.81,613.76 214,613.8 214.18,613.85 214.37,613.89 214.56,613.93 214.75,613.98 214.94,614.02 215.13,614.06 215.31,614.1 215.5,614.14 215.69,614.18 215.88,614.22 216.07,614.26 216.26,614.3 216.45,614.34 216.63,614.38 216.82,614.42 217.01,614.45 217.2,614.49 217.39,614.53 217.58,614.56 217.76,614.6 217.95,614.64 218.14,615.17 218.33,615.86 218.52,616.54 218.71,617.21 218.9,617.86 219.08,618.51 219.27,618.9 219.46,618.9 219.65,618.9 219.84,618.9 220.03,618.9 220.22,618.9 220.4,618.9 220.59,618.9 220.78,618.9 220.97,618.9 221.16,618.9 221.35,618.9 221.53,618.9 221.72,618.9 221.91,618.9 222.1,618.9 222.29,618.9 222.48,618.9 222.67,618.9 222.85,618.9 223.04,618.9 223.23,618.9 223.42,618.9 223.61,618.9 223.8,618.9 223.99,618.9 224.17,618.9 224.36,618.9 224.55,618.9 224.74,618.9 224.93,618.9 225.12,618.9 225.31,618.9 225.49,618.9 225.68,618.9 225.87,618.9 226.06,618.9 226.25,618.9 226.44,618.9 226.62,618.9 226.81,618.9 227,618.9 227.19,618.9 227.38,618.9 227.57,618.9 227.76,618.9 227.94,618.9 228.13,618.9 228.32,618.9 228.51,618.9 228.7,618.9 228.89,618.9 229.07,618.9 229.26,618.9 229.45,618.9 229.64,618.9 229.83,618.9 230.02,618.9 230.21,618.9 230.39,618.9 230.58,618.9 230.77,618.9 230.96,618.9 231.15,618.9 231.34,618.9 231.53,618.9 231.71,618.9 231.9,618.9 232.09,618.9 232.28,618.9 232.47,618.9 232.66,618.9 232.84,618.9 233.03,618.9 233.22,618.9 233.41,618.9 233.6,618.9 233.79,618.9 233.98,618.9 234.16,618.9 234.35,618.9 234.54,618.9 234.73,618.9 234.92,618.9 235.11,618.9 235.3,618.9 235.48,618.9 235.67,618.9 235.86,618.9 236.05,618.9 236.24,618.9 236.43,618.9 236.62,618.9 236.8,618.9 236.99,618.9 237.18,618.9 237.37,618.9 237.56,618.9 237.75,618.9 237.93,618.9 238.12,618.9 238.31,618.9 238.5,618.9" fill="none" stroke="#1b8dcc" stroke-width="1.6" stroke-linejoin="round"/>
<polyline points="163.1,618.9 163.29,618.9 163.48,618.9 163.67,618.9 163.85,618.9 164.04,618.9 164.23,618.9 164.42,618.9 164.61,618.9 164.8,618.9 164.98,618.9 165.17,618.9 165.36,618.9 165.55,618.9 165.74,618.9 165.93,618.9 166.12,618.9 166.3,618.9 166.49,618.9 166.68,618.9 166.87,618.9 167.06,618.9 167.25,618.9 167.44,618.9 167.62,618.9 167.81,618.9 168,618.9 168.19,618.9 168.38,618.9 168.57,618.9 168.75,618.9 168.94,618.9 169.13,618.9 169.32,618.9 169.51,618.9 169.7,618.9 169.89,618.9 170.07,618.9 170.26,618.9 170.45,618.9 170.64,618.9 170.83,618.9 171.02,618.9 171.21,618.9 171.39,618.9 171.58,618.9 171.77,618.9 171.96,618.9 172.15,618.9 172.34,618.9 172.53,618.9 172.71,618.9 172.9,618.9 173.09,618.9 173.28,618.9 173.47,618.9 173.66,618.9 173.84,618.9 174.03,618.9 174.22,618.9 174.41,618.9 174.6,618.9 174.79,618.9 174.98,618.9 175.16,618.9 175.35,618.9 175.54,618.9 175.73,618.9 175.92,618.9 176.11,618.9 176.29,618.9 176.48,618.9 176.67,618.9 176.86,618.9 177.05,618.9 177.24,618.9 177.43,618.9 177.61,618.9 177.8,618.9 177.99,618.9 178.18,618.9 178.37,618.9 178.56,618.9 178.75,618.9 178.93,618.9 179.12,618.9 179.31,618.9 179.5,618.9 179.69,618.9 179.88,618.9 180.06,618.9 180.25,618.9 180.44,618.9 180.63,618.9 180.82,618.9 181.01,618.9 181.2,618.9 181.38,618.9 181.57,618.9 181.76,618.9 181.95,618.9 182.14,618.9 182.33,618.9 182.52,618.9 182.7,618.9 182.89,618.9 183.08,618.9 183.27,614.68 183.46,608.54 183.65,601.69 183.83,594.33 184.02,586.59 184.21,578.52 184.4,570.21 184.59,575.5 184.78,580.2 184.97,584.37 185.15,588.09 185.34,591.4 185.53,594.34 185.72,596.96 185.91,599.29 186.1,601.36 186.29,603.21 186.47,604.85 186.66,606.31 186.85,607.61 187.04,608.77 187.23,609.81 187.42,610.73 187.6,611.55 187.79,612.28 187.98,612.93 188.17,613.51 188.36,614.03 188.55,614.49 188.74,614.91 188.92,615.28 189.11,615.61 189.3,615.9 189.49,616.16 189.68,616.4 189.87,616.61 190.06,616.8 190.24,616.97 190.43,617.12 190.62,617.26 190.81,617.38 191,617.5 191.19,617.59 191.38,617.69 191.56,617.77 191.75,617.84 191.94,617.91 192.13,617.97 192.32,618.02 192.51,618.07 192.69,618.12 192.88,618.16 193.07,618.2 193.26,618.23 193.45,618.26 193.64,618.29 193.83,618.32 194.01,618.34 194.2,618.37 194.39,618.39 194.58,618.41 194.77,618.43 194.96,618.45 195.14,618.46 195.33,618.48 195.52,618.49 195.71,618.5 195.9,618.52 196.09,618.53 196.28,618.54 196.46,618.55 196.65,618.56 196.84,618.57 197.03,618.58 197.22,618.59 197.41,618.6 197.6,618.61 197.78,618.61 197.97,618.62 198.16,618.63 198.35,618.64 198.54,618.64 198.73,618.65 198.91,618.66 199.1,618.66 199.29,618.67 199.48,618.67 199.67,618.68 199.86,618.69 200.05,618.69 200.23,618.7 200.42,618.7 200.61,618.71 200.8,618.71 200.99,618.71 201.18,618.72 201.37,618.72 201.55,618.73 201.74,618.73 201.93,618.74 202.12,618.74 202.31,618.74 202.5,618.75 202.69,618.75 202.87,618.75 203.06,618.76 203.25,618.76 203.44,618.76 203.63,618.77 203.82,618.77 204,618.77 204.19,618.78 204.38,618.78 204.57,618.78 204.76,618.79 204.95,618.79 205.14,618.79 205.32,618.79 205.51,618.8 205.7,618.8 205.89,618.8 206.08,618.8 206.27,618.8 206.45,618.81 206.64,618.81 206.83,618.81 207.02,618.81 207.21,618.82 207.4,618.82 207.59,618.82 207.77,618.82 207.96,618.82 208.15,618.82 208.34,618.83 208.53,618.83 208.72,618.83 208.91,618.83 209.09,618.83 209.28,618.83 209.47,618.84 209.66,618.84 209.85,618.84 210.04,618.84 210.22,618.84 210.41,618.84 210.6,618.84 210.79,618.85 210.98,618.85 211.17,618.85 211.36,618.85 211.54,618.85 211.73,618.85 211.92,618.85 212.11,618.85 212.3,618.86 212.49,618.86 212.68,618.86 212.86,618.86 213.05,618.86 213.24,618.86 213.43,618.86 213.62,618.86 213.81,618.86 214,618.86 214.18,618.86 214.37,618.87 214.56,618.87 214.75,618.87 214.94,618.87 215.13,618.87 215.31,618.87 215.5,618.87 215.69,618.87 215.88,618.87 216.07,618.87 216.26,618.87 216.45,618.87 216.63,618.87 216.82,618.87 217.01,618.88 217.2,618.88 217.39,618.88 217.58,618.88 217.76,618.88 217.95,618.88 218.14,618.88 218.33,618.88 218.52,618.88 218.71,618.88 218.9,618.88 219.08,618.88 219.27,618.88 219.46,618.88 219.65,618.88 219.84,618.88 220.03,618.88 220.22,618.88 220.4,618.88 220.59,618.88 220.78,618.88 220.97,618.88 221.16,618.89 221.35,618.89 221.53,618.89 221.72,618.89 221.91,618.89 222.1,618.89 222.29,618.89 222.48,618.89 222.67,618.89 222.85,618.89 223.04,618.89 223.23,618.89 223.42,618.89 223.61,618.89 223.8,618.89 223.99,618.89 224.17,618.89 224.36,618.89 224.55,618.89 224.74,618.89 224.93,618.89 225.12,618.89 225.31,618.89 225.49,618.89 225.68,618.89 225.87,618.89 226.06,618.89 226.25,618.89 226.44,618.89 226.62,618.89 226.81,618.89 227,618.89 227.19,618.89 227.38,618.89 227.57,618.89 227.76,618.89 227.94,618.89 228.13,618.89 228.32,618.89 228.51,618.89 228.7,618.89 228.89,618.89 229.07,618.89 229.26,618.89 229.45,618.89 229.64,618.89 229.83,618.9 230.02,618.9 230.21,618.9 230.39,618.9 230.58,618.9 230.77,618.9 230.96,618.9 231.15,618.9 231.34,618.9 231.53,618.9 231.71,618.9 231.9,618.9 232.09,618.9 232.28,618.9 232.47,618.9 232.66,618.9 232.84,618.9 233.03,618.9 233.22,618.9 233.41,618.9 233.6,618.9 233.79,618.9 233.98,618.9 234.16,618.9 234.35,618.9 234.54,618.9 234.73,618.9 234.92,618.9 235.11,618.9 235.3,618.9 235.48,618.9 235.67,618.9 235.86,618.9 236.05,618.9 236.24,618.9 236.43,618.9 236.62,618.9 236.8,618.9 236.99,618.9 237.18,618.9 237.37,618.9 237.56,618.9 237.75,618.9 237.93,618.9 238.12,618.9 238.31,618.9 238.5,618.9" fill="none" stroke="#e67a35" stroke-width="1.6" stroke-linejoin="round"/>
<polyline points="249.6,618.9 249.79,618.9 249.98,618.9 250.17,618.9 250.35,618.9 250.54,618.9 250.73,618.9 250.92,618.9 251.11,618.9 251.3,618.9 251.48,618.9 251.67,618.9 251.86,618.9 252.05,618.9 252.24,618.9 252.43,618.9 252.62,618.9 252.8,618.9 252.99,618.9 253.18,618.9 253.37,618.9 253.56,618.9 253.75,618.9 253.94,618.9 254.12,618.9 254.31,618.9 254.5,618.9 254.69,618.9 254.88,618.9 255.07,618.9 255.25,618.9 255.44,618.9 255.63,618.9 255.82,618.9 256.01,618.9 256.2,618.9 256.39,618.9 256.57,618.9 256.76,618.9 256.95,618.9 257.14,618.9 257.33,618.9 257.52,618.9 257.71,618.9 257.89,618.9 258.08,618.9 258.27,618.9 258.46,618.9 258.65,618.9 258.84,618.9 259.02,618.9 259.21,618.9 259.4,618.9 259.59,618.21 259.78,616.83 259.97,614.95 260.16,612.65 260.34,609.98 260.53,606.96 260.72,603.63 260.91,600 261.1,596.08 261.29,591.9 261.48,587.45 261.66,582.76 261.85,577.83 262.04,572.66 262.23,567.27 262.42,562.36 262.61,564.05 262.8,565.68 262.98,567.25 263.17,568.76 263.36,570.22 263.55,571.64 263.74,573 263.93,574.31 264.11,575.58 264.3,576.8 264.49,577.98 264.68,579.12 264.87,580.22 265.06,581.29 265.25,582.31 265.43,583.3 265.62,584.26 265.81,585.18 266,586.07 266.19,586.94 266.38,587.77 266.56,588.57 266.75,589.35 266.94,590.1 267.13,590.83 267.32,591.53 267.51,592.2 267.7,592.86 267.88,593.49 268.07,594.1 268.26,594.69 268.45,595.27 268.64,595.82 268.83,596.36 269.02,596.87 269.2,597.37 269.39,597.86 269.58,598.33 269.77,598.78 269.96,599.22 270.15,599.65 270.33,600.06 270.52,600.46 270.71,600.84 270.9,601.22 271.09,601.58 271.28,601.93 271.47,602.27 271.65,602.6 271.84,602.92 272.03,603.23 272.22,603.53 272.41,603.82 272.6,604.1 272.79,604.37 272.97,604.64 273.16,604.9 273.35,605.15 273.54,605.39 273.73,605.63 273.92,605.86 274.11,606.08 274.29,606.29 274.48,606.5 274.67,606.71 274.86,606.91 275.05,607.1 275.24,607.29 275.42,607.47 275.61,607.65 275.8,607.82 275.99,607.99 276.18,608.15 276.37,608.31 276.56,608.46 276.74,608.62 276.93,608.76 277.12,608.91 277.31,609.05 277.5,609.18 277.69,609.32 277.88,609.44 278.06,609.57 278.25,609.69 278.44,609.81 278.63,609.93 278.82,610.05 279.01,610.16 279.19,610.27 279.38,610.38 279.57,610.48 279.76,610.58 279.95,610.68 280.14,610.78 280.33,610.88 280.51,610.97 280.7,611.06 280.89,611.15 281.08,611.24 281.27,611.32 281.46,611.41 281.64,611.49 281.83,611.57 282.02,611.65 282.21,611.73 282.4,611.8 282.59,611.88 282.78,611.95 282.96,612.02 283.15,612.1 283.34,612.16 283.53,612.23 283.72,612.3 283.91,612.37 284.1,612.43 284.28,612.49 284.47,612.56 284.66,612.62 284.85,612.68 285.04,612.74 285.23,612.8 285.42,612.85 285.6,612.91 285.79,612.97 285.98,613.02 286.17,613.07 286.36,613.13 286.55,613.18 286.73,613.23 286.92,613.28 287.11,613.33 287.3,613.38 287.49,613.43 287.68,613.48 287.87,613.53 288.05,613.57 288.24,613.62 288.43,613.66 288.62,613.71 288.81,613.75 289,613.8 289.19,613.84 289.37,613.88 289.56,613.92 289.75,613.97 289.94,614.01 290.13,614.05 290.32,614.09 290.5,614.13 290.69,614.17 290.88,614.2 291.07,614.24 291.26,614.28 291.45,614.32 291.64,614.36 291.82,614.39 292.01,614.43 292.2,614.46 292.39,614.5 292.58,614.53 292.77,614.57 292.95,614.6 293.14,614.64 293.33,614.67 293.52,614.7 293.71,614.74 293.9,614.77 294.09,614.8 294.27,614.83 294.46,614.86 294.65,614.9 294.84,615.39 295.03,616.04 295.22,616.67 295.41,617.3 295.59,617.92 295.78,618.53 295.97,618.9 296.16,618.9 296.35,618.9 296.54,618.9 296.73,618.9 296.91,618.9 297.1,618.9 297.29,618.9 297.48,618.9 297.67,618.9 297.86,618.9 298.04,618.9 298.23,618.9 298.42,618.9 298.61,618.9 298.8,618.9 298.99,618.9 299.18,618.9 299.36,618.9 299.55,618.9 299.74,618.9 299.93,618.9 300.12,618.9 300.31,618.9 300.5,618.9 300.68,618.9 300.87,618.9 301.06,618.9 301.25,618.9 301.44,618.9 301.63,618.9 301.81,618.9 302,618.9 302.19,618.9 302.38,618.9 302.57,618.9 302.76,618.9 302.95,618.9 303.13,618.9 303.32,618.9 303.51,618.9 303.7,618.9 303.89,618.9 304.08,618.9 304.26,618.9 304.45,618.9 304.64,618.9 304.83,618.9 305.02,618.9 305.21,618.9 305.4,618.9 305.58,618.9 305.77,618.9 305.96,618.9 306.15,618.9 306.34,618.9 306.53,618.9 306.72,618.9 306.9,618.9 307.09,618.9 307.28,618.9 307.47,618.9 307.66,618.9 307.85,618.9 308.03,618.9 308.22,618.9 308.41,618.9 308.6,618.9 308.79,618.9 308.98,618.9 309.17,618.9 309.35,618.9 309.54,618.9 309.73,618.9 309.92,618.9 310.11,618.9 310.3,618.9 310.49,618.9 310.67,618.9 310.86,618.9 311.05,618.9 311.24,618.9 311.43,618.9 311.62,618.9 311.81,618.9 311.99,618.9 312.18,618.9 312.37,618.9 312.56,618.9 312.75,618.9 312.94,618.9 313.12,618.9 313.31,618.9 313.5,618.9 313.69,618.9 313.88,618.9 314.07,618.9 314.26,618.9 314.44,618.9 314.63,618.9 314.82,618.9 315.01,618.9 315.2,618.9 315.39,618.9 315.57,618.9 315.76,618.9 315.95,618.9 316.14,618.9 316.33,618.9 316.52,618.9 316.71,618.9 316.89,618.9 317.08,618.9 317.27,618.9 317.46,618.9 317.65,618.9 317.84,618.9 318.03,618.9 318.21,618.9 318.4,618.9 318.59,618.9 318.78,618.9 318.97,618.9 319.16,618.9 319.35,618.9 319.53,618.9 319.72,618.9 319.91,618.9 320.1,618.9 320.29,618.9 320.48,618.9 320.66,618.9 320.85,618.9 321.04,618.9 321.23,618.9 321.42,618.9 321.61,618.9 321.8,618.9 321.98,618.9 322.17,618.9 322.36,618.9 322.55,618.9 322.74,618.9 322.93,618.9 323.12,618.9 323.3,618.9 323.49,618.9 323.68,618.9 323.87,618.9 324.06,618.9 324.25,618.9 324.43,618.9 324.62,618.9 324.81,618.9 325,618.9" fill="none" stroke="#1b8dcc" stroke-width="1.6" stroke-linejoin="round"/>
<polyline points="249.6,618.9 249.79,618.9 249.98,618.9 250.17,618.9 250.35,618.9 250.54,618.9 250.73,618.9 250.92,618.9 251.11,618.9 251.3,618.9 251.48,618.9 251.67,618.9 251.86,618.9 252.05,618.9 252.24,618.9 252.43,618.9 252.62,618.9 252.8,618.9 252.99,618.9 253.18,618.9 253.37,618.9 253.56,618.9 253.75,618.9 253.94,618.9 254.12,618.9 254.31,618.9 254.5,618.9 254.69,618.9 254.88,618.9 255.07,618.9 255.25,618.9 255.44,618.9 255.63,618.9 255.82,618.9 256.01,618.9 256.2,618.9 256.39,618.9 256.57,618.9 256.76,618.9 256.95,618.9 257.14,618.9 257.33,618.9 257.52,618.9 257.71,618.9 257.89,618.9 258.08,618.9 258.27,618.9 258.46,618.9 258.65,618.9 258.84,618.9 259.02,618.9 259.21,618.9 259.4,618.9 259.59,618.9 259.78,618.9 259.97,614.2 260.16,607.3 260.34,599.58 260.53,591.3 260.72,582.57 260.91,573.48 261.1,564.08 261.29,569.91 261.48,575.22 261.66,579.93 261.85,584.13 262.04,587.86 262.23,591.18 262.42,594.14 262.61,596.77 262.8,599.11 262.98,601.19 263.17,603.04 263.36,604.69 263.55,606.16 263.74,607.47 263.93,608.64 264.11,609.68 264.3,610.6 264.49,611.43 264.68,612.16 264.87,612.82 265.06,613.41 265.25,613.93 265.43,614.39 265.62,614.81 265.81,615.18 266,615.52 266.19,615.81 266.38,616.08 266.56,616.32 266.75,616.53 266.94,616.72 267.13,616.9 267.32,617.05 267.51,617.19 267.7,617.31 267.88,617.43 268.07,617.53 268.26,617.62 268.45,617.7 268.64,617.78 268.83,617.85 269.02,617.91 269.2,617.97 269.39,618.02 269.58,618.06 269.77,618.11 269.96,618.15 270.15,618.18 270.33,618.21 270.52,618.25 270.71,618.27 270.9,618.3 271.09,618.32 271.28,618.35 271.47,618.37 271.65,618.39 271.84,618.41 272.03,618.42 272.22,618.44 272.41,618.45 272.6,618.47 272.79,618.48 272.97,618.49 273.16,618.51 273.35,618.52 273.54,618.53 273.73,618.54 273.92,618.55 274.11,618.56 274.29,618.57 274.48,618.58 274.67,618.59 274.86,618.6 275.05,618.6 275.24,618.61 275.42,618.62 275.61,618.63 275.8,618.63 275.99,618.64 276.18,618.65 276.37,618.65 276.56,618.66 276.74,618.66 276.93,618.67 277.12,618.68 277.31,618.68 277.5,618.69 277.69,618.69 277.88,618.7 278.06,618.7 278.25,618.71 278.44,618.71 278.63,618.71 278.82,618.72 279.01,618.72 279.19,618.73 279.38,618.73 279.57,618.74 279.76,618.74 279.95,618.74 280.14,618.75 280.33,618.75 280.51,618.75 280.7,618.76 280.89,618.76 281.08,618.76 281.27,618.77 281.46,618.77 281.64,618.77 281.83,618.78 282.02,618.78 282.21,618.78 282.4,618.78 282.59,618.79 282.78,618.79 282.96,618.79 283.15,618.8 283.34,618.8 283.53,618.8 283.72,618.8 283.91,618.8 284.1,618.81 284.28,618.81 284.47,618.81 284.66,618.81 284.85,618.82 285.04,618.82 285.23,618.82 285.42,618.82 285.6,618.82 285.79,618.82 285.98,618.83 286.17,618.83 286.36,618.83 286.55,618.83 286.73,618.83 286.92,618.83 287.11,618.84 287.3,618.84 287.49,618.84 287.68,618.84 287.87,618.84 288.05,618.84 288.24,618.84 288.43,618.85 288.62,618.85 288.81,618.85 289,618.85 289.19,618.85 289.37,618.85 289.56,618.85 289.75,618.85 289.94,618.86 290.13,618.86 290.32,618.86 290.5,618.86 290.69,618.86 290.88,618.86 291.07,618.86 291.26,618.86 291.45,618.86 291.64,618.86 291.82,618.86 292.01,618.87 292.2,618.87 292.39,618.87 292.58,618.87 292.77,618.87 292.95,618.87 293.14,618.87 293.33,618.87 293.52,618.87 293.71,618.87 293.9,618.87 294.09,618.87 294.27,618.87 294.46,618.87 294.65,618.88 294.84,618.88 295.03,618.88 295.22,618.88 295.41,618.88 295.59,618.88 295.78,618.88 295.97,618.88 296.16,618.88 296.35,618.88 296.54,618.88 296.73,618.88 296.91,618.88 297.1,618.88 297.29,618.88 297.48,618.88 297.67,618.88 297.86,618.88 298.04,618.88 298.23,618.88 298.42,618.88 298.61,618.88 298.8,618.89 298.99,618.89 299.18,618.89 299.36,618.89 299.55,618.89 299.74,618.89 299.93,618.89 300.12,618.89 300.31,618.89 300.5,618.89 300.68,618.89 300.87,618.89 301.06,618.89 301.25,618.89 301.44,618.89 301.63,618.89 301.81,618.89 302,618.89 302.19,618.89 302.38,618.89 302.57,618.89 302.76,618.89 302.95,618.89 303.13,618.89 303.32,618.89 303.51,618.89 303.7,618.89 303.89,618.89 304.08,618.89 304.26,618.89 304.45,618.89 304.64,618.89 304.83,618.89 305.02,618.89 305.21,618.89 305.4,618.89 305.58,618.89 305.77,618.89 305.96,618.89 306.15,618.89 306.34,618.89 306.53,618.89 306.72,618.89 306.9,618.89 307.09,618.89 307.28,618.89 307.47,618.89 307.66,618.9 307.85,618.9 308.03,618.9 308.22,618.9 308.41,618.9 308.6,618.9 308.79,618.9 308.98,618.9 309.17,618.9 309.35,618.9 309.54,618.9 309.73,618.9 309.92,618.9 310.11,618.9 310.3,618.9 310.49,618.9 310.67,618.9 310.86,618.9 311.05,618.9 311.24,618.9 311.43,618.9 311.62,618.9 311.81,618.9 311.99,618.9 312.18,618.9 312.37,618.9 312.56,618.9 312.75,618.9 312.94,618.9 313.12,618.9 313.31,618.9 313.5,618.9 313.69,618.9 313.88,618.9 314.07,618.9 314.26,618.9 314.44,618.9 314.63,618.9 314.82,618.9 315.01,618.9 315.2,618.9 315.39,618.9 315.57,618.9 315.76,618.9 315.95,618.9 316.14,618.9 316.33,618.9 316.52,618.9 316.71,618.9 316.89,618.9 317.08,618.9 317.27,618.9 317.46,618.9 317.65,618.9 317.84,618.9 318.03,618.9 318.21,618.9 318.4,618.9 318.59,618.9 318.78,618.9 318.97,618.9 319.16,618.9 319.35,618.9 319.53,618.9 319.72,618.9 319.91,618.9 320.1,618.9 320.29,618.9 320.48,618.9 320.66,618.9 320.85,618.9 321.04,618.9 321.23,618.9 321.42,618.9 321.61,618.9 321.8,618.9 321.98,618.9 322.17,618.9 322.36,618.9 322.55,618.9 322.74,618.9 322.93,618.9 323.12,618.9 323.3,618.9 323.49,618.9 323.68,618.9 323.87,618.9 324.06,618.9 324.25,618.9 324.43,618.9 324.62,618.9 324.81,618.9 325,618.9" fill="none" stroke="#e67a35" stroke-width="1.6" stroke-linejoin="round"/>
<polyline points="336.3,618.9 336.49,618.9 336.68,618.9 336.87,618.9 337.05,618.9 337.24,618.9 337.43,618.9 337.62,618.9 337.81,618.9 338,618.9 338.19,618.9 338.37,618.9 338.56,618.9 338.75,618.9 338.94,618.9 339.13,618.9 339.32,618.9 339.5,618.9 339.69,618.9 339.88,618.9 340.07,618.9 340.26,618.9 340.45,618.9 340.64,618.9 340.82,618.9 341.01,618.89 341.2,618.15 341.39,616.74 341.58,614.83 341.77,612.51 341.96,609.82 342.14,606.78 342.33,603.43 342.52,599.79 342.71,595.86 342.9,591.66 343.09,587.2 343.27,582.49 343.46,577.54 343.65,572.37 343.84,566.96 344.03,562.47 344.22,564.21 344.41,565.9 344.59,567.52 344.78,569.08 344.97,570.59 345.16,572.05 345.35,573.45 345.54,574.81 345.73,576.11 345.91,577.37 346.1,578.59 346.29,579.76 346.48,580.89 346.67,581.98 346.86,583.04 347.04,584.05 347.23,585.04 347.42,585.98 347.61,586.9 347.8,587.78 347.99,588.63 348.18,589.45 348.36,590.25 348.55,591.01 348.74,591.75 348.93,592.47 349.12,593.16 349.31,593.82 349.5,594.47 349.68,595.09 349.87,595.69 350.06,596.27 350.25,596.83 350.44,597.37 350.63,597.9 350.81,598.4 351,598.89 351.19,599.36 351.38,599.82 351.57,600.26 351.76,600.69 351.95,601.1 352.13,601.5 352.32,601.89 352.51,602.26 352.7,602.63 352.89,602.98 353.08,603.32 353.27,603.64 353.45,603.96 353.64,604.27 353.83,604.57 354.02,604.86 354.21,605.14 354.4,605.41 354.58,605.67 354.77,605.92 354.96,606.17 355.15,606.41 355.34,606.64 355.53,606.86 355.72,607.08 355.9,607.29 356.09,607.5 356.28,607.7 356.47,607.89 356.66,608.08 356.85,608.26 357.04,608.44 357.22,608.61 357.41,608.77 357.6,608.94 357.79,609.09 357.98,609.25 358.17,609.39 358.35,609.54 358.54,609.68 358.73,609.82 358.92,609.95 359.11,610.08 359.3,610.21 359.49,610.33 359.67,610.45 359.86,610.56 360.05,610.68 360.24,610.79 360.43,610.9 360.62,611 360.81,611.1 360.99,611.2 361.18,611.3 361.37,611.4 361.56,611.49 361.75,611.58 361.94,611.67 362.12,611.76 362.31,611.84 362.5,611.92 362.69,612 362.88,612.08 363.07,612.16 363.26,612.23 363.44,612.31 363.63,612.38 363.82,612.45 364.01,612.52 364.2,612.59 364.39,612.66 364.58,612.72 364.76,612.78 364.95,612.85 365.14,612.91 365.33,612.97 365.52,613.03 365.71,613.09 365.89,613.14 366.08,613.2 366.27,613.25 366.46,613.31 366.65,613.36 366.84,613.41 367.03,613.46 367.21,613.51 367.4,613.56 367.59,613.61 367.78,613.66 367.97,613.71 368.16,613.75 368.35,613.8 368.53,613.84 368.72,613.89 368.91,613.93 369.1,613.97 369.29,614.02 369.48,614.06 369.66,614.1 369.85,614.14 370.04,614.18 370.23,614.22 370.42,614.26 370.61,614.29 370.8,614.33 370.98,614.37 371.17,614.41 371.36,614.44 371.55,614.48 371.74,614.51 371.93,614.55 372.12,614.58 372.3,614.62 372.49,614.65 372.68,614.68 372.87,614.71 373.06,614.75 373.25,614.78 373.43,614.81 373.62,614.84 373.81,614.87 374,614.9 374.19,614.93 374.38,614.96 374.57,614.99 374.75,615.02 374.94,615.05 375.13,615.08 375.32,615.11 375.51,615.14 375.7,615.16 375.89,615.19 376.07,615.22 376.26,615.25 376.45,615.73 376.64,616.32 376.83,616.9 377.02,617.47 377.2,618.03 377.39,618.59 377.58,618.9 377.77,618.9 377.96,618.9 378.15,618.9 378.34,618.9 378.52,618.9 378.71,618.9 378.9,618.9 379.09,618.9 379.28,618.9 379.47,618.9 379.66,618.9 379.84,618.9 380.03,618.9 380.22,618.9 380.41,618.9 380.6,618.9 380.79,618.9 380.97,618.9 381.16,618.9 381.35,618.9 381.54,618.9 381.73,618.9 381.92,618.9 382.11,618.9 382.29,618.9 382.48,618.9 382.67,618.9 382.86,618.9 383.05,618.9 383.24,618.9 383.43,618.9 383.61,618.9 383.8,618.9 383.99,618.9 384.18,618.9 384.37,618.9 384.56,618.9 384.74,618.9 384.93,618.9 385.12,618.9 385.31,618.9 385.5,618.9 385.69,618.9 385.88,618.9 386.06,618.9 386.25,618.9 386.44,618.9 386.63,618.9 386.82,618.9 387.01,618.9 387.2,618.9 387.38,618.9 387.57,618.9 387.76,618.9 387.95,618.9 388.14,618.9 388.33,618.9 388.51,618.9 388.7,618.9 388.89,618.9 389.08,618.9 389.27,618.9 389.46,618.9 389.65,618.9 389.83,618.9 390.02,618.9 390.21,618.9 390.4,618.9 390.59,618.9 390.78,618.9 390.97,618.9 391.15,618.9 391.34,618.9 391.53,618.9 391.72,618.9 391.91,618.9 392.1,618.9 392.28,618.9 392.47,618.9 392.66,618.9 392.85,618.9 393.04,618.9 393.23,618.9 393.42,618.9 393.6,618.9 393.79,618.9 393.98,618.9 394.17,618.9 394.36,618.9 394.55,618.9 394.74,618.9 394.92,618.9 395.11,618.9 395.3,618.9 395.49,618.9 395.68,618.9 395.87,618.9 396.05,618.9 396.24,618.9 396.43,618.9 396.62,618.9 396.81,618.9 397,618.9 397.19,618.9 397.37,618.9 397.56,618.9 397.75,618.9 397.94,618.9 398.13,618.9 398.32,618.9 398.51,618.9 398.69,618.9 398.88,618.9 399.07,618.9 399.26,618.9 399.45,618.9 399.64,618.9 399.82,618.9 400.01,618.9 400.2,618.9 400.39,618.9 400.58,618.9 400.77,618.9 400.96,618.9 401.14,618.9 401.33,618.9 401.52,618.9 401.71,618.9 401.9,618.9 402.09,618.9 402.28,618.9 402.46,618.9 402.65,618.9 402.84,618.9 403.03,618.9 403.22,618.9 403.41,618.9 403.59,618.9 403.78,618.9 403.97,618.9 404.16,618.9 404.35,618.9 404.54,618.9 404.73,618.9 404.91,618.9 405.1,618.9 405.29,618.9 405.48,618.9 405.67,618.9 405.86,618.9 406.05,618.9 406.23,618.9 406.42,618.9 406.61,618.9 406.8,618.9 406.99,618.9 407.18,618.9 407.36,618.9 407.55,618.9 407.74,618.9 407.93,618.9 408.12,618.9 408.31,618.9 408.5,618.9 408.68,618.9 408.87,618.9 409.06,618.9 409.25,618.9 409.44,618.9 409.63,618.9 409.82,618.9 410,618.9 410.19,618.9 410.38,618.9 410.57,618.9 410.76,618.9 410.95,618.9 411.13,618.9 411.32,618.9 411.51,618.9 411.7,618.9" fill="none" stroke="#1b8dcc" stroke-width="1.6" stroke-linejoin="round"/>
<polyline points="336.3,618.9 336.49,618.9 336.68,618.9 336.87,618.9 337.05,618.9 337.24,618.9 337.43,618.9 337.62,618.9 337.81,618.9 338,618.9 338.19,618.9 338.37,618.9 338.56,618.9 338.75,618.9 338.94,618.9 339.13,618.9 339.32,618.9 339.5,618.9 339.69,618.9 339.88,618.9 340.07,618.9 340.26,618.9 340.45,618.9 340.64,618.9 340.82,618.9 341.01,618.9 341.2,618.9 341.39,618.9 341.58,613.7 341.77,606.53 341.96,598.55 342.14,590 342.33,581 342.52,571.63 342.71,562.71 342.9,568.81 343.09,574.23 343.27,579.05 343.46,583.34 343.65,587.16 343.84,590.55 344.03,593.57 344.22,596.26 344.41,598.66 344.59,600.78 344.78,602.68 344.97,604.37 345.16,605.87 345.35,607.21 345.54,608.4 345.73,609.46 345.91,610.41 346.1,611.25 346.29,612.01 346.48,612.68 346.67,613.28 346.86,613.81 347.04,614.29 347.23,614.71 347.42,615.09 347.61,615.44 347.8,615.74 347.99,616.01 348.18,616.26 348.36,616.47 348.55,616.67 348.74,616.85 348.93,617.01 349.12,617.15 349.31,617.28 349.5,617.39 349.68,617.49 349.87,617.59 350.06,617.67 350.25,617.75 350.44,617.82 350.63,617.88 350.81,617.94 351,617.99 351.19,618.04 351.38,618.09 351.57,618.13 351.76,618.16 351.95,618.2 352.13,618.23 352.32,618.26 352.51,618.28 352.7,618.31 352.89,618.33 353.08,618.35 353.27,618.37 353.45,618.39 353.64,618.41 353.83,618.43 354.02,618.44 354.21,618.46 354.4,618.47 354.58,618.48 354.77,618.5 354.96,618.51 355.15,618.52 355.34,618.53 355.53,618.54 355.72,618.55 355.9,618.56 356.09,618.57 356.28,618.58 356.47,618.59 356.66,618.59 356.85,618.6 357.04,618.61 357.22,618.62 357.41,618.62 357.6,618.63 357.79,618.64 357.98,618.65 358.17,618.65 358.35,618.66 358.54,618.66 358.73,618.67 358.92,618.67 359.11,618.68 359.3,618.69 359.49,618.69 359.67,618.7 359.86,618.7 360.05,618.71 360.24,618.71 360.43,618.71 360.62,618.72 360.81,618.72 360.99,618.73 361.18,618.73 361.37,618.74 361.56,618.74 361.75,618.74 361.94,618.75 362.12,618.75 362.31,618.75 362.5,618.76 362.69,618.76 362.88,618.76 363.07,618.77 363.26,618.77 363.44,618.77 363.63,618.78 363.82,618.78 364.01,618.78 364.2,618.78 364.39,618.79 364.58,618.79 364.76,618.79 364.95,618.79 365.14,618.8 365.33,618.8 365.52,618.8 365.71,618.8 365.89,618.81 366.08,618.81 366.27,618.81 366.46,618.81 366.65,618.82 366.84,618.82 367.03,618.82 367.21,618.82 367.4,618.82 367.59,618.82 367.78,618.83 367.97,618.83 368.16,618.83 368.35,618.83 368.53,618.83 368.72,618.83 368.91,618.84 369.1,618.84 369.29,618.84 369.48,618.84 369.66,618.84 369.85,618.84 370.04,618.84 370.23,618.85 370.42,618.85 370.61,618.85 370.8,618.85 370.98,618.85 371.17,618.85 371.36,618.85 371.55,618.85 371.74,618.86 371.93,618.86 372.12,618.86 372.3,618.86 372.49,618.86 372.68,618.86 372.87,618.86 373.06,618.86 373.25,618.86 373.43,618.86 373.62,618.86 373.81,618.87 374,618.87 374.19,618.87 374.38,618.87 374.57,618.87 374.75,618.87 374.94,618.87 375.13,618.87 375.32,618.87 375.51,618.87 375.7,618.87 375.89,618.87 376.07,618.87 376.26,618.87 376.45,618.88 376.64,618.88 376.83,618.88 377.02,618.88 377.2,618.88 377.39,618.88 377.58,618.88 377.77,618.88 377.96,618.88 378.15,618.88 378.34,618.88 378.52,618.88 378.71,618.88 378.9,618.88 379.09,618.88 379.28,618.88 379.47,618.88 379.66,618.88 379.84,618.88 380.03,618.88 380.22,618.88 380.41,618.88 380.6,618.89 380.79,618.89 380.97,618.89 381.16,618.89 381.35,618.89 381.54,618.89 381.73,618.89 381.92,618.89 382.11,618.89 382.29,618.89 382.48,618.89 382.67,618.89 382.86,618.89 383.05,618.89 383.24,618.89 383.43,618.89 383.61,618.89 383.8,618.89 383.99,618.89 384.18,618.89 384.37,618.89 384.56,618.89 384.74,618.89 384.93,618.89 385.12,618.89 385.31,618.89 385.5,618.89 385.69,618.89 385.88,618.89 386.06,618.89 386.25,618.89 386.44,618.89 386.63,618.89 386.82,618.89 387.01,618.89 387.2,618.89 387.38,618.89 387.57,618.89 387.76,618.89 387.95,618.89 388.14,618.89 388.33,618.89 388.51,618.89 388.7,618.89 388.89,618.89 389.08,618.89 389.27,618.89 389.46,618.9 389.65,618.9 389.83,618.9 390.02,618.9 390.21,618.9 390.4,618.9 390.59,618.9 390.78,618.9 390.97,618.9 391.15,618.9 391.34,618.9 391.53,618.9 391.72,618.9 391.91,618.9 392.1,618.9 392.28,618.9 392.47,618.9 392.66,618.9 392.85,618.9 393.04,618.9 393.23,618.9 393.42,618.9 393.6,618.9 393.79,618.9 393.98,618.9 394.17,618.9 394.36,618.9 394.55,618.9 394.74,618.9 394.92,618.9 395.11,618.9 395.3,618.9 395.49,618.9 395.68,618.9 395.87,618.9 396.05,618.9 396.24,618.9 396.43,618.9 396.62,618.9 396.81,618.9 397,618.9 397.19,618.9 397.37,618.9 397.56,618.9 397.75,618.9 397.94,618.9 398.13,618.9 398.32,618.9 398.51,618.9 398.69,618.9 398.88,618.9 399.07,618.9 399.26,618.9 399.45,618.9 399.64,618.9 399.82,618.9 400.01,618.9 400.2,618.9 400.39,618.9 400.58,618.9 400.77,618.9 400.96,618.9 401.14,618.9 401.33,618.9 401.52,618.9 401.71,618.9 401.9,618.9 402.09,618.9 402.28,618.9 402.46,618.9 402.65,618.9 402.84,618.9 403.03,618.9 403.22,618.9 403.41,618.9 403.59,618.9 403.78,618.9 403.97,618.9 404.16,618.9 404.35,618.9 404.54,618.9 404.73,618.9 404.91,618.9 405.1,618.9 405.29,618.9 405.48,618.9 405.67,618.9 405.86,618.9 406.05,618.9 406.23,618.9 406.42,618.9 406.61,618.9 406.8,618.9 406.99,618.9 407.18,618.9 407.36,618.9 407.55,618.9 407.74,618.9 407.93,618.9 408.12,618.9 408.31,618.9 408.5,618.9 408.68,618.9 408.87,618.9 409.06,618.9 409.25,618.9 409.44,618.9 409.63,618.9 409.82,618.9 410,618.9 410.19,618.9 410.38,618.9 410.57,618.9 410.76,618.9 410.95,618.9 411.13,618.9 411.32,618.9 411.51,618.9 411.7,618.9" fill="none" stroke="#e67a35" stroke-width="1.6" stroke-linejoin="round"/>
<polyline points="422.9,618.9 423.09,618.9 423.28,618.9 423.47,618.9 423.65,618.9 423.84,618.9 424.03,618.9 424.22,618.9 424.41,618.9 424.6,618.9 424.78,618.9 424.97,618.9 425.16,618.9 425.35,618.9 425.54,618.85 425.73,618.03 425.92,616.62 426.1,614.75 426.29,612.49 426.48,609.88 426.67,606.95 426.86,603.73 427.05,600.22 427.24,596.45 427.42,592.42 427.61,588.15 427.8,583.64 427.99,578.91 428.18,573.95 428.37,568.79 428.55,565.51 428.74,567.22 428.93,568.87 429.12,570.45 429.31,571.99 429.5,573.46 429.69,574.88 429.87,576.26 430.06,577.58 430.25,578.85 430.44,580.08 430.63,581.27 430.82,582.41 431.01,583.51 431.19,584.58 431.38,585.6 431.57,586.59 431.76,587.55 431.95,588.47 432.14,589.35 432.32,590.21 432.51,591.03 432.7,591.83 432.89,592.6 433.08,593.34 433.27,594.06 433.46,594.75 433.64,595.41 433.83,596.06 434.02,596.68 434.21,597.28 434.4,597.85 434.59,598.41 434.78,598.95 434.96,599.47 435.15,599.97 435.34,600.46 435.53,600.93 435.72,601.38 435.91,601.82 436.09,602.24 436.28,602.65 436.47,603.04 436.66,603.42 436.85,603.79 437.04,604.14 437.23,604.49 437.41,604.82 437.6,605.14 437.79,605.45 437.98,605.75 438.17,606.04 438.36,606.32 438.55,606.59 438.73,606.85 438.92,607.11 439.11,607.35 439.3,607.59 439.49,607.82 439.68,608.04 439.86,608.26 440.05,608.47 440.24,608.67 440.43,608.87 440.62,609.06 440.81,609.24 441,609.42 441.18,609.59 441.37,609.76 441.56,609.92 441.75,610.08 441.94,610.23 442.13,610.38 442.32,610.52 442.5,610.66 442.69,610.79 442.88,610.93 443.07,611.05 443.26,611.18 443.45,611.3 443.63,611.41 443.82,611.53 444.01,611.64 444.2,611.74 444.39,611.85 444.58,611.95 444.77,612.05 444.95,612.14 445.14,612.24 445.33,612.33 445.52,612.41 445.71,612.5 445.9,612.58 446.09,612.67 446.27,612.74 446.46,612.82 446.65,612.9 446.84,612.97 447.03,613.04 447.22,613.11 447.4,613.18 447.59,613.25 447.78,613.31 447.97,613.38 448.16,613.44 448.35,613.5 448.54,613.56 448.72,613.62 448.91,613.67 449.1,613.73 449.29,613.78 449.48,613.83 449.67,613.89 449.86,613.94 450.04,613.99 450.23,614.04 450.42,614.08 450.61,614.13 450.8,614.18 450.99,614.22 451.17,614.26 451.36,614.31 451.55,614.35 451.74,614.39 451.93,614.43 452.12,614.47 452.31,614.51 452.49,614.55 452.68,614.59 452.87,614.63 453.06,614.66 453.25,614.7 453.44,614.73 453.63,614.77 453.81,614.8 454,614.84 454.19,614.87 454.38,614.9 454.57,614.93 454.76,614.97 454.94,615 455.13,615.03 455.32,615.06 455.51,615.09 455.7,615.12 455.89,615.15 456.08,615.17 456.26,615.2 456.45,615.23 456.64,615.26 456.83,615.29 457.02,615.31 457.21,615.34 457.4,615.36 457.58,615.39 457.77,615.42 457.96,615.44 458.15,615.47 458.34,615.49 458.53,615.51 458.71,615.54 458.9,615.56 459.09,615.59 459.28,615.61 459.47,615.63 459.66,615.65 459.85,615.68 460.03,615.7 460.22,615.72 460.41,615.74 460.6,615.76 460.79,615.79 460.98,616.26 461.17,616.76 461.35,617.26 461.54,617.74 461.73,618.23 461.92,618.7 462.11,618.9 462.3,618.9 462.48,618.9 462.67,618.9 462.86,618.9 463.05,618.9 463.24,618.9 463.43,618.9 463.62,618.9 463.8,618.9 463.99,618.9 464.18,618.9 464.37,618.9 464.56,618.9 464.75,618.9 464.94,618.9 465.12,618.9 465.31,618.9 465.5,618.9 465.69,618.9 465.88,618.9 466.07,618.9 466.25,618.9 466.44,618.9 466.63,618.9 466.82,618.9 467.01,618.9 467.2,618.9 467.39,618.9 467.57,618.9 467.76,618.9 467.95,618.9 468.14,618.9 468.33,618.9 468.52,618.9 468.71,618.9 468.89,618.9 469.08,618.9 469.27,618.9 469.46,618.9 469.65,618.9 469.84,618.9 470.02,618.9 470.21,618.9 470.4,618.9 470.59,618.9 470.78,618.9 470.97,618.9 471.16,618.9 471.34,618.9 471.53,618.9 471.72,618.9 471.91,618.9 472.1,618.9 472.29,618.9 472.48,618.9 472.66,618.9 472.85,618.9 473.04,618.9 473.23,618.9 473.42,618.9 473.61,618.9 473.79,618.9 473.98,618.9 474.17,618.9 474.36,618.9 474.55,618.9 474.74,618.9 474.93,618.9 475.11,618.9 475.3,618.9 475.49,618.9 475.68,618.9 475.87,618.9 476.06,618.9 476.25,618.9 476.43,618.9 476.62,618.9 476.81,618.9 477,618.9 477.19,618.9 477.38,618.9 477.56,618.9 477.75,618.9 477.94,618.9 478.13,618.9 478.32,618.9 478.51,618.9 478.7,618.9 478.88,618.9 479.07,618.9 479.26,618.9 479.45,618.9 479.64,618.9 479.83,618.9 480.02,618.9 480.2,618.9 480.39,618.9 480.58,618.9 480.77,618.9 480.96,618.9 481.15,618.9 481.33,618.9 481.52,618.9 481.71,618.9 481.9,618.9 482.09,618.9 482.28,618.9 482.47,618.9 482.65,618.9 482.84,618.9 483.03,618.9 483.22,618.9 483.41,618.9 483.6,618.9 483.79,618.9 483.97,618.9 484.16,618.9 484.35,618.9 484.54,618.9 484.73,618.9 484.92,618.9 485.1,618.9 485.29,618.9 485.48,618.9 485.67,618.9 485.86,618.9 486.05,618.9 486.24,618.9 486.42,618.9 486.61,618.9 486.8,618.9 486.99,618.9 487.18,618.9 487.37,618.9 487.56,618.9 487.74,618.9 487.93,618.9 488.12,618.9 488.31,618.9 488.5,618.9 488.69,618.9 488.87,618.9 489.06,618.9 489.25,618.9 489.44,618.9 489.63,618.9 489.82,618.9 490.01,618.9 490.19,618.9 490.38,618.9 490.57,618.9 490.76,618.9 490.95,618.9 491.14,618.9 491.33,618.9 491.51,618.9 491.7,618.9 491.89,618.9 492.08,618.9 492.27,618.9 492.46,618.9 492.64,618.9 492.83,618.9 493.02,618.9 493.21,618.9 493.4,618.9 493.59,618.9 493.78,618.9 493.96,618.9 494.15,618.9 494.34,618.9 494.53,618.9 494.72,618.9 494.91,618.9 495.1,618.9 495.28,618.9 495.47,618.9 495.66,618.9 495.85,618.9 496.04,618.9 496.23,618.9 496.41,618.9 496.6,618.9 496.79,618.9 496.98,618.9 497.17,618.9 497.36,618.9 497.55,618.9 497.73,618.9 497.92,618.9 498.11,618.9 498.3,618.9" fill="none" stroke="#1b8dcc" stroke-width="1.6" stroke-linejoin="round"/>
<polyline points="422.9,618.9 423.09,618.9 423.28,618.9 423.47,618.9 423.65,618.9 423.84,618.9 424.03,618.9 424.22,618.9 424.41,618.9 424.6,618.9 424.78,618.9 424.97,618.9 425.16,618.9 425.35,618.9 425.54,618.9 425.73,618.9 425.92,618.64 426.1,613.38 426.29,606.81 426.48,599.55 426.67,591.8 426.86,583.66 427.05,575.19 427.24,569.19 427.42,574.58 427.61,579.38 427.8,583.64 427.99,587.44 428.18,590.81 428.37,593.81 428.55,596.49 428.74,598.86 428.93,600.98 429.12,602.86 429.31,604.54 429.5,606.03 429.69,607.36 429.87,608.55 430.06,609.6 430.25,610.54 430.44,611.38 430.63,612.13 430.82,612.79 431.01,613.39 431.19,613.91 431.38,614.39 431.57,614.81 431.76,615.19 431.95,615.52 432.14,615.83 432.32,616.09 432.51,616.34 432.7,616.55 432.89,616.75 433.08,616.92 433.27,617.08 433.46,617.22 433.64,617.34 433.83,617.45 434.02,617.56 434.21,617.65 434.4,617.73 434.59,617.81 434.78,617.88 434.96,617.94 435.15,617.99 435.34,618.05 435.53,618.09 435.72,618.13 435.91,618.17 436.09,618.21 436.28,618.24 436.47,618.27 436.66,618.3 436.85,618.33 437.04,618.35 437.23,618.37 437.41,618.39 437.6,618.41 437.79,618.43 437.98,618.45 438.17,618.46 438.36,618.48 438.55,618.49 438.73,618.5 438.92,618.52 439.11,618.53 439.3,618.54 439.49,618.55 439.68,618.56 439.86,618.57 440.05,618.58 440.24,618.59 440.43,618.6 440.62,618.6 440.81,618.61 441,618.62 441.18,618.63 441.37,618.63 441.56,618.64 441.75,618.65 441.94,618.65 442.13,618.66 442.32,618.67 442.5,618.67 442.69,618.68 442.88,618.68 443.07,618.69 443.26,618.69 443.45,618.7 443.63,618.7 443.82,618.71 444.01,618.71 444.2,618.72 444.39,618.72 444.58,618.73 444.77,618.73 444.95,618.73 445.14,618.74 445.33,618.74 445.52,618.75 445.71,618.75 445.9,618.75 446.09,618.76 446.27,618.76 446.46,618.76 446.65,618.77 446.84,618.77 447.03,618.77 447.22,618.77 447.4,618.78 447.59,618.78 447.78,618.78 447.97,618.79 448.16,618.79 448.35,618.79 448.54,618.79 448.72,618.8 448.91,618.8 449.1,618.8 449.29,618.8 449.48,618.81 449.67,618.81 449.86,618.81 450.04,618.81 450.23,618.81 450.42,618.82 450.61,618.82 450.8,618.82 450.99,618.82 451.17,618.82 451.36,618.83 451.55,618.83 451.74,618.83 451.93,618.83 452.12,618.83 452.31,618.83 452.49,618.84 452.68,618.84 452.87,618.84 453.06,618.84 453.25,618.84 453.44,618.84 453.63,618.84 453.81,618.85 454,618.85 454.19,618.85 454.38,618.85 454.57,618.85 454.76,618.85 454.94,618.85 455.13,618.85 455.32,618.85 455.51,618.86 455.7,618.86 455.89,618.86 456.08,618.86 456.26,618.86 456.45,618.86 456.64,618.86 456.83,618.86 457.02,618.86 457.21,618.86 457.4,618.87 457.58,618.87 457.77,618.87 457.96,618.87 458.15,618.87 458.34,618.87 458.53,618.87 458.71,618.87 458.9,618.87 459.09,618.87 459.28,618.87 459.47,618.87 459.66,618.87 459.85,618.87 460.03,618.87 460.22,618.88 460.41,618.88 460.6,618.88 460.79,618.88 460.98,618.88 461.17,618.88 461.35,618.88 461.54,618.88 461.73,618.88 461.92,618.88 462.11,618.88 462.3,618.88 462.48,618.88 462.67,618.88 462.86,618.88 463.05,618.88 463.24,618.88 463.43,618.88 463.62,618.88 463.8,618.88 463.99,618.88 464.18,618.89 464.37,618.89 464.56,618.89 464.75,618.89 464.94,618.89 465.12,618.89 465.31,618.89 465.5,618.89 465.69,618.89 465.88,618.89 466.07,618.89 466.25,618.89 466.44,618.89 466.63,618.89 466.82,618.89 467.01,618.89 467.2,618.89 467.39,618.89 467.57,618.89 467.76,618.89 467.95,618.89 468.14,618.89 468.33,618.89 468.52,618.89 468.71,618.89 468.89,618.89 469.08,618.89 469.27,618.89 469.46,618.89 469.65,618.89 469.84,618.89 470.02,618.89 470.21,618.89 470.4,618.89 470.59,618.89 470.78,618.89 470.97,618.89 471.16,618.89 471.34,618.89 471.53,618.89 471.72,618.89 471.91,618.89 472.1,618.89 472.29,618.89 472.48,618.89 472.66,618.89 472.85,618.89 473.04,618.9 473.23,618.9 473.42,618.9 473.61,618.9 473.79,618.9 473.98,618.9 474.17,618.9 474.36,618.9 474.55,618.9 474.74,618.9 474.93,618.9 475.11,618.9 475.3,618.9 475.49,618.9 475.68,618.9 475.87,618.9 476.06,618.9 476.25,618.9 476.43,618.9 476.62,618.9 476.81,618.9 477,618.9 477.19,618.9 477.38,618.9 477.56,618.9 477.75,618.9 477.94,618.9 478.13,618.9 478.32,618.9 478.51,618.9 478.7,618.9 478.88,618.9 479.07,618.9 479.26,618.9 479.45,618.9 479.64,618.9 479.83,618.9 480.02,618.9 480.2,618.9 480.39,618.9 480.58,618.9 480.77,618.9 480.96,618.9 481.15,618.9 481.33,618.9 481.52,618.9 481.71,618.9 481.9,618.9 482.09,618.9 482.28,618.9 482.47,618.9 482.65,618.9 482.84,618.9 483.03,618.9 483.22,618.9 483.41,618.9 483.6,618.9 483.79,618.9 483.97,618.9 484.16,618.9 484.35,618.9 484.54,618.9 484.73,618.9 484.92,618.9 485.1,618.9 485.29,618.9 485.48,618.9 485.67,618.9 485.86,618.9 486.05,618.9 486.24,618.9 486.42,618.9 486.61,618.9 486.8,618.9 486.99,618.9 487.18,618.9 487.37,618.9 487.56,618.9 487.74,618.9 487.93,618.9 488.12,618.9 488.31,618.9 488.5,618.9 488.69,618.9 488.87,618.9 489.06,618.9 489.25,618.9 489.44,618.9 489.63,618.9 489.82,618.9 490.01,618.9 490.19,618.9 490.38,618.9 490.57,618.9 490.76,618.9 490.95,618.9 491.14,618.9 491.33,618.9 491.51,618.9 491.7,618.9 491.89,618.9 492.08,618.9 492.27,618.9 492.46,618.9 492.64,618.9 492.83,618.9 493.02,618.9 493.21,618.9 493.4,618.9 493.59,618.9 493.78,618.9 493.96,618.9 494.15,618.9 494.34,618.9 494.53,618.9 494.72,618.9 494.91,618.9 495.1,618.9 495.28,618.9 495.47,618.9 495.66,618.9 495.85,618.9 496.04,618.9 496.23,618.9 496.41,618.9 496.6,618.9 496.79,618.9 496.98,618.9 497.17,618.9 497.36,618.9 497.55,618.9 497.73,618.9 497.92,618.9 498.11,618.9 498.3,618.9" fill="none" stroke="#e67a35" stroke-width="1.6" stroke-linejoin="round"/>
<text x="357.9" y="568.1" font-size="12.8" fill="#1b8dcc">Proximal</text>
<text x="357.9" y="581.4" font-size="12.8" fill="#e67a35">Distal</text>
<polyline points="77,705.4 154.6,705.4" fill="none" stroke="#5a5a5a" stroke-width="1.4" stroke-linejoin="round"/>
<polyline points="163.1,705.4 240.7,705.4" fill="none" stroke="#5a5a5a" stroke-width="1.4" stroke-linejoin="round"/>
<polyline points="249.6,705.4 327.2,705.4" fill="none" stroke="#5a5a5a" stroke-width="1.4" stroke-linejoin="round"/>
<polyline points="336.3,705.4 413.9,705.4" fill="none" stroke="#5a5a5a" stroke-width="1.4" stroke-linejoin="round"/>
<polyline points="422.9,705.4 500.5,705.4" fill="none" stroke="#5a5a5a" stroke-width="1.4" stroke-linejoin="round"/>
<polygon points="98.2,705.4 98.63,702.03 99.06,698.67 99.5,695 100.03,688.5 100.56,681.44 101.3,677.1 101.67,676.65 102.13,676.33 102.6,675.9 103.46,674.31 104.31,672.04 105.1,669.6 105.93,666.21 106.7,662.53 107.6,659.5 108.36,657.81 109.24,656.33 110.2,655.7 110.99,655.79 111.85,656 112.7,656.3 113.78,657.15 114.84,658.53 116,660 117.69,661.87 119.56,663.88 121.5,665.8 123.57,667.52 125.73,669.16 127.8,670.8 129.6,672.34 131.32,673.89 133,675.5 134.76,677.24 136.48,679.05 137.9,680.9 138.84,682.5 139.65,684.14 140.4,685.9 141.27,688.27 142.1,690.85 142.9,693.5 143.76,696.56 144.6,699.71 145.4,702.3 145.85,703.44 146.27,704.42 146.7,705.4" fill="#cdcdcd"/>
<polyline points="98.2,705.4 98.63,702.03 99.06,698.67 99.5,695 100.03,688.5 100.56,681.44 101.3,677.1 101.67,676.65 102.13,676.33 102.6,675.9 103.46,674.31 104.31,672.04 105.1,669.6 105.93,666.21 106.7,662.53 107.6,659.5 108.36,657.81 109.24,656.33 110.2,655.7 110.99,655.79 111.85,656 112.7,656.3 113.78,657.15 114.84,658.53 116,660 117.69,661.87 119.56,663.88 121.5,665.8 123.57,667.52 125.73,669.16 127.8,670.8 129.6,672.34 131.32,673.89 133,675.5 134.76,677.24 136.48,679.05 137.9,680.9 138.84,682.5 139.65,684.14 140.4,685.9 141.27,688.27 142.1,690.85 142.9,693.5 143.76,696.56 144.6,699.71 145.4,702.3 145.85,703.44 146.27,704.42 146.7,705.4" fill="none" stroke="#8f8f8f" stroke-width="1.1" stroke-linejoin="round"/>
<polyline points="99.4,705.4 100.54,704.87 101.67,704.33 102.6,703.6 103.82,700.62 104.79,695.95 105.7,691 106.82,684.89 107.88,678.32 108.9,672 109.81,666.85 110.69,661.9 111.4,657 111.88,652.14 112.27,647.34 112.7,643.1 113.06,640.12 113.46,637.39 113.9,636.2 114.32,636.96 114.79,638.7 115.2,640.6 115.62,643.32 115.97,646.4 116.4,649.4 116.93,651.99 117.56,654.51 118.3,657 119.18,659.54 120.24,662.05 121.5,664.5 123.29,667.13 125.48,669.69 127.8,672.1 130.27,674.3 132.88,676.38 135.3,678.4 137.15,680.03 138.88,681.63 140.4,683.4 141.83,685.74 143.09,688.36 144.2,691 145.11,693.54 145.92,696.11 146.7,698.5 147.32,700.4 147.92,702.19 148.6,703.6 149.18,704.28 149.84,704.84 150.5,705.4" fill="none" stroke="#000" stroke-width="1.5" stroke-linejoin="round"/>
<polygon points="171.4,705.4 171.71,700.32 172.01,695.24 172.3,690 172.56,683.32 172.8,676.44 173.1,671.5 173.25,670.26 173.44,669.26 173.7,668.6 174.04,668.38 174.5,668.23 174.9,668 175.55,666.17 176.07,663.05 176.6,659.9 177.14,656.38 177.68,652.82 178.4,651.2 179.17,651.67 180.19,652.79 181.3,654.1 183.37,656.99 185.71,660.72 188.3,664.5 191.89,668.86 195.93,673.28 199.9,677.3 203.36,680.24 206.76,682.94 209.2,685.5 210.17,687.03 210.93,688.48 211.5,690.1 212.02,692.55 212.43,695.29 212.8,698 213.15,700.48 213.48,702.94 213.8,705.4" fill="#cdcdcd"/>
<polyline points="171.4,705.4 171.71,700.32 172.01,695.24 172.3,690 172.56,683.32 172.8,676.44 173.1,671.5 173.25,670.26 173.44,669.26 173.7,668.6 174.04,668.38 174.5,668.23 174.9,668 175.55,666.17 176.07,663.05 176.6,659.9 177.14,656.38 177.68,652.82 178.4,651.2 179.17,651.67 180.19,652.79 181.3,654.1 183.37,656.99 185.71,660.72 188.3,664.5 191.89,668.86 195.93,673.28 199.9,677.3 203.36,680.24 206.76,682.94 209.2,685.5 210.17,687.03 210.93,688.48 211.5,690.1 212.02,692.55 212.43,695.29 212.8,698 213.15,700.48 213.48,702.94 213.8,705.4" fill="none" stroke="#8f8f8f" stroke-width="1.1" stroke-linejoin="round"/>
<polyline points="172,705.4 173.33,703.51 174.67,701.63 175.5,699.4 175.99,694.78 176.3,689.09 176.6,683.1 177.02,675.63 177.43,667.7 177.8,659.9 178.11,652.53 178.39,645.27 178.7,639 178.93,634.96 179.19,631.3 179.5,629.7 179.89,630.94 180.35,633.71 180.7,636.6 180.91,639.63 181.07,642.83 181.3,646 181.81,649.12 182.62,652.22 183.6,655.2 184.88,657.99 186.52,660.69 188.3,663.4 190.43,666.55 192.78,669.73 195.2,672.7 197.47,675.2 199.81,677.54 202.2,679.7 204.68,681.55 207.21,683.27 209.2,684.9 210.11,685.84 210.88,686.74 211.5,687.8 212.21,689.85 212.8,692.32 213.3,694.8 213.69,697.19 214.02,699.57 214.4,701.7 214.77,703.02 215.18,704.21 215.6,705.4" fill="none" stroke="#000" stroke-width="1.5" stroke-linejoin="round"/>
<polygon points="253.9,705.4 254,696.75 254.1,688.1 254.2,680 254.25,673.14 254.3,666.64 254.4,662.7 254.48,662.29 254.62,661.98 254.8,661.7 255.25,661.41 255.87,661.16 256.3,660.8 256.73,657.71 257,652.8 257.3,649.1 257.44,648.23 257.6,647.5 257.8,647.2 258.26,647.58 258.89,648.48 259.5,649.5 260.19,651.25 260.83,653.36 261.6,655.4 262.7,657.22 264.06,658.96 265.5,660.8 267.3,663.26 269.24,665.87 271.3,668.5 273.77,671.44 276.41,674.41 279.1,677.2 281.75,679.71 284.44,682.08 286.8,684 288.18,684.84 289.44,685.53 290.2,686.4 290.56,687.9 290.81,689.83 291,692 291.26,696.01 291.48,700.71 291.7,705.4" fill="#cdcdcd"/>
<polyline points="253.9,705.4 254,696.75 254.1,688.1 254.2,680 254.25,673.14 254.3,666.64 254.4,662.7 254.48,662.29 254.62,661.98 254.8,661.7 255.25,661.41 255.87,661.16 256.3,660.8 256.73,657.71 257,652.8 257.3,649.1 257.44,648.23 257.6,647.5 257.8,647.2 258.26,647.58 258.89,648.48 259.5,649.5 260.19,651.25 260.83,653.36 261.6,655.4 262.7,657.22 264.06,658.96 265.5,660.8 267.3,663.26 269.24,665.87 271.3,668.5 273.77,671.44 276.41,674.41 279.1,677.2 281.75,679.71 284.44,682.08 286.8,684 288.18,684.84 289.44,685.53 290.2,686.4 290.56,687.9 290.81,689.83 291,692 291.26,696.01 291.48,700.71 291.7,705.4" fill="none" stroke="#8f8f8f" stroke-width="1.1" stroke-linejoin="round"/>
<polyline points="253.4,705.4 254.18,703.84 254.95,702.27 255.4,700.5 255.59,697.51 255.7,694.02 255.8,690 255.98,681.32 256.14,670.91 256.3,660.8 256.45,652.08 256.61,643.61 256.8,636.5 256.94,632.46 257.1,628.86 257.3,627.3 257.56,629.03 257.87,632.81 258.2,636.5 258.49,639.12 258.81,641.67 259.2,644.3 259.82,647.55 260.63,650.9 261.6,654 262.69,656.38 264.03,658.58 265.5,660.8 267.26,663.35 269.22,665.91 271.3,668.5 273.77,671.44 276.41,674.41 279.1,677.2 281.75,679.71 284.44,682.08 286.8,684 288.16,684.84 289.4,685.53 290.2,686.4 290.64,687.87 290.94,689.74 291.2,691.8 291.54,695.32 291.84,699.25 292.2,702.4 292.47,703.52 292.78,704.46 293.1,705.4" fill="none" stroke="#000" stroke-width="1.5" stroke-linejoin="round"/>
<polygon points="340.4,705.4 340.47,696.8 340.54,688.2 340.6,680 340.63,672.44 340.65,665.18 340.7,660.8 340.77,660.43 340.89,660.17 341,659.8 341.25,655.07 341.46,647.93 341.8,643.3 342.01,642.82 342.32,642.45 342.6,642.3 342.92,642.76 343.22,643.82 343.5,645 343.88,646.78 344.25,648.84 344.7,651 345.47,653.7 346.45,656.55 347.6,659.3 348.99,661.92 350.66,664.46 352.5,667 354.86,669.93 357.5,672.85 360.2,675.6 362.75,678.03 365.35,680.33 368,682.4 370.94,684.06 373.93,685.56 375.7,687.1 376.07,687.98 376.33,688.88 376.5,690 376.72,694.15 376.86,699.77 377,705.4" fill="#cdcdcd"/>
<polyline points="340.4,705.4 340.47,696.8 340.54,688.2 340.6,680 340.63,672.44 340.65,665.18 340.7,660.8 340.77,660.43 340.89,660.17 341,659.8 341.25,655.07 341.46,647.93 341.8,643.3 342.01,642.82 342.32,642.45 342.6,642.3 342.92,642.76 343.22,643.82 343.5,645 343.88,646.78 344.25,648.84 344.7,651 345.47,653.7 346.45,656.55 347.6,659.3 348.99,661.92 350.66,664.46 352.5,667 354.86,669.93 357.5,672.85 360.2,675.6 362.75,678.03 365.35,680.33 368,682.4 370.94,684.06 373.93,685.56 375.7,687.1 376.07,687.98 376.33,688.88 376.5,690 376.72,694.15 376.86,699.77 377,705.4" fill="none" stroke="#5a5a5a" stroke-width="1.4" stroke-linejoin="round"/>
<polyline points="341.72,657.39 341.8,651.1 341.92,641.79 342.08,632.21 342.3,627.8 342.55,630.44 342.89,636.1 343.3,641.4 343.68,644.45" fill="none" stroke="#000" stroke-width="1.5" stroke-linejoin="round"/>
<polygon points="425.3,705.4 425.41,696.99 425.51,688.59 425.6,680 425.66,669.82 425.71,659.43 425.8,651 425.94,647 426.19,643.5 426.5,642 426.83,643.33 427.26,646.24 427.8,649.1 428.58,651.4 429.6,653.66 430.7,655.9 431.86,658.22 433.12,660.51 434.5,662.7 436.01,664.7 437.67,666.61 439.4,668.5 441.26,670.43 443.2,672.34 445.2,674.3 447.41,676.59 449.68,678.94 452,681.1 454.43,682.99 456.92,684.74 458.8,686 459.41,686.31 459.92,686.56 460.2,686.9 460.41,688.8 460.53,691.85 460.6,695 460.64,698.37 460.67,701.88 460.7,705.4" fill="#cdcdcd"/>
<polyline points="425.3,705.4 425.41,696.99 425.51,688.59 425.6,680 425.66,669.82 425.71,659.43 425.8,651 425.94,647 426.19,643.5 426.5,642 426.83,643.33 427.26,646.24 427.8,649.1 428.58,651.4 429.6,653.66 430.7,655.9 431.86,658.22 433.12,660.51 434.5,662.7 436.01,664.7 437.67,666.61 439.4,668.5 441.26,670.43 443.2,672.34 445.2,674.3 447.41,676.59 449.68,678.94 452,681.1 454.43,682.99 456.92,684.74 458.8,686 459.41,686.31 459.92,686.56 460.2,686.9 460.41,688.8 460.53,691.85 460.6,695 460.64,698.37 460.67,701.88 460.7,705.4" fill="none" stroke="#5a5a5a" stroke-width="1.4" stroke-linejoin="round"/>
<polyline points="425.79,662.95 425.9,650 426.01,641.66 426.14,634.03 426.3,630.7 426.43,632.52 426.6,636.49 426.8,640.4 427.04,643.39" fill="none" stroke="#000" stroke-width="1.5" stroke-linejoin="round"/>
<text x="357.9" y="639" font-size="12.8" fill="#000">Outward</text>
<text x="357.9" y="653.6" font-size="12.8" fill="#a6a6a6">Inward</text>
<text x="284" y="667.6" font-size="12.8" fill="#1a1a1a">5mV</text>
<polyline points="312.8,657.6 312.8,671 322,671" fill="none" stroke="#000" stroke-width="1.4" stroke-linejoin="round" stroke-linejoin="miter"/>
<text x="305" y="684.3" font-size="12.8" fill="#1a1a1a">0.5s</text>
<polygon points="77,841.9 83.79,841.9 91.16,841.9 97.37,841.9 100.7,841.9 101.08,841.55 101.34,840.74 101.58,839.81 101.9,839.1 102.3,838.74 102.79,838.45 103.31,838.17 103.8,837.8 104.44,837.05 105.06,836.09 105.68,835.04 106.3,834 106.94,832.85 107.56,831.62 108.21,830.48 108.9,829.6 109.48,829.05 110.11,828.53 110.75,828.15 111.4,828 112.01,828.09 112.63,828.33 113.25,828.65 113.9,829 114.79,829.61 115.71,830.41 117.29,826.08 117.7,827.73 118.15,829.1 118.72,830.41 119.4,831.62 120.2,832.71 121.43,833.85 123.03,834.92 124.79,835.85 126.5,836.61 128.02,837.19 129.56,837.69 131.14,838.12 132.8,838.49 134.98,838.83 137.35,839.11 139.64,839.39 141.6,839.72 142.63,840.02 143.52,840.39 144.4,840.74 145.4,841.02 147.21,841.33 149.33,841.61 151.36,841.82 152.9,841.9 153.4,841.9 153.81,841.9 154.2,841.9 154.6,841.9 154.6,841.9 77,841.9" fill="#e6e6e6"/>
<polyline points="77,841.9 83.79,841.9 91.16,841.9 97.37,841.9 100.7,841.9 101.08,841.55 101.34,840.74 101.58,839.81 101.9,839.1 102.3,838.74 102.79,838.45 103.31,838.17 103.8,837.8 104.44,837.05 105.06,836.09 105.68,835.04 106.3,834 106.94,832.85 107.56,831.62 108.21,830.48 108.9,829.6 109.48,829.05 110.11,828.53 110.75,828.15 111.4,828 112.01,828.09 112.63,828.33 113.25,828.65 113.9,829 114.79,829.61 115.71,830.41 116.67,831.32 117.7,832.2 119.11,833.31 120.64,834.49 122.28,835.62 124,836.6 126.11,837.51 128.42,838.35 130.72,839.08 132.8,839.7 134.18,840.07 135.5,840.4 136.71,840.69 137.8,841 138.44,841.27 138.99,841.56 139.57,841.8 140.3,841.9 142.96,841.9 146.64,841.9 150.72,841.9 154.6,841.9" fill="none" stroke="#8c8c8c" stroke-width="1.4" stroke-linejoin="round"/>
<polyline points="77,841.9 84.52,841.9 92.48,841.9 99.55,841.9 104.4,841.9 105.62,841.7 106.65,841.2 107.5,840.49 108.2,839.72 109.01,838.25 109.69,836.21 110.25,833.88 110.7,831.56 111.1,828.87 111.42,826.02 111.71,823.07 112,820.07 112.32,816.44 112.63,812.52 112.95,808.93 113.3,806.28 113.48,805.36 113.68,804.49 113.89,803.85 114.1,803.6 114.38,803.97 114.67,804.91 114.96,806.15 115.2,807.43 115.54,810.18 115.81,813.66 116.08,817.28 116.4,820.45 116.67,822.46 116.96,824.33 117.29,826.08 117.7,827.73 118.15,829.1 118.72,830.41 119.4,831.62 120.2,832.71 121.43,833.85 123.03,834.92 124.79,835.85 126.5,836.61 128.02,837.19 129.56,837.69 131.14,838.12 132.8,838.49 134.98,838.83 137.35,839.11 139.64,839.39 141.6,839.72 142.63,840.02 143.52,840.39 144.4,840.74 145.4,841.02 147.21,841.33 149.33,841.61 151.36,841.82 152.9,841.9 153.4,841.9 153.81,841.9 154.2,841.9 154.6,841.9" fill="none" stroke="#000" stroke-width="1.6" stroke-linejoin="round"/>
<polyline points="77,841.9 154.6,841.9" fill="none" stroke="#7c7c7c" stroke-width="1.4" stroke-linejoin="round"/>
<circle cx="106.3" cy="803.6" r="1.7" fill="#000" stroke="none" stroke-width="1"/>
<circle cx="104.1" cy="828" r="1.7" fill="#8c8c8c" stroke="none" stroke-width="1"/>
<polygon points="163.1,841.2 165.8,841.2 168.72,841.2 171.21,841.2 172.6,841.2 172.96,840.59 173.18,839.16 173.39,837.53 173.7,836.3 174.08,835.81 174.58,835.41 175.09,835.02 175.5,834.5 176.01,833.02 176.43,831.01 176.81,828.86 177.2,827 177.49,825.7 177.77,824.36 178.06,823.32 178.4,822.9 178.76,823.2 179.17,823.93 179.62,824.87 180.1,825.8 180.83,827.14 181.63,828.67 182.99,823.69 183.6,826.94 184.34,828.7 185.5,830.25 186.88,831.61 188.3,832.78 189.83,833.81 191.54,834.74 193.36,835.55 195.2,836.28 197.19,836.96 199.27,837.59 201.37,838.15 203.4,838.61 205.26,838.93 207.14,839.18 208.88,839.44 210.3,839.77 210.94,840.14 211.45,840.61 211.98,841.02 212.7,841.2 217.29,841.2 224.56,841.2 232.9,841.2 240.7,841.2 240.7,841.2 163.1,841.2" fill="#e6e6e6"/>
<polyline points="163.1,841.2 165.8,841.2 168.72,841.2 171.21,841.2 172.6,841.2 172.96,840.59 173.18,839.16 173.39,837.53 173.7,836.3 174.08,835.81 174.58,835.41 175.09,835.02 175.5,834.5 176.01,833.02 176.43,831.01 176.81,828.86 177.2,827 177.49,825.7 177.77,824.36 178.06,823.32 178.4,822.9 178.76,823.2 179.17,823.93 179.62,824.87 180.1,825.8 180.83,827.14 181.63,828.67 182.54,830.21 183.6,831.6 185.21,833.11 187.19,834.57 189.41,835.86 191.7,836.9 194.46,837.8 197.49,838.57 200.55,839.23 203.4,839.8 205.42,840.27 207.26,840.72 209.2,841.06 211.5,841.2 217.43,841.2 224.88,841.2 232.94,841.2 240.7,841.2" fill="none" stroke="#8c8c8c" stroke-width="1.4" stroke-linejoin="round"/>
<polyline points="163.1,841.2 166.35,841.2 169.8,841.2 172.85,841.2 174.9,841.2 175.69,840.84 176.35,839.92 176.86,838.66 177.2,837.31 177.64,833.53 177.95,828.34 178.19,822.44 178.4,816.58 178.63,809.3 178.81,801.39 178.99,793.79 179.2,787.42 179.36,783.81 179.53,780.23 179.71,777.49 179.9,776.4 180.09,777.52 180.29,780.29 180.5,783.88 180.7,787.42 180.98,792.71 181.26,798.79 181.55,805.01 181.9,810.74 182.21,815.24 182.55,819.67 182.99,823.69 183.6,826.94 184.34,828.7 185.5,830.25 186.88,831.61 188.3,832.78 189.83,833.81 191.54,834.74 193.36,835.55 195.2,836.28 197.19,836.96 199.27,837.59 201.37,838.15 203.4,838.61 205.26,838.93 207.14,839.18 208.88,839.44 210.3,839.77 210.94,840.14 211.45,840.61 211.98,841.02 212.7,841.2 217.29,841.2 224.56,841.2 232.9,841.2 240.7,841.2" fill="none" stroke="#000" stroke-width="1.6" stroke-linejoin="round"/>
<polyline points="163.1,841.2 240.7,841.2" fill="none" stroke="#7c7c7c" stroke-width="1.4" stroke-linejoin="round"/>
<circle cx="172.2" cy="776.4" r="1.7" fill="#000" stroke="none" stroke-width="1"/>
<circle cx="171.4" cy="823.5" r="1.7" fill="#8c8c8c" stroke="none" stroke-width="1"/>
<polygon points="249.6,841.7 251.14,841.7 252.82,841.7 254.22,841.7 254.9,841.7 255.07,840.37 255.15,837.34 255.23,834.06 255.4,832 255.62,831.68 255.98,831.45 256.35,831.22 256.6,830.9 256.9,828.08 257.08,823.41 257.24,819.03 257.5,817.1 257.82,817.98 258.26,820.12 258.8,822.75 259.4,825.1 261.52,824.62 262.3,827.46 263.12,829.13 264.23,830.63 265.54,831.94 266.9,833.09 268.39,834.13 270.04,835.07 271.83,835.89 273.7,836.6 276.14,837.28 278.82,837.87 281.51,838.4 284,838.94 285.92,839.37 287.8,839.79 289.51,840.21 290.9,840.64 291.49,840.95 291.95,841.3 292.44,841.58 293.1,841.7 298.5,841.7 307.37,841.7 317.63,841.7 327.2,841.7 327.2,841.7 249.6,841.7" fill="#e6e6e6"/>
<polyline points="249.6,841.7 251.57,841.7 253.73,841.7 255.5,841.7 256.3,841.7 256.51,837.16 256.63,826.05 256.7,812.13 256.8,799.18 256.94,785.29 257.07,770.25 257.22,756.39 257.4,746.03 257.51,742.4 257.64,738.96 257.77,736.4 257.9,735.4 258.15,743.04 258.36,760.89 258.6,781.29 258.9,796.63 259.1,801.6 259.35,805.89 259.65,809.82 260,813.74 260.39,817.47 260.89,821.19 261.52,824.62 262.3,827.46 263.12,829.13 264.23,830.63 265.54,831.94 266.9,833.09 268.39,834.13 270.04,835.07 271.83,835.89 273.7,836.6 276.14,837.28 278.82,837.87 281.51,838.4 284,838.94 285.92,839.37 287.8,839.79 289.51,840.21 290.9,840.64 291.49,840.95 291.95,841.3 292.44,841.58 293.1,841.7 298.5,841.7 307.37,841.7 317.63,841.7 327.2,841.7" fill="none" stroke="#000" stroke-width="1.7" stroke-linejoin="round"/>
<polyline points="249.6,841.7 251.14,841.7 252.82,841.7 254.22,841.7 254.9,841.7 255.07,840.37 255.15,837.34 255.23,834.06 255.4,832 255.62,831.68 255.98,831.45 256.35,831.22 256.6,830.9 256.9,828.08 257.08,823.41 257.24,819.03 257.5,817.1 257.82,817.98 258.26,820.12 258.8,822.75 259.4,825.1 260.16,817.47 261.09,824.62 262.18,827.46 263.4,830.63 264.75,831.94 266.36,833.09 268.14,834.13 270,835.07 272.28,836.6 274.77,837.28 277.37,837.87 280,838.4 282.78,838.94 285.57,839.37 288.57,840.21 292,841.58 299.4,841.7 308.36,841.7 317.93,841.7 327.2,841.7" fill="none" stroke="#7c7c7c" stroke-width="1.4" stroke-linejoin="round"/>
<polyline points="249.6,841.7 327.2,841.7" fill="none" stroke="#7c7c7c" stroke-width="1.4" stroke-linejoin="round"/>
<circle cx="249.1" cy="735.8" r="1.7" fill="#000" stroke="none" stroke-width="1"/>
<circle cx="248.8" cy="816.6" r="1.7" fill="#8c8c8c" stroke="none" stroke-width="1"/>
<polygon points="336.3,841.4 337.46,841.4 338.72,841.4 339.77,841.4 340.3,841.4 340.48,840.07 340.56,837.01 340.64,833.65 340.8,831.4 340.99,830.98 341.29,830.67 341.6,830.35 341.8,829.9 342.18,823.15 342.41,811.44 342.61,800.34 342.9,795.4 343.21,797.43 343.58,802.3 344.01,808.23 344.5,813.4 346.52,823.07 347.3,826.12 348.11,827.92 349.23,829.51 350.53,830.93 351.9,832.17 353.38,833.28 355.03,834.29 356.82,835.17 358.7,835.93 361.13,836.66 363.81,837.29 366.51,837.86 369,838.44 370.92,838.9 372.81,839.35 374.51,839.8 375.9,840.26 376.49,840.59 376.95,840.97 377.44,841.27 378.1,841.4 383.72,841.4 393.04,841.4 403.84,841.4 413.9,841.4 413.9,841.4 336.3,841.4" fill="#e6e6e6"/>
<polyline points="336.3,841.4 337.77,841.4 339.38,841.4 340.7,841.4 341.3,841.4 341.52,836.53 341.63,824.61 341.7,809.69 341.8,795.8 341.94,780.91 342.07,764.78 342.22,749.91 342.4,738.8 342.51,734.91 342.64,731.22 342.77,728.48 342.9,727.4 343.15,735.6 343.36,754.73 343.6,776.62 343.9,793.06 344.1,798.4 344.35,802.99 344.65,807.21 345,811.42 345.39,815.41 345.89,819.39 346.52,823.07 347.3,826.12 348.11,827.92 349.23,829.51 350.53,830.93 351.9,832.17 353.38,833.28 355.03,834.29 356.82,835.17 358.7,835.93 361.13,836.66 363.81,837.29 366.51,837.86 369,838.44 370.92,838.9 372.81,839.35 374.51,839.8 375.9,840.26 376.49,840.59 376.95,840.97 377.44,841.27 378.1,841.4 383.72,841.4 393.04,841.4 403.84,841.4 413.9,841.4" fill="none" stroke="#000" stroke-width="1.7" stroke-linejoin="round"/>
<polyline points="336.3,841.4 337.46,841.4 338.72,841.4 339.77,841.4 340.3,841.4 340.48,840.07 340.56,837.01 340.64,833.65 340.8,831.4 340.99,830.98 341.29,830.67 341.6,830.35 341.8,829.9 342.18,823.15 342.41,811.44 342.61,800.34 342.9,795.4 343.21,797.43 343.58,802.3 344.01,808.23 344.5,813.4 344.97,811.42 345.52,819.39 346.18,823.07 347,826.12 347.88,827.92 349.06,829.51 350.46,830.93 352,833.28 354.06,834.29 356.52,835.17 359.23,836.66 362,837.29 365.15,837.86 368.43,838.44 371.99,839.35 376,840.59 384.08,841.4 393.71,841.4 403.96,841.4 413.9,841.4" fill="none" stroke="#7c7c7c" stroke-width="1.4" stroke-linejoin="round"/>
<polyline points="336.3,841.4 413.9,841.4" fill="none" stroke="#7c7c7c" stroke-width="1.4" stroke-linejoin="round"/>
<circle cx="332.8" cy="727.2" r="1.7" fill="#000" stroke="none" stroke-width="1"/>
<circle cx="332.7" cy="808.3" r="1.7" fill="#8c8c8c" stroke="none" stroke-width="1"/>
<polygon points="422.9,841.4 423.21,841.4 423.55,841.4 423.83,841.4 424,841.4 424.18,840.07 424.26,837.01 424.34,833.65 424.5,831.4 424.69,830.98 424.99,830.66 425.29,830.35 425.5,829.9 425.88,824.22 426.11,814.56 426.31,805.44 426.6,801.4 426.91,803.08 427.28,807.14 427.71,812.07 428.2,816.4 430.23,828.13 431,830.3 431.83,831.63 432.96,832.8 434.25,833.82 435.6,834.69 437.11,835.52 438.77,836.25 440.54,836.88 442.4,837.43 444.85,837.96 447.53,838.42 450.22,838.83 452.7,839.25 454.62,839.59 456.5,839.91 458.2,840.24 459.6,840.57 460.18,840.81 460.65,841.09 461.14,841.31 461.8,841.4 467.84,841.4 477.92,841.4 489.61,841.4 500.5,841.4 500.5,841.4 422.9,841.4" fill="#e6e6e6"/>
<polyline points="422.9,841.4 423.51,841.4 424.18,841.4 424.73,841.4 425,841.4 425.22,837.86 425.33,829.21 425.4,818.37 425.5,808.28 425.64,797.46 425.77,785.75 425.92,774.95 426.1,766.88 426.21,764.05 426.34,761.38 426.47,759.38 426.6,758.6 426.85,764.55 427.06,778.45 427.3,794.35 427.6,806.29 427.8,810.17 428.05,813.51 428.35,816.57 428.7,819.62 429.1,822.54 429.6,825.46 430.23,828.13 431,830.3 431.83,831.63 432.96,832.8 434.25,833.82 435.6,834.69 437.11,835.52 438.77,836.25 440.54,836.88 442.4,837.43 444.85,837.96 447.53,838.42 450.22,838.83 452.7,839.25 454.62,839.59 456.5,839.91 458.2,840.24 459.6,840.57 460.18,840.81 460.65,841.09 461.14,841.31 461.8,841.4 467.84,841.4 477.92,841.4 489.61,841.4 500.5,841.4" fill="none" stroke="#000" stroke-width="1.7" stroke-linejoin="round"/>
<polyline points="422.9,841.4 423.21,841.4 423.55,841.4 423.83,841.4 424,841.4 424.18,840.07 424.26,837.01 424.34,833.65 424.5,831.4 424.69,830.98 424.99,830.66 425.29,830.35 425.5,829.9 425.88,824.22 426.11,814.56 426.31,805.44 426.6,801.4 426.91,803.08 427.28,807.14 427.71,812.07 428.2,816.4 428.68,819.62 429.22,822.81 429.88,825.79 430.7,828.4 431.64,830.29 432.9,832.03 434.39,833.58 436,834.9 438.1,836.19 440.56,837.33 443.24,837.96 446,838.42 449.14,838.83 452.41,839.25 455.97,839.91 460,840.81 468.54,841.4 478.84,841.4 489.85,841.4 500.5,841.4" fill="none" stroke="#7c7c7c" stroke-width="1.4" stroke-linejoin="round"/>
<polyline points="422.9,841.4 500.5,841.4" fill="none" stroke="#7c7c7c" stroke-width="1.4" stroke-linejoin="round"/>
<circle cx="414.8" cy="758.6" r="1.7" fill="#000" stroke="none" stroke-width="1"/>
<circle cx="414.8" cy="802.2" r="1.7" fill="#8c8c8c" stroke="none" stroke-width="1"/>
<text x="270.1" y="794.5" font-size="12.8" fill="#1a1a1a">300nM</text>
<line x1="312" y1="773.6" x2="312" y2="805" stroke="#000" stroke-width="1.5"/>
<polygon points="105.5,926 191.6,913.8 278.5,910.7 364.5,939.3 451,981.1 451,995.5 364.5,988.1 278.5,975.9 191.6,966.2 105.5,964.4" fill="#dcdcdc"/>
<polyline points="61.3,895.7 61.3,1003.3 494.7,1003.3" fill="none" stroke="#000" stroke-width="1.4" stroke-linejoin="round" stroke-linejoin="miter"/>
<line x1="57.6" y1="996.7" x2="61.3" y2="996.7" stroke="#000" stroke-width="1.3"/>
<text x="55.9" y="1001.2" font-size="13" text-anchor="end" fill="#1a1a1a">0.0</text>
<line x1="57.6" y1="963.04" x2="61.3" y2="963.04" stroke="#000" stroke-width="1.3"/>
<text x="55.9" y="967.54" font-size="13" text-anchor="end" fill="#1a1a1a">0.2</text>
<line x1="57.6" y1="929.38" x2="61.3" y2="929.38" stroke="#000" stroke-width="1.3"/>
<text x="55.9" y="933.88" font-size="13" text-anchor="end" fill="#1a1a1a">0.4</text>
<line x1="57.6" y1="895.72" x2="61.3" y2="895.72" stroke="#000" stroke-width="1.3"/>
<text x="55.9" y="900.22" font-size="13" text-anchor="end" fill="#1a1a1a">0.6</text>
<line x1="61.3" y1="1003.3" x2="61.3" y2="1006.8" stroke="#000" stroke-width="1.3"/>
<line x1="148" y1="1003.3" x2="148" y2="1006.8" stroke="#000" stroke-width="1.3"/>
<line x1="235" y1="1003.3" x2="235" y2="1006.8" stroke="#000" stroke-width="1.3"/>
<line x1="321.6" y1="1003.3" x2="321.6" y2="1006.8" stroke="#000" stroke-width="1.3"/>
<line x1="407.9" y1="1003.3" x2="407.9" y2="1006.8" stroke="#000" stroke-width="1.3"/>
<line x1="494.7" y1="1003.3" x2="494.7" y2="1006.8" stroke="#000" stroke-width="1.3"/>
<text x="105.5" y="1017.3" font-size="13" text-anchor="middle" fill="#1a1a1a">0.25</text>
<text x="191.6" y="1017.3" font-size="13" text-anchor="middle" fill="#1a1a1a">0.5</text>
<text x="278.5" y="1017.3" font-size="13" text-anchor="middle" fill="#1a1a1a">1</text>
<text x="364.5" y="1017.3" font-size="13" text-anchor="middle" fill="#1a1a1a">2</text>
<text x="451" y="1017.3" font-size="13" text-anchor="middle" fill="#1a1a1a">4</text>
<text x="278.2" y="1040" font-size="13.1" text-anchor="middle" fill="#1a1a1a">Velocity (mm/s)</text>
<text x="0" y="0" font-size="13" text-anchor="middle" fill="#1a1a1a" transform="translate(30.3,945.6) rotate(-90)">DSI</text>
<polyline points="105.5,926 191.6,913.8 278.5,910.7 364.5,939.3 451,981.1" fill="none" stroke="#000" stroke-width="1.5" stroke-linejoin="round"/>
<polyline points="105.5,964.4 191.6,966.2 278.5,975.9 364.5,988.1 451,995.5" fill="none" stroke="#000" stroke-width="1.5" stroke-linejoin="round"/>
<line x1="105.5" y1="919.7" x2="105.5" y2="932.3" stroke="#000" stroke-width="1.3"/>
<line x1="102.9" y1="919.7" x2="108.1" y2="919.7" stroke="#000" stroke-width="1.3"/>
<line x1="102.9" y1="932.3" x2="108.1" y2="932.3" stroke="#000" stroke-width="1.3"/>
<circle cx="105.5" cy="926" r="4.3" fill="#000" stroke="none" stroke-width="1"/>
<line x1="191.6" y1="908.6" x2="191.6" y2="919" stroke="#000" stroke-width="1.3"/>
<line x1="189" y1="908.6" x2="194.2" y2="908.6" stroke="#000" stroke-width="1.3"/>
<line x1="189" y1="919" x2="194.2" y2="919" stroke="#000" stroke-width="1.3"/>
<circle cx="191.6" cy="913.8" r="4.3" fill="#000" stroke="none" stroke-width="1"/>
<line x1="278.5" y1="908.2" x2="278.5" y2="913.2" stroke="#000" stroke-width="1.3"/>
<line x1="275.9" y1="908.2" x2="281.1" y2="908.2" stroke="#000" stroke-width="1.3"/>
<line x1="275.9" y1="913.2" x2="281.1" y2="913.2" stroke="#000" stroke-width="1.3"/>
<circle cx="278.5" cy="910.7" r="4.3" fill="#000" stroke="none" stroke-width="1"/>
<line x1="364.5" y1="931.1" x2="364.5" y2="947.5" stroke="#000" stroke-width="1.3"/>
<line x1="361.9" y1="931.1" x2="367.1" y2="931.1" stroke="#000" stroke-width="1.3"/>
<line x1="361.9" y1="947.5" x2="367.1" y2="947.5" stroke="#000" stroke-width="1.3"/>
<circle cx="364.5" cy="939.3" r="4.3" fill="#000" stroke="none" stroke-width="1"/>
<line x1="451" y1="979.1" x2="451" y2="983.1" stroke="#000" stroke-width="1.3"/>
<line x1="448.4" y1="979.1" x2="453.6" y2="979.1" stroke="#000" stroke-width="1.3"/>
<line x1="448.4" y1="983.1" x2="453.6" y2="983.1" stroke="#000" stroke-width="1.3"/>
<circle cx="451" cy="981.1" r="4.3" fill="#000" stroke="none" stroke-width="1"/>
<circle cx="105.5" cy="964.4" r="3.9" fill="#fff" stroke="#000" stroke-width="1.3"/>
<circle cx="191.6" cy="966.2" r="3.9" fill="#fff" stroke="#000" stroke-width="1.3"/>
<circle cx="278.5" cy="975.9" r="3.9" fill="#fff" stroke="#000" stroke-width="1.3"/>
<circle cx="364.5" cy="988.1" r="3.9" fill="#fff" stroke="#000" stroke-width="1.3"/>
<circle cx="451" cy="995.5" r="3.9" fill="#fff" stroke="#000" stroke-width="1.3"/>
<line x1="390.5" y1="899" x2="413.7" y2="899" stroke="#000" stroke-width="1.4"/>
<circle cx="402.6" cy="899" r="3.8" fill="#000" stroke="none" stroke-width="1"/>
<text x="419.6" y="903.2" font-size="13.1" fill="#1a1a1a">Full model</text>
<line x1="390.5" y1="913.7" x2="413.7" y2="913.7" stroke="#000" stroke-width="1.4"/>
<circle cx="402.6" cy="913.7" r="3.5" fill="#fff" stroke="#000" stroke-width="1.2"/>
<text x="419.6" y="918" font-size="13.1" fill="#1a1a1a">Identical BCs</text>
</svg>
</body></html>
